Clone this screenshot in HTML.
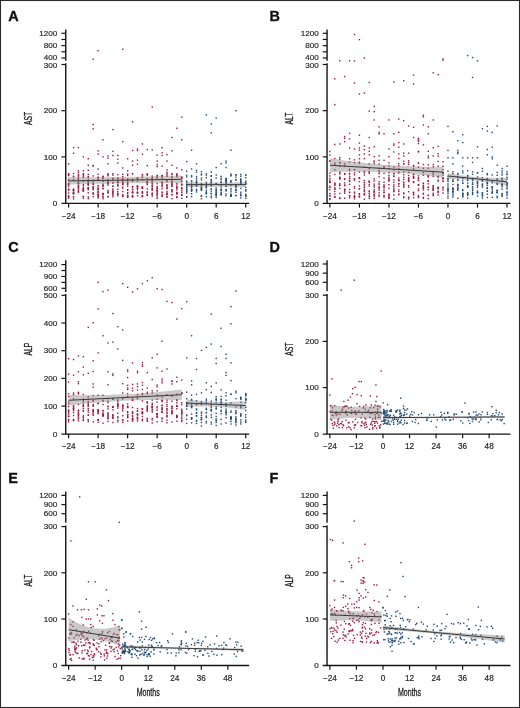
<!DOCTYPE html>
<html><head><meta charset="utf-8"><style>
html,body{margin:0;padding:0;background:#fff;}
svg{display:block;will-change:transform;}
.ax{stroke:#141414;stroke-width:1.4;fill:none}
.tk{stroke:#141414;stroke-width:1.2}
text{font-family:"Liberation Sans",sans-serif;}
.yl{font-size:8.1px;fill:#262626;text-anchor:end;stroke:#262626;stroke-width:0.18px}
.xl{font-size:8.2px;fill:#262626;text-anchor:middle;stroke:#262626;stroke-width:0.18px}
.let{font-size:14.4px;font-weight:bold;fill:#111;stroke:#111;stroke-width:0.35px}
.yt{font-size:10.3px;fill:#1a1a1a;text-anchor:middle;stroke:#1a1a1a;stroke-width:0.3px}
.mt{font-size:11px;fill:#1a1a1a;text-anchor:middle;stroke:#1a1a1a;stroke-width:0.3px}
.r{fill:#a3183f}
.b{fill:#214b78}
.band{fill:#858585;fill-opacity:0.44}
.rl{stroke:#3a3a3a;stroke-width:1.0;fill:none}
</style></head>
<body><svg width="520" height="708" viewBox="0 0 520 708">
<rect x="0" y="0" width="520" height="708" fill="#fff"/>
<rect x="67.9" y="182.69" width="1.4" height="1.4" class="r"/>
<rect x="67.9" y="184.04" width="1.4" height="1.4" class="r"/>
<rect x="67.9" y="192.27" width="1.4" height="1.4" class="r"/>
<rect x="67.9" y="188.38" width="1.4" height="1.4" class="r"/>
<rect x="67.9" y="189.13" width="1.4" height="1.4" class="r"/>
<rect x="67.9" y="185.86" width="1.4" height="1.4" class="r"/>
<rect x="67.9" y="183.64" width="1.4" height="1.4" class="r"/>
<rect x="67.9" y="194.88" width="1.4" height="1.4" class="r"/>
<rect x="67.9" y="195.94" width="1.4" height="1.4" class="r"/>
<rect x="67.9" y="182.88" width="1.4" height="1.4" class="r"/>
<rect x="67.9" y="189.4" width="1.4" height="1.4" class="r"/>
<rect x="67.9" y="184.07" width="1.4" height="1.4" class="r"/>
<rect x="67.9" y="196.36" width="1.4" height="1.4" class="r"/>
<rect x="67.9" y="174.89" width="1.4" height="1.4" class="r"/>
<rect x="67.9" y="178.53" width="1.4" height="1.4" class="r"/>
<rect x="67.9" y="173.24" width="1.4" height="1.4" class="r"/>
<rect x="67.9" y="173.56" width="1.4" height="1.4" class="r"/>
<rect x="67.9" y="180" width="1.4" height="1.4" class="r"/>
<rect x="67.9" y="197.45" width="1.4" height="1.4" class="r"/>
<rect x="72.82" y="190.23" width="1.4" height="1.4" class="r"/>
<rect x="72.82" y="192.89" width="1.4" height="1.4" class="r"/>
<rect x="72.82" y="189.57" width="1.4" height="1.4" class="r"/>
<rect x="72.82" y="195.92" width="1.4" height="1.4" class="r"/>
<rect x="72.82" y="192.81" width="1.4" height="1.4" class="r"/>
<rect x="72.82" y="189.31" width="1.4" height="1.4" class="r"/>
<rect x="72.82" y="188.38" width="1.4" height="1.4" class="r"/>
<rect x="72.82" y="192.63" width="1.4" height="1.4" class="r"/>
<rect x="72.82" y="192.66" width="1.4" height="1.4" class="r"/>
<rect x="72.82" y="192.86" width="1.4" height="1.4" class="r"/>
<rect x="72.82" y="188.96" width="1.4" height="1.4" class="r"/>
<rect x="72.82" y="191.71" width="1.4" height="1.4" class="r"/>
<rect x="72.82" y="196.05" width="1.4" height="1.4" class="r"/>
<rect x="72.82" y="176.11" width="1.4" height="1.4" class="r"/>
<rect x="72.82" y="175.48" width="1.4" height="1.4" class="r"/>
<rect x="72.82" y="178.85" width="1.4" height="1.4" class="r"/>
<rect x="72.82" y="172.89" width="1.4" height="1.4" class="r"/>
<rect x="77.74" y="191.01" width="1.4" height="1.4" class="r"/>
<rect x="77.74" y="184.73" width="1.4" height="1.4" class="r"/>
<rect x="77.74" y="184.89" width="1.4" height="1.4" class="r"/>
<rect x="77.74" y="181.25" width="1.4" height="1.4" class="r"/>
<rect x="77.74" y="189.57" width="1.4" height="1.4" class="r"/>
<rect x="77.74" y="182.97" width="1.4" height="1.4" class="r"/>
<rect x="77.74" y="185.56" width="1.4" height="1.4" class="r"/>
<rect x="77.74" y="191.49" width="1.4" height="1.4" class="r"/>
<rect x="77.74" y="186.89" width="1.4" height="1.4" class="r"/>
<rect x="77.74" y="182.12" width="1.4" height="1.4" class="r"/>
<rect x="77.74" y="182.71" width="1.4" height="1.4" class="r"/>
<rect x="77.74" y="188.22" width="1.4" height="1.4" class="r"/>
<rect x="77.74" y="186.87" width="1.4" height="1.4" class="r"/>
<rect x="77.74" y="178.43" width="1.4" height="1.4" class="r"/>
<rect x="77.74" y="174.33" width="1.4" height="1.4" class="r"/>
<rect x="77.74" y="177.16" width="1.4" height="1.4" class="r"/>
<rect x="77.74" y="178.95" width="1.4" height="1.4" class="r"/>
<rect x="77.74" y="176.17" width="1.4" height="1.4" class="r"/>
<rect x="82.66" y="190.34" width="1.4" height="1.4" class="r"/>
<rect x="82.66" y="189.3" width="1.4" height="1.4" class="r"/>
<rect x="82.66" y="188.17" width="1.4" height="1.4" class="r"/>
<rect x="82.66" y="183.81" width="1.4" height="1.4" class="r"/>
<rect x="82.66" y="187.97" width="1.4" height="1.4" class="r"/>
<rect x="82.66" y="190.04" width="1.4" height="1.4" class="r"/>
<rect x="82.66" y="188.48" width="1.4" height="1.4" class="r"/>
<rect x="82.66" y="195.92" width="1.4" height="1.4" class="r"/>
<rect x="82.66" y="195.69" width="1.4" height="1.4" class="r"/>
<rect x="82.66" y="185.02" width="1.4" height="1.4" class="r"/>
<rect x="82.66" y="180.5" width="1.4" height="1.4" class="r"/>
<rect x="82.66" y="186.8" width="1.4" height="1.4" class="r"/>
<rect x="82.66" y="190.03" width="1.4" height="1.4" class="r"/>
<rect x="82.66" y="176.51" width="1.4" height="1.4" class="r"/>
<rect x="82.66" y="172.96" width="1.4" height="1.4" class="r"/>
<rect x="82.66" y="174.53" width="1.4" height="1.4" class="r"/>
<rect x="82.66" y="176.24" width="1.4" height="1.4" class="r"/>
<rect x="82.66" y="173.86" width="1.4" height="1.4" class="r"/>
<rect x="82.66" y="197.52" width="1.4" height="1.4" class="r"/>
<rect x="87.58" y="187.05" width="1.4" height="1.4" class="r"/>
<rect x="87.58" y="188.97" width="1.4" height="1.4" class="r"/>
<rect x="87.58" y="192.04" width="1.4" height="1.4" class="r"/>
<rect x="87.58" y="187.53" width="1.4" height="1.4" class="r"/>
<rect x="87.58" y="180.92" width="1.4" height="1.4" class="r"/>
<rect x="87.58" y="196.3" width="1.4" height="1.4" class="r"/>
<rect x="87.58" y="183.72" width="1.4" height="1.4" class="r"/>
<rect x="87.58" y="183.13" width="1.4" height="1.4" class="r"/>
<rect x="87.58" y="182.06" width="1.4" height="1.4" class="r"/>
<rect x="87.58" y="184.42" width="1.4" height="1.4" class="r"/>
<rect x="87.58" y="183.31" width="1.4" height="1.4" class="r"/>
<rect x="87.58" y="188.01" width="1.4" height="1.4" class="r"/>
<rect x="87.58" y="187.32" width="1.4" height="1.4" class="r"/>
<rect x="87.58" y="179.81" width="1.4" height="1.4" class="r"/>
<rect x="87.58" y="173.79" width="1.4" height="1.4" class="r"/>
<rect x="87.58" y="176.01" width="1.4" height="1.4" class="r"/>
<rect x="87.58" y="178.75" width="1.4" height="1.4" class="r"/>
<rect x="87.58" y="176.49" width="1.4" height="1.4" class="r"/>
<rect x="87.58" y="197.88" width="1.4" height="1.4" class="r"/>
<rect x="92.5" y="187.69" width="1.4" height="1.4" class="r"/>
<rect x="92.5" y="186.31" width="1.4" height="1.4" class="r"/>
<rect x="92.5" y="186.49" width="1.4" height="1.4" class="r"/>
<rect x="92.5" y="188.99" width="1.4" height="1.4" class="r"/>
<rect x="92.5" y="195.94" width="1.4" height="1.4" class="r"/>
<rect x="92.5" y="192.68" width="1.4" height="1.4" class="r"/>
<rect x="92.5" y="193.53" width="1.4" height="1.4" class="r"/>
<rect x="92.5" y="186.94" width="1.4" height="1.4" class="r"/>
<rect x="92.5" y="182.47" width="1.4" height="1.4" class="r"/>
<rect x="92.5" y="183.48" width="1.4" height="1.4" class="r"/>
<rect x="92.5" y="183.5" width="1.4" height="1.4" class="r"/>
<rect x="92.5" y="183.19" width="1.4" height="1.4" class="r"/>
<rect x="92.5" y="192.27" width="1.4" height="1.4" class="r"/>
<rect x="92.5" y="175.25" width="1.4" height="1.4" class="r"/>
<rect x="92.5" y="179.61" width="1.4" height="1.4" class="r"/>
<rect x="92.5" y="180.1" width="1.4" height="1.4" class="r"/>
<rect x="92.5" y="180.12" width="1.4" height="1.4" class="r"/>
<rect x="97.42" y="194.62" width="1.4" height="1.4" class="r"/>
<rect x="97.42" y="186.29" width="1.4" height="1.4" class="r"/>
<rect x="97.42" y="190.82" width="1.4" height="1.4" class="r"/>
<rect x="97.42" y="195.27" width="1.4" height="1.4" class="r"/>
<rect x="97.42" y="193.81" width="1.4" height="1.4" class="r"/>
<rect x="97.42" y="187.87" width="1.4" height="1.4" class="r"/>
<rect x="97.42" y="193.68" width="1.4" height="1.4" class="r"/>
<rect x="97.42" y="191.98" width="1.4" height="1.4" class="r"/>
<rect x="97.42" y="184.89" width="1.4" height="1.4" class="r"/>
<rect x="97.42" y="189.04" width="1.4" height="1.4" class="r"/>
<rect x="97.42" y="191.19" width="1.4" height="1.4" class="r"/>
<rect x="97.42" y="188.73" width="1.4" height="1.4" class="r"/>
<rect x="97.42" y="196.01" width="1.4" height="1.4" class="r"/>
<rect x="97.42" y="177.11" width="1.4" height="1.4" class="r"/>
<rect x="97.42" y="178.83" width="1.4" height="1.4" class="r"/>
<rect x="97.42" y="179.42" width="1.4" height="1.4" class="r"/>
<rect x="97.42" y="173.57" width="1.4" height="1.4" class="r"/>
<rect x="97.42" y="176.45" width="1.4" height="1.4" class="r"/>
<rect x="97.42" y="197.3" width="1.4" height="1.4" class="r"/>
<rect x="102.34" y="196.06" width="1.4" height="1.4" class="r"/>
<rect x="102.34" y="196.11" width="1.4" height="1.4" class="r"/>
<rect x="102.34" y="194.03" width="1.4" height="1.4" class="r"/>
<rect x="102.34" y="184.77" width="1.4" height="1.4" class="r"/>
<rect x="102.34" y="193.8" width="1.4" height="1.4" class="r"/>
<rect x="102.34" y="185" width="1.4" height="1.4" class="r"/>
<rect x="102.34" y="185.43" width="1.4" height="1.4" class="r"/>
<rect x="102.34" y="187.59" width="1.4" height="1.4" class="r"/>
<rect x="102.34" y="192.83" width="1.4" height="1.4" class="r"/>
<rect x="102.34" y="180.62" width="1.4" height="1.4" class="r"/>
<rect x="102.34" y="183.49" width="1.4" height="1.4" class="r"/>
<rect x="102.34" y="188.04" width="1.4" height="1.4" class="r"/>
<rect x="102.34" y="192.78" width="1.4" height="1.4" class="r"/>
<rect x="102.34" y="177.3" width="1.4" height="1.4" class="r"/>
<rect x="102.34" y="175.97" width="1.4" height="1.4" class="r"/>
<rect x="102.34" y="177.85" width="1.4" height="1.4" class="r"/>
<rect x="102.34" y="175.56" width="1.4" height="1.4" class="r"/>
<rect x="102.34" y="198.01" width="1.4" height="1.4" class="r"/>
<rect x="107.26" y="182.24" width="1.4" height="1.4" class="r"/>
<rect x="107.26" y="191.44" width="1.4" height="1.4" class="r"/>
<rect x="107.26" y="182.51" width="1.4" height="1.4" class="r"/>
<rect x="107.26" y="191.38" width="1.4" height="1.4" class="r"/>
<rect x="107.26" y="181.21" width="1.4" height="1.4" class="r"/>
<rect x="107.26" y="184.37" width="1.4" height="1.4" class="r"/>
<rect x="107.26" y="189.66" width="1.4" height="1.4" class="r"/>
<rect x="107.26" y="192.31" width="1.4" height="1.4" class="r"/>
<rect x="107.26" y="196.26" width="1.4" height="1.4" class="r"/>
<rect x="107.26" y="182.19" width="1.4" height="1.4" class="r"/>
<rect x="107.26" y="195.78" width="1.4" height="1.4" class="r"/>
<rect x="107.26" y="183.14" width="1.4" height="1.4" class="r"/>
<rect x="107.26" y="180.84" width="1.4" height="1.4" class="r"/>
<rect x="107.26" y="178.96" width="1.4" height="1.4" class="r"/>
<rect x="107.26" y="173.81" width="1.4" height="1.4" class="r"/>
<rect x="107.26" y="173.03" width="1.4" height="1.4" class="r"/>
<rect x="107.26" y="175.02" width="1.4" height="1.4" class="r"/>
<rect x="112.18" y="190.78" width="1.4" height="1.4" class="r"/>
<rect x="112.18" y="193.07" width="1.4" height="1.4" class="r"/>
<rect x="112.18" y="185.49" width="1.4" height="1.4" class="r"/>
<rect x="112.18" y="189.39" width="1.4" height="1.4" class="r"/>
<rect x="112.18" y="193.26" width="1.4" height="1.4" class="r"/>
<rect x="112.18" y="194.71" width="1.4" height="1.4" class="r"/>
<rect x="112.18" y="185.63" width="1.4" height="1.4" class="r"/>
<rect x="112.18" y="191.61" width="1.4" height="1.4" class="r"/>
<rect x="112.18" y="188.31" width="1.4" height="1.4" class="r"/>
<rect x="112.18" y="191.13" width="1.4" height="1.4" class="r"/>
<rect x="112.18" y="182.3" width="1.4" height="1.4" class="r"/>
<rect x="112.18" y="181.85" width="1.4" height="1.4" class="r"/>
<rect x="112.18" y="196.1" width="1.4" height="1.4" class="r"/>
<rect x="112.18" y="177.8" width="1.4" height="1.4" class="r"/>
<rect x="112.18" y="172.93" width="1.4" height="1.4" class="r"/>
<rect x="112.18" y="174.44" width="1.4" height="1.4" class="r"/>
<rect x="112.18" y="177.72" width="1.4" height="1.4" class="r"/>
<rect x="112.18" y="178.65" width="1.4" height="1.4" class="r"/>
<rect x="117.1" y="181.32" width="1.4" height="1.4" class="r"/>
<rect x="117.1" y="190.83" width="1.4" height="1.4" class="r"/>
<rect x="117.1" y="182.13" width="1.4" height="1.4" class="r"/>
<rect x="117.1" y="185.28" width="1.4" height="1.4" class="r"/>
<rect x="117.1" y="188.56" width="1.4" height="1.4" class="r"/>
<rect x="117.1" y="180.46" width="1.4" height="1.4" class="r"/>
<rect x="117.1" y="192.6" width="1.4" height="1.4" class="r"/>
<rect x="117.1" y="184.66" width="1.4" height="1.4" class="r"/>
<rect x="117.1" y="195.02" width="1.4" height="1.4" class="r"/>
<rect x="117.1" y="193.65" width="1.4" height="1.4" class="r"/>
<rect x="117.1" y="181.66" width="1.4" height="1.4" class="r"/>
<rect x="117.1" y="192.95" width="1.4" height="1.4" class="r"/>
<rect x="117.1" y="184.12" width="1.4" height="1.4" class="r"/>
<rect x="117.1" y="174.01" width="1.4" height="1.4" class="r"/>
<rect x="117.1" y="177.5" width="1.4" height="1.4" class="r"/>
<rect x="117.1" y="177.71" width="1.4" height="1.4" class="r"/>
<rect x="117.1" y="178.07" width="1.4" height="1.4" class="r"/>
<rect x="122.02" y="180.96" width="1.4" height="1.4" class="r"/>
<rect x="122.02" y="182.05" width="1.4" height="1.4" class="r"/>
<rect x="122.02" y="194.21" width="1.4" height="1.4" class="r"/>
<rect x="122.02" y="187.48" width="1.4" height="1.4" class="r"/>
<rect x="122.02" y="194.71" width="1.4" height="1.4" class="r"/>
<rect x="122.02" y="195.76" width="1.4" height="1.4" class="r"/>
<rect x="122.02" y="195.21" width="1.4" height="1.4" class="r"/>
<rect x="122.02" y="182.39" width="1.4" height="1.4" class="r"/>
<rect x="122.02" y="183.65" width="1.4" height="1.4" class="r"/>
<rect x="122.02" y="183" width="1.4" height="1.4" class="r"/>
<rect x="122.02" y="190.88" width="1.4" height="1.4" class="r"/>
<rect x="122.02" y="186.45" width="1.4" height="1.4" class="r"/>
<rect x="122.02" y="183.75" width="1.4" height="1.4" class="r"/>
<rect x="122.02" y="176" width="1.4" height="1.4" class="r"/>
<rect x="122.02" y="178.57" width="1.4" height="1.4" class="r"/>
<rect x="122.02" y="179.62" width="1.4" height="1.4" class="r"/>
<rect x="122.02" y="178.25" width="1.4" height="1.4" class="r"/>
<rect x="122.02" y="173.64" width="1.4" height="1.4" class="r"/>
<rect x="126.94" y="188.99" width="1.4" height="1.4" class="r"/>
<rect x="126.94" y="191.91" width="1.4" height="1.4" class="r"/>
<rect x="126.94" y="183.67" width="1.4" height="1.4" class="r"/>
<rect x="126.94" y="183.01" width="1.4" height="1.4" class="r"/>
<rect x="126.94" y="196.19" width="1.4" height="1.4" class="r"/>
<rect x="126.94" y="185.55" width="1.4" height="1.4" class="r"/>
<rect x="126.94" y="194.91" width="1.4" height="1.4" class="r"/>
<rect x="126.94" y="194.53" width="1.4" height="1.4" class="r"/>
<rect x="126.94" y="182.08" width="1.4" height="1.4" class="r"/>
<rect x="126.94" y="195.75" width="1.4" height="1.4" class="r"/>
<rect x="126.94" y="192.52" width="1.4" height="1.4" class="r"/>
<rect x="126.94" y="180.42" width="1.4" height="1.4" class="r"/>
<rect x="126.94" y="189.59" width="1.4" height="1.4" class="r"/>
<rect x="126.94" y="178.99" width="1.4" height="1.4" class="r"/>
<rect x="126.94" y="178.44" width="1.4" height="1.4" class="r"/>
<rect x="126.94" y="174.72" width="1.4" height="1.4" class="r"/>
<rect x="126.94" y="179.46" width="1.4" height="1.4" class="r"/>
<rect x="126.94" y="173.49" width="1.4" height="1.4" class="r"/>
<rect x="126.94" y="196.46" width="1.4" height="1.4" class="r"/>
<rect x="131.86" y="191.64" width="1.4" height="1.4" class="r"/>
<rect x="131.86" y="192.3" width="1.4" height="1.4" class="r"/>
<rect x="131.86" y="188.68" width="1.4" height="1.4" class="r"/>
<rect x="131.86" y="194.77" width="1.4" height="1.4" class="r"/>
<rect x="131.86" y="185.85" width="1.4" height="1.4" class="r"/>
<rect x="131.86" y="195.75" width="1.4" height="1.4" class="r"/>
<rect x="131.86" y="196.22" width="1.4" height="1.4" class="r"/>
<rect x="131.86" y="180.51" width="1.4" height="1.4" class="r"/>
<rect x="131.86" y="191.61" width="1.4" height="1.4" class="r"/>
<rect x="131.86" y="186.75" width="1.4" height="1.4" class="r"/>
<rect x="131.86" y="189.12" width="1.4" height="1.4" class="r"/>
<rect x="131.86" y="191.33" width="1.4" height="1.4" class="r"/>
<rect x="131.86" y="195.38" width="1.4" height="1.4" class="r"/>
<rect x="131.86" y="173.06" width="1.4" height="1.4" class="r"/>
<rect x="131.86" y="173.06" width="1.4" height="1.4" class="r"/>
<rect x="131.86" y="179.4" width="1.4" height="1.4" class="r"/>
<rect x="131.86" y="178.63" width="1.4" height="1.4" class="r"/>
<rect x="136.78" y="187.62" width="1.4" height="1.4" class="r"/>
<rect x="136.78" y="185.27" width="1.4" height="1.4" class="r"/>
<rect x="136.78" y="185.69" width="1.4" height="1.4" class="r"/>
<rect x="136.78" y="192.2" width="1.4" height="1.4" class="r"/>
<rect x="136.78" y="187.64" width="1.4" height="1.4" class="r"/>
<rect x="136.78" y="191.42" width="1.4" height="1.4" class="r"/>
<rect x="136.78" y="192.41" width="1.4" height="1.4" class="r"/>
<rect x="136.78" y="195.08" width="1.4" height="1.4" class="r"/>
<rect x="136.78" y="191.85" width="1.4" height="1.4" class="r"/>
<rect x="136.78" y="180.49" width="1.4" height="1.4" class="r"/>
<rect x="136.78" y="189.15" width="1.4" height="1.4" class="r"/>
<rect x="136.78" y="185.85" width="1.4" height="1.4" class="r"/>
<rect x="136.78" y="185.99" width="1.4" height="1.4" class="r"/>
<rect x="136.78" y="177.34" width="1.4" height="1.4" class="r"/>
<rect x="136.78" y="177.96" width="1.4" height="1.4" class="r"/>
<rect x="136.78" y="177.81" width="1.4" height="1.4" class="r"/>
<rect x="136.78" y="177.88" width="1.4" height="1.4" class="r"/>
<rect x="141.7" y="191.5" width="1.4" height="1.4" class="r"/>
<rect x="141.7" y="190.99" width="1.4" height="1.4" class="r"/>
<rect x="141.7" y="187.59" width="1.4" height="1.4" class="r"/>
<rect x="141.7" y="187.03" width="1.4" height="1.4" class="r"/>
<rect x="141.7" y="186.76" width="1.4" height="1.4" class="r"/>
<rect x="141.7" y="192.43" width="1.4" height="1.4" class="r"/>
<rect x="141.7" y="196.06" width="1.4" height="1.4" class="r"/>
<rect x="141.7" y="192.45" width="1.4" height="1.4" class="r"/>
<rect x="141.7" y="195.22" width="1.4" height="1.4" class="r"/>
<rect x="141.7" y="187.48" width="1.4" height="1.4" class="r"/>
<rect x="141.7" y="195.25" width="1.4" height="1.4" class="r"/>
<rect x="141.7" y="195.18" width="1.4" height="1.4" class="r"/>
<rect x="141.7" y="186.12" width="1.4" height="1.4" class="r"/>
<rect x="141.7" y="174.37" width="1.4" height="1.4" class="r"/>
<rect x="141.7" y="176.58" width="1.4" height="1.4" class="r"/>
<rect x="141.7" y="173.85" width="1.4" height="1.4" class="r"/>
<rect x="141.7" y="179.08" width="1.4" height="1.4" class="r"/>
<rect x="141.7" y="176.52" width="1.4" height="1.4" class="r"/>
<rect x="146.62" y="181.04" width="1.4" height="1.4" class="r"/>
<rect x="146.62" y="193.59" width="1.4" height="1.4" class="r"/>
<rect x="146.62" y="183.84" width="1.4" height="1.4" class="r"/>
<rect x="146.62" y="180.47" width="1.4" height="1.4" class="r"/>
<rect x="146.62" y="183.11" width="1.4" height="1.4" class="r"/>
<rect x="146.62" y="191.22" width="1.4" height="1.4" class="r"/>
<rect x="146.62" y="194.67" width="1.4" height="1.4" class="r"/>
<rect x="146.62" y="188.08" width="1.4" height="1.4" class="r"/>
<rect x="146.62" y="181.53" width="1.4" height="1.4" class="r"/>
<rect x="146.62" y="191.65" width="1.4" height="1.4" class="r"/>
<rect x="146.62" y="181.94" width="1.4" height="1.4" class="r"/>
<rect x="146.62" y="194.1" width="1.4" height="1.4" class="r"/>
<rect x="146.62" y="181.67" width="1.4" height="1.4" class="r"/>
<rect x="146.62" y="177.89" width="1.4" height="1.4" class="r"/>
<rect x="146.62" y="173.55" width="1.4" height="1.4" class="r"/>
<rect x="146.62" y="174.28" width="1.4" height="1.4" class="r"/>
<rect x="146.62" y="173.52" width="1.4" height="1.4" class="r"/>
<rect x="146.62" y="174.01" width="1.4" height="1.4" class="r"/>
<rect x="151.54" y="193.51" width="1.4" height="1.4" class="r"/>
<rect x="151.54" y="189.4" width="1.4" height="1.4" class="r"/>
<rect x="151.54" y="193.84" width="1.4" height="1.4" class="r"/>
<rect x="151.54" y="184.84" width="1.4" height="1.4" class="r"/>
<rect x="151.54" y="185.6" width="1.4" height="1.4" class="r"/>
<rect x="151.54" y="192.31" width="1.4" height="1.4" class="r"/>
<rect x="151.54" y="195.35" width="1.4" height="1.4" class="r"/>
<rect x="151.54" y="180.82" width="1.4" height="1.4" class="r"/>
<rect x="151.54" y="183.32" width="1.4" height="1.4" class="r"/>
<rect x="151.54" y="187.51" width="1.4" height="1.4" class="r"/>
<rect x="151.54" y="187.64" width="1.4" height="1.4" class="r"/>
<rect x="151.54" y="182.63" width="1.4" height="1.4" class="r"/>
<rect x="151.54" y="189.06" width="1.4" height="1.4" class="r"/>
<rect x="151.54" y="177.72" width="1.4" height="1.4" class="r"/>
<rect x="151.54" y="178.32" width="1.4" height="1.4" class="r"/>
<rect x="151.54" y="180.04" width="1.4" height="1.4" class="r"/>
<rect x="151.54" y="175.45" width="1.4" height="1.4" class="r"/>
<rect x="151.54" y="177.14" width="1.4" height="1.4" class="r"/>
<rect x="156.46" y="190.65" width="1.4" height="1.4" class="r"/>
<rect x="156.46" y="194.16" width="1.4" height="1.4" class="r"/>
<rect x="156.46" y="194.37" width="1.4" height="1.4" class="r"/>
<rect x="156.46" y="192.2" width="1.4" height="1.4" class="r"/>
<rect x="156.46" y="182.99" width="1.4" height="1.4" class="r"/>
<rect x="156.46" y="189.96" width="1.4" height="1.4" class="r"/>
<rect x="156.46" y="189.91" width="1.4" height="1.4" class="r"/>
<rect x="156.46" y="186.49" width="1.4" height="1.4" class="r"/>
<rect x="156.46" y="192.62" width="1.4" height="1.4" class="r"/>
<rect x="156.46" y="196.27" width="1.4" height="1.4" class="r"/>
<rect x="156.46" y="187.84" width="1.4" height="1.4" class="r"/>
<rect x="156.46" y="188.29" width="1.4" height="1.4" class="r"/>
<rect x="156.46" y="185.9" width="1.4" height="1.4" class="r"/>
<rect x="156.46" y="175.15" width="1.4" height="1.4" class="r"/>
<rect x="156.46" y="174.82" width="1.4" height="1.4" class="r"/>
<rect x="156.46" y="178.46" width="1.4" height="1.4" class="r"/>
<rect x="156.46" y="176.56" width="1.4" height="1.4" class="r"/>
<rect x="156.46" y="176.68" width="1.4" height="1.4" class="r"/>
<rect x="156.46" y="197.75" width="1.4" height="1.4" class="r"/>
<rect x="161.38" y="181.73" width="1.4" height="1.4" class="r"/>
<rect x="161.38" y="181.55" width="1.4" height="1.4" class="r"/>
<rect x="161.38" y="191.94" width="1.4" height="1.4" class="r"/>
<rect x="161.38" y="185.94" width="1.4" height="1.4" class="r"/>
<rect x="161.38" y="195.61" width="1.4" height="1.4" class="r"/>
<rect x="161.38" y="195.24" width="1.4" height="1.4" class="r"/>
<rect x="161.38" y="188.12" width="1.4" height="1.4" class="r"/>
<rect x="161.38" y="182.21" width="1.4" height="1.4" class="r"/>
<rect x="161.38" y="193.82" width="1.4" height="1.4" class="r"/>
<rect x="161.38" y="184.01" width="1.4" height="1.4" class="r"/>
<rect x="161.38" y="182.12" width="1.4" height="1.4" class="r"/>
<rect x="161.38" y="191.35" width="1.4" height="1.4" class="r"/>
<rect x="161.38" y="185.2" width="1.4" height="1.4" class="r"/>
<rect x="161.38" y="177.48" width="1.4" height="1.4" class="r"/>
<rect x="161.38" y="175.04" width="1.4" height="1.4" class="r"/>
<rect x="161.38" y="174.78" width="1.4" height="1.4" class="r"/>
<rect x="161.38" y="175.83" width="1.4" height="1.4" class="r"/>
<rect x="166.3" y="180.87" width="1.4" height="1.4" class="r"/>
<rect x="166.3" y="187.16" width="1.4" height="1.4" class="r"/>
<rect x="166.3" y="193.54" width="1.4" height="1.4" class="r"/>
<rect x="166.3" y="192.34" width="1.4" height="1.4" class="r"/>
<rect x="166.3" y="192.88" width="1.4" height="1.4" class="r"/>
<rect x="166.3" y="187.18" width="1.4" height="1.4" class="r"/>
<rect x="166.3" y="184.14" width="1.4" height="1.4" class="r"/>
<rect x="166.3" y="195.55" width="1.4" height="1.4" class="r"/>
<rect x="166.3" y="185.37" width="1.4" height="1.4" class="r"/>
<rect x="166.3" y="184.8" width="1.4" height="1.4" class="r"/>
<rect x="166.3" y="190.77" width="1.4" height="1.4" class="r"/>
<rect x="166.3" y="188.07" width="1.4" height="1.4" class="r"/>
<rect x="166.3" y="193.73" width="1.4" height="1.4" class="r"/>
<rect x="166.3" y="179.92" width="1.4" height="1.4" class="r"/>
<rect x="166.3" y="172.97" width="1.4" height="1.4" class="r"/>
<rect x="166.3" y="174.25" width="1.4" height="1.4" class="r"/>
<rect x="166.3" y="175.58" width="1.4" height="1.4" class="r"/>
<rect x="166.3" y="196.6" width="1.4" height="1.4" class="r"/>
<rect x="171.22" y="194.14" width="1.4" height="1.4" class="r"/>
<rect x="171.22" y="183.85" width="1.4" height="1.4" class="r"/>
<rect x="171.22" y="182.78" width="1.4" height="1.4" class="r"/>
<rect x="171.22" y="185.73" width="1.4" height="1.4" class="r"/>
<rect x="171.22" y="185.07" width="1.4" height="1.4" class="r"/>
<rect x="171.22" y="189.2" width="1.4" height="1.4" class="r"/>
<rect x="171.22" y="181.45" width="1.4" height="1.4" class="r"/>
<rect x="171.22" y="180.69" width="1.4" height="1.4" class="r"/>
<rect x="171.22" y="190.21" width="1.4" height="1.4" class="r"/>
<rect x="171.22" y="183.41" width="1.4" height="1.4" class="r"/>
<rect x="171.22" y="189.39" width="1.4" height="1.4" class="r"/>
<rect x="171.22" y="193.73" width="1.4" height="1.4" class="r"/>
<rect x="171.22" y="191.13" width="1.4" height="1.4" class="r"/>
<rect x="171.22" y="173.51" width="1.4" height="1.4" class="r"/>
<rect x="171.22" y="173.13" width="1.4" height="1.4" class="r"/>
<rect x="171.22" y="179.34" width="1.4" height="1.4" class="r"/>
<rect x="171.22" y="175.78" width="1.4" height="1.4" class="r"/>
<rect x="171.22" y="177.21" width="1.4" height="1.4" class="r"/>
<rect x="171.22" y="198.02" width="1.4" height="1.4" class="r"/>
<rect x="176.14" y="184.27" width="1.4" height="1.4" class="r"/>
<rect x="176.14" y="196.33" width="1.4" height="1.4" class="r"/>
<rect x="176.14" y="193.32" width="1.4" height="1.4" class="r"/>
<rect x="176.14" y="189.3" width="1.4" height="1.4" class="r"/>
<rect x="176.14" y="196.05" width="1.4" height="1.4" class="r"/>
<rect x="176.14" y="186.25" width="1.4" height="1.4" class="r"/>
<rect x="176.14" y="186.6" width="1.4" height="1.4" class="r"/>
<rect x="176.14" y="182.89" width="1.4" height="1.4" class="r"/>
<rect x="176.14" y="193.05" width="1.4" height="1.4" class="r"/>
<rect x="176.14" y="191.79" width="1.4" height="1.4" class="r"/>
<rect x="176.14" y="187.62" width="1.4" height="1.4" class="r"/>
<rect x="176.14" y="191.98" width="1.4" height="1.4" class="r"/>
<rect x="176.14" y="186.92" width="1.4" height="1.4" class="r"/>
<rect x="176.14" y="175.17" width="1.4" height="1.4" class="r"/>
<rect x="176.14" y="174.38" width="1.4" height="1.4" class="r"/>
<rect x="176.14" y="174.25" width="1.4" height="1.4" class="r"/>
<rect x="176.14" y="173.03" width="1.4" height="1.4" class="r"/>
<rect x="176.14" y="176.19" width="1.4" height="1.4" class="r"/>
<rect x="176.14" y="196.73" width="1.4" height="1.4" class="r"/>
<rect x="181.06" y="187.17" width="1.4" height="1.4" class="r"/>
<rect x="181.06" y="190.2" width="1.4" height="1.4" class="r"/>
<rect x="181.06" y="191.8" width="1.4" height="1.4" class="r"/>
<rect x="181.06" y="194.65" width="1.4" height="1.4" class="r"/>
<rect x="181.06" y="183.34" width="1.4" height="1.4" class="r"/>
<rect x="181.06" y="194.48" width="1.4" height="1.4" class="r"/>
<rect x="181.06" y="184.31" width="1.4" height="1.4" class="r"/>
<rect x="181.06" y="187.58" width="1.4" height="1.4" class="r"/>
<rect x="181.06" y="180.79" width="1.4" height="1.4" class="r"/>
<rect x="181.06" y="184.09" width="1.4" height="1.4" class="r"/>
<rect x="181.06" y="180.65" width="1.4" height="1.4" class="r"/>
<rect x="181.06" y="194.19" width="1.4" height="1.4" class="r"/>
<rect x="181.06" y="188.3" width="1.4" height="1.4" class="r"/>
<rect x="181.06" y="177.92" width="1.4" height="1.4" class="r"/>
<rect x="181.06" y="176.51" width="1.4" height="1.4" class="r"/>
<rect x="181.06" y="177.59" width="1.4" height="1.4" class="r"/>
<rect x="181.06" y="176.32" width="1.4" height="1.4" class="r"/>
<rect x="181.06" y="197.68" width="1.4" height="1.4" class="r"/>
<rect x="92.5" y="58.51" width="1.4" height="1.4" class="r"/>
<rect x="97.42" y="50.04" width="1.4" height="1.4" class="r"/>
<rect x="122.02" y="48.52" width="1.4" height="1.4" class="r"/>
<rect x="151.54" y="106.3" width="1.4" height="1.4" class="r"/>
<rect x="131.86" y="121.09" width="1.4" height="1.4" class="r"/>
<rect x="92.5" y="123.86" width="1.4" height="1.4" class="r"/>
<rect x="92.5" y="128.02" width="1.4" height="1.4" class="r"/>
<rect x="112.18" y="128.94" width="1.4" height="1.4" class="r"/>
<rect x="102.34" y="139.11" width="1.4" height="1.4" class="r"/>
<rect x="122.02" y="140.95" width="1.4" height="1.4" class="r"/>
<rect x="141.7" y="143.26" width="1.4" height="1.4" class="r"/>
<rect x="72.82" y="146.96" width="1.4" height="1.4" class="r"/>
<rect x="77.74" y="146.96" width="1.4" height="1.4" class="r"/>
<rect x="72.82" y="152.5" width="1.4" height="1.4" class="r"/>
<rect x="97.42" y="150.19" width="1.4" height="1.4" class="r"/>
<rect x="97.42" y="153.43" width="1.4" height="1.4" class="r"/>
<rect x="112.18" y="150.66" width="1.4" height="1.4" class="r"/>
<rect x="112.18" y="154.81" width="1.4" height="1.4" class="r"/>
<rect x="131.86" y="149.73" width="1.4" height="1.4" class="r"/>
<rect x="136.78" y="148.35" width="1.4" height="1.4" class="r"/>
<rect x="136.78" y="149.73" width="1.4" height="1.4" class="r"/>
<rect x="146.62" y="148.81" width="1.4" height="1.4" class="r"/>
<rect x="151.54" y="149.27" width="1.4" height="1.4" class="r"/>
<rect x="156.46" y="154.35" width="1.4" height="1.4" class="r"/>
<rect x="82.66" y="156.2" width="1.4" height="1.4" class="r"/>
<rect x="87.58" y="158.05" width="1.4" height="1.4" class="r"/>
<rect x="102.34" y="156.2" width="1.4" height="1.4" class="r"/>
<rect x="107.26" y="155.28" width="1.4" height="1.4" class="r"/>
<rect x="107.26" y="157.59" width="1.4" height="1.4" class="r"/>
<rect x="117.1" y="154.81" width="1.4" height="1.4" class="r"/>
<rect x="117.1" y="158.51" width="1.4" height="1.4" class="r"/>
<rect x="117.1" y="162.21" width="1.4" height="1.4" class="r"/>
<rect x="126.94" y="158.05" width="1.4" height="1.4" class="r"/>
<rect x="131.86" y="160.36" width="1.4" height="1.4" class="r"/>
<rect x="131.86" y="164.52" width="1.4" height="1.4" class="r"/>
<rect x="136.78" y="159.43" width="1.4" height="1.4" class="r"/>
<rect x="136.78" y="163.59" width="1.4" height="1.4" class="r"/>
<rect x="141.7" y="153.43" width="1.4" height="1.4" class="r"/>
<rect x="146.62" y="164.98" width="1.4" height="1.4" class="r"/>
<rect x="156.46" y="160.36" width="1.4" height="1.4" class="r"/>
<rect x="156.46" y="164.05" width="1.4" height="1.4" class="r"/>
<rect x="156.46" y="165.9" width="1.4" height="1.4" class="r"/>
<rect x="67.9" y="163.13" width="1.4" height="1.4" class="r"/>
<rect x="92.5" y="164.98" width="1.4" height="1.4" class="r"/>
<rect x="87.58" y="164.52" width="1.4" height="1.4" class="r"/>
<rect x="87.58" y="169.6" width="1.4" height="1.4" class="r"/>
<rect x="82.66" y="170.06" width="1.4" height="1.4" class="r"/>
<rect x="77.74" y="170.06" width="1.4" height="1.4" class="r"/>
<rect x="77.74" y="171.91" width="1.4" height="1.4" class="r"/>
<rect x="77.74" y="174.22" width="1.4" height="1.4" class="r"/>
<rect x="97.42" y="168.21" width="1.4" height="1.4" class="r"/>
<rect x="107.26" y="163.13" width="1.4" height="1.4" class="r"/>
<rect x="122.02" y="167.29" width="1.4" height="1.4" class="r"/>
<rect x="126.94" y="170.06" width="1.4" height="1.4" class="r"/>
<rect x="181.06" y="116.47" width="1.4" height="1.4" class="r"/>
<rect x="176.14" y="127.56" width="1.4" height="1.4" class="r"/>
<rect x="171.22" y="136.8" width="1.4" height="1.4" class="r"/>
<rect x="181.06" y="139.11" width="1.4" height="1.4" class="r"/>
<rect x="161.38" y="146.96" width="1.4" height="1.4" class="r"/>
<rect x="161.38" y="152.04" width="1.4" height="1.4" class="r"/>
<rect x="161.38" y="154.81" width="1.4" height="1.4" class="r"/>
<rect x="166.3" y="153.89" width="1.4" height="1.4" class="r"/>
<rect x="171.22" y="150.19" width="1.4" height="1.4" class="r"/>
<rect x="161.38" y="165.44" width="1.4" height="1.4" class="r"/>
<rect x="166.3" y="160.36" width="1.4" height="1.4" class="r"/>
<rect x="166.3" y="169.14" width="1.4" height="1.4" class="r"/>
<rect x="166.3" y="171.45" width="1.4" height="1.4" class="r"/>
<rect x="171.22" y="164.52" width="1.4" height="1.4" class="r"/>
<rect x="176.14" y="167.29" width="1.4" height="1.4" class="r"/>
<rect x="181.06" y="169.14" width="1.4" height="1.4" class="r"/>
<rect x="67.9" y="173.76" width="1.4" height="1.4" class="r"/>
<rect x="72.82" y="198.24" width="1.4" height="1.4" class="r"/>
<rect x="92.5" y="165.44" width="1.4" height="1.4" class="r"/>
<rect x="97.42" y="176.99" width="1.4" height="1.4" class="r"/>
<rect x="185.98" y="190.58" width="1.4" height="1.4" class="b"/>
<rect x="185.98" y="188.92" width="1.4" height="1.4" class="b"/>
<rect x="185.98" y="182.18" width="1.4" height="1.4" class="b"/>
<rect x="185.98" y="183.93" width="1.4" height="1.4" class="b"/>
<rect x="185.98" y="187.29" width="1.4" height="1.4" class="b"/>
<rect x="185.98" y="184.56" width="1.4" height="1.4" class="b"/>
<rect x="185.98" y="189.3" width="1.4" height="1.4" class="b"/>
<rect x="185.98" y="192.35" width="1.4" height="1.4" class="b"/>
<rect x="185.98" y="195.86" width="1.4" height="1.4" class="b"/>
<rect x="185.98" y="191.06" width="1.4" height="1.4" class="b"/>
<rect x="185.98" y="185.43" width="1.4" height="1.4" class="b"/>
<rect x="185.98" y="180.45" width="1.4" height="1.4" class="b"/>
<rect x="185.98" y="181.37" width="1.4" height="1.4" class="b"/>
<rect x="185.98" y="186.96" width="1.4" height="1.4" class="b"/>
<rect x="185.98" y="176.24" width="1.4" height="1.4" class="b"/>
<rect x="185.98" y="174.52" width="1.4" height="1.4" class="b"/>
<rect x="185.98" y="196.52" width="1.4" height="1.4" class="b"/>
<rect x="190.9" y="190.57" width="1.4" height="1.4" class="b"/>
<rect x="190.9" y="192.94" width="1.4" height="1.4" class="b"/>
<rect x="190.9" y="185.05" width="1.4" height="1.4" class="b"/>
<rect x="190.9" y="186.61" width="1.4" height="1.4" class="b"/>
<rect x="190.9" y="189.62" width="1.4" height="1.4" class="b"/>
<rect x="190.9" y="195.87" width="1.4" height="1.4" class="b"/>
<rect x="190.9" y="189.1" width="1.4" height="1.4" class="b"/>
<rect x="190.9" y="188.46" width="1.4" height="1.4" class="b"/>
<rect x="190.9" y="188.82" width="1.4" height="1.4" class="b"/>
<rect x="190.9" y="180.81" width="1.4" height="1.4" class="b"/>
<rect x="190.9" y="185.67" width="1.4" height="1.4" class="b"/>
<rect x="190.9" y="183.05" width="1.4" height="1.4" class="b"/>
<rect x="190.9" y="180.17" width="1.4" height="1.4" class="b"/>
<rect x="190.9" y="176.1" width="1.4" height="1.4" class="b"/>
<rect x="190.9" y="174.93" width="1.4" height="1.4" class="b"/>
<rect x="195.82" y="184.88" width="1.4" height="1.4" class="b"/>
<rect x="195.82" y="188.79" width="1.4" height="1.4" class="b"/>
<rect x="195.82" y="184.88" width="1.4" height="1.4" class="b"/>
<rect x="195.82" y="184.81" width="1.4" height="1.4" class="b"/>
<rect x="195.82" y="179.48" width="1.4" height="1.4" class="b"/>
<rect x="195.82" y="182.19" width="1.4" height="1.4" class="b"/>
<rect x="195.82" y="181.07" width="1.4" height="1.4" class="b"/>
<rect x="195.82" y="182.46" width="1.4" height="1.4" class="b"/>
<rect x="195.82" y="181.62" width="1.4" height="1.4" class="b"/>
<rect x="195.82" y="185.3" width="1.4" height="1.4" class="b"/>
<rect x="195.82" y="189.8" width="1.4" height="1.4" class="b"/>
<rect x="195.82" y="191.29" width="1.4" height="1.4" class="b"/>
<rect x="195.82" y="183.5" width="1.4" height="1.4" class="b"/>
<rect x="195.82" y="175.86" width="1.4" height="1.4" class="b"/>
<rect x="195.82" y="177.67" width="1.4" height="1.4" class="b"/>
<rect x="200.74" y="187.73" width="1.4" height="1.4" class="b"/>
<rect x="200.74" y="195.14" width="1.4" height="1.4" class="b"/>
<rect x="200.74" y="186.97" width="1.4" height="1.4" class="b"/>
<rect x="200.74" y="182.86" width="1.4" height="1.4" class="b"/>
<rect x="200.74" y="188.51" width="1.4" height="1.4" class="b"/>
<rect x="200.74" y="189.7" width="1.4" height="1.4" class="b"/>
<rect x="200.74" y="184.4" width="1.4" height="1.4" class="b"/>
<rect x="200.74" y="195.59" width="1.4" height="1.4" class="b"/>
<rect x="200.74" y="187.03" width="1.4" height="1.4" class="b"/>
<rect x="200.74" y="179.32" width="1.4" height="1.4" class="b"/>
<rect x="200.74" y="183.81" width="1.4" height="1.4" class="b"/>
<rect x="200.74" y="188.88" width="1.4" height="1.4" class="b"/>
<rect x="200.74" y="183.84" width="1.4" height="1.4" class="b"/>
<rect x="200.74" y="185.31" width="1.4" height="1.4" class="b"/>
<rect x="200.74" y="177.42" width="1.4" height="1.4" class="b"/>
<rect x="200.74" y="174.28" width="1.4" height="1.4" class="b"/>
<rect x="200.74" y="198.07" width="1.4" height="1.4" class="b"/>
<rect x="205.66" y="186.75" width="1.4" height="1.4" class="b"/>
<rect x="205.66" y="189.47" width="1.4" height="1.4" class="b"/>
<rect x="205.66" y="186.95" width="1.4" height="1.4" class="b"/>
<rect x="205.66" y="183" width="1.4" height="1.4" class="b"/>
<rect x="205.66" y="192.97" width="1.4" height="1.4" class="b"/>
<rect x="205.66" y="184.47" width="1.4" height="1.4" class="b"/>
<rect x="205.66" y="183.41" width="1.4" height="1.4" class="b"/>
<rect x="205.66" y="181.62" width="1.4" height="1.4" class="b"/>
<rect x="205.66" y="191.2" width="1.4" height="1.4" class="b"/>
<rect x="205.66" y="185.23" width="1.4" height="1.4" class="b"/>
<rect x="205.66" y="191.86" width="1.4" height="1.4" class="b"/>
<rect x="205.66" y="186.08" width="1.4" height="1.4" class="b"/>
<rect x="205.66" y="192.91" width="1.4" height="1.4" class="b"/>
<rect x="205.66" y="174.37" width="1.4" height="1.4" class="b"/>
<rect x="205.66" y="176.85" width="1.4" height="1.4" class="b"/>
<rect x="205.66" y="196.02" width="1.4" height="1.4" class="b"/>
<rect x="210.58" y="181.12" width="1.4" height="1.4" class="b"/>
<rect x="210.58" y="195.4" width="1.4" height="1.4" class="b"/>
<rect x="210.58" y="180.14" width="1.4" height="1.4" class="b"/>
<rect x="210.58" y="185" width="1.4" height="1.4" class="b"/>
<rect x="210.58" y="190.38" width="1.4" height="1.4" class="b"/>
<rect x="210.58" y="188.35" width="1.4" height="1.4" class="b"/>
<rect x="210.58" y="182.56" width="1.4" height="1.4" class="b"/>
<rect x="210.58" y="182.14" width="1.4" height="1.4" class="b"/>
<rect x="210.58" y="192.6" width="1.4" height="1.4" class="b"/>
<rect x="210.58" y="184.94" width="1.4" height="1.4" class="b"/>
<rect x="210.58" y="193.02" width="1.4" height="1.4" class="b"/>
<rect x="210.58" y="178.85" width="1.4" height="1.4" class="b"/>
<rect x="210.58" y="188.14" width="1.4" height="1.4" class="b"/>
<rect x="210.58" y="175.01" width="1.4" height="1.4" class="b"/>
<rect x="210.58" y="175.58" width="1.4" height="1.4" class="b"/>
<rect x="210.58" y="197.03" width="1.4" height="1.4" class="b"/>
<rect x="215.5" y="193.51" width="1.4" height="1.4" class="b"/>
<rect x="215.5" y="183.37" width="1.4" height="1.4" class="b"/>
<rect x="215.5" y="189.59" width="1.4" height="1.4" class="b"/>
<rect x="215.5" y="182.74" width="1.4" height="1.4" class="b"/>
<rect x="215.5" y="191.71" width="1.4" height="1.4" class="b"/>
<rect x="215.5" y="183.32" width="1.4" height="1.4" class="b"/>
<rect x="215.5" y="183.32" width="1.4" height="1.4" class="b"/>
<rect x="215.5" y="190.57" width="1.4" height="1.4" class="b"/>
<rect x="215.5" y="194.06" width="1.4" height="1.4" class="b"/>
<rect x="215.5" y="188.96" width="1.4" height="1.4" class="b"/>
<rect x="215.5" y="187.29" width="1.4" height="1.4" class="b"/>
<rect x="215.5" y="194.18" width="1.4" height="1.4" class="b"/>
<rect x="215.5" y="192.65" width="1.4" height="1.4" class="b"/>
<rect x="215.5" y="194.96" width="1.4" height="1.4" class="b"/>
<rect x="215.5" y="174.27" width="1.4" height="1.4" class="b"/>
<rect x="215.5" y="177.38" width="1.4" height="1.4" class="b"/>
<rect x="215.5" y="196.62" width="1.4" height="1.4" class="b"/>
<rect x="220.42" y="179.01" width="1.4" height="1.4" class="b"/>
<rect x="220.42" y="185.17" width="1.4" height="1.4" class="b"/>
<rect x="220.42" y="189.92" width="1.4" height="1.4" class="b"/>
<rect x="220.42" y="181.22" width="1.4" height="1.4" class="b"/>
<rect x="220.42" y="193.86" width="1.4" height="1.4" class="b"/>
<rect x="220.42" y="183.77" width="1.4" height="1.4" class="b"/>
<rect x="220.42" y="194.26" width="1.4" height="1.4" class="b"/>
<rect x="220.42" y="188.91" width="1.4" height="1.4" class="b"/>
<rect x="220.42" y="187.24" width="1.4" height="1.4" class="b"/>
<rect x="220.42" y="189.3" width="1.4" height="1.4" class="b"/>
<rect x="220.42" y="192.97" width="1.4" height="1.4" class="b"/>
<rect x="220.42" y="191.86" width="1.4" height="1.4" class="b"/>
<rect x="220.42" y="181.53" width="1.4" height="1.4" class="b"/>
<rect x="220.42" y="175.7" width="1.4" height="1.4" class="b"/>
<rect x="220.42" y="177.4" width="1.4" height="1.4" class="b"/>
<rect x="225.34" y="185.51" width="1.4" height="1.4" class="b"/>
<rect x="225.34" y="179.97" width="1.4" height="1.4" class="b"/>
<rect x="225.34" y="178.47" width="1.4" height="1.4" class="b"/>
<rect x="225.34" y="195.12" width="1.4" height="1.4" class="b"/>
<rect x="225.34" y="181.93" width="1.4" height="1.4" class="b"/>
<rect x="225.34" y="180.88" width="1.4" height="1.4" class="b"/>
<rect x="225.34" y="190.32" width="1.4" height="1.4" class="b"/>
<rect x="225.34" y="189.21" width="1.4" height="1.4" class="b"/>
<rect x="225.34" y="185.75" width="1.4" height="1.4" class="b"/>
<rect x="225.34" y="179.8" width="1.4" height="1.4" class="b"/>
<rect x="225.34" y="188.91" width="1.4" height="1.4" class="b"/>
<rect x="225.34" y="180.48" width="1.4" height="1.4" class="b"/>
<rect x="225.34" y="182.61" width="1.4" height="1.4" class="b"/>
<rect x="225.34" y="193.26" width="1.4" height="1.4" class="b"/>
<rect x="225.34" y="178.31" width="1.4" height="1.4" class="b"/>
<rect x="225.34" y="177.71" width="1.4" height="1.4" class="b"/>
<rect x="230.26" y="189.27" width="1.4" height="1.4" class="b"/>
<rect x="230.26" y="193.65" width="1.4" height="1.4" class="b"/>
<rect x="230.26" y="187.81" width="1.4" height="1.4" class="b"/>
<rect x="230.26" y="181.19" width="1.4" height="1.4" class="b"/>
<rect x="230.26" y="180.02" width="1.4" height="1.4" class="b"/>
<rect x="230.26" y="195.31" width="1.4" height="1.4" class="b"/>
<rect x="230.26" y="194.86" width="1.4" height="1.4" class="b"/>
<rect x="230.26" y="181.17" width="1.4" height="1.4" class="b"/>
<rect x="230.26" y="195.18" width="1.4" height="1.4" class="b"/>
<rect x="230.26" y="191.13" width="1.4" height="1.4" class="b"/>
<rect x="230.26" y="193.87" width="1.4" height="1.4" class="b"/>
<rect x="230.26" y="194.33" width="1.4" height="1.4" class="b"/>
<rect x="230.26" y="195.45" width="1.4" height="1.4" class="b"/>
<rect x="230.26" y="184.74" width="1.4" height="1.4" class="b"/>
<rect x="230.26" y="175.2" width="1.4" height="1.4" class="b"/>
<rect x="230.26" y="174.47" width="1.4" height="1.4" class="b"/>
<rect x="235.18" y="184.85" width="1.4" height="1.4" class="b"/>
<rect x="235.18" y="178.91" width="1.4" height="1.4" class="b"/>
<rect x="235.18" y="184.67" width="1.4" height="1.4" class="b"/>
<rect x="235.18" y="191.66" width="1.4" height="1.4" class="b"/>
<rect x="235.18" y="194.88" width="1.4" height="1.4" class="b"/>
<rect x="235.18" y="179.51" width="1.4" height="1.4" class="b"/>
<rect x="235.18" y="185.57" width="1.4" height="1.4" class="b"/>
<rect x="235.18" y="189.79" width="1.4" height="1.4" class="b"/>
<rect x="235.18" y="185.3" width="1.4" height="1.4" class="b"/>
<rect x="235.18" y="186.1" width="1.4" height="1.4" class="b"/>
<rect x="235.18" y="186.76" width="1.4" height="1.4" class="b"/>
<rect x="235.18" y="194.86" width="1.4" height="1.4" class="b"/>
<rect x="235.18" y="189.73" width="1.4" height="1.4" class="b"/>
<rect x="235.18" y="188.69" width="1.4" height="1.4" class="b"/>
<rect x="235.18" y="174.31" width="1.4" height="1.4" class="b"/>
<rect x="235.18" y="176.42" width="1.4" height="1.4" class="b"/>
<rect x="240.1" y="182.88" width="1.4" height="1.4" class="b"/>
<rect x="240.1" y="183.27" width="1.4" height="1.4" class="b"/>
<rect x="240.1" y="182.73" width="1.4" height="1.4" class="b"/>
<rect x="240.1" y="191.52" width="1.4" height="1.4" class="b"/>
<rect x="240.1" y="178.79" width="1.4" height="1.4" class="b"/>
<rect x="240.1" y="193.28" width="1.4" height="1.4" class="b"/>
<rect x="240.1" y="179.8" width="1.4" height="1.4" class="b"/>
<rect x="240.1" y="180.93" width="1.4" height="1.4" class="b"/>
<rect x="240.1" y="180.97" width="1.4" height="1.4" class="b"/>
<rect x="240.1" y="195" width="1.4" height="1.4" class="b"/>
<rect x="240.1" y="194.33" width="1.4" height="1.4" class="b"/>
<rect x="240.1" y="181.66" width="1.4" height="1.4" class="b"/>
<rect x="240.1" y="187.7" width="1.4" height="1.4" class="b"/>
<rect x="240.1" y="173.83" width="1.4" height="1.4" class="b"/>
<rect x="240.1" y="178.19" width="1.4" height="1.4" class="b"/>
<rect x="240.1" y="197.22" width="1.4" height="1.4" class="b"/>
<rect x="245.02" y="188.99" width="1.4" height="1.4" class="b"/>
<rect x="245.02" y="183.51" width="1.4" height="1.4" class="b"/>
<rect x="245.02" y="180.44" width="1.4" height="1.4" class="b"/>
<rect x="245.02" y="195.5" width="1.4" height="1.4" class="b"/>
<rect x="245.02" y="186.72" width="1.4" height="1.4" class="b"/>
<rect x="245.02" y="194.35" width="1.4" height="1.4" class="b"/>
<rect x="245.02" y="181.88" width="1.4" height="1.4" class="b"/>
<rect x="245.02" y="194.43" width="1.4" height="1.4" class="b"/>
<rect x="245.02" y="195.33" width="1.4" height="1.4" class="b"/>
<rect x="245.02" y="189.19" width="1.4" height="1.4" class="b"/>
<rect x="245.02" y="183.07" width="1.4" height="1.4" class="b"/>
<rect x="245.02" y="190.43" width="1.4" height="1.4" class="b"/>
<rect x="245.02" y="193.65" width="1.4" height="1.4" class="b"/>
<rect x="245.02" y="181.98" width="1.4" height="1.4" class="b"/>
<rect x="245.02" y="174.42" width="1.4" height="1.4" class="b"/>
<rect x="245.02" y="176.97" width="1.4" height="1.4" class="b"/>
<rect x="245.02" y="197.68" width="1.4" height="1.4" class="b"/>
<rect x="235.18" y="110" width="1.4" height="1.4" class="b"/>
<rect x="205.66" y="114.16" width="1.4" height="1.4" class="b"/>
<rect x="215.5" y="117.39" width="1.4" height="1.4" class="b"/>
<rect x="210.58" y="123.4" width="1.4" height="1.4" class="b"/>
<rect x="210.58" y="132.18" width="1.4" height="1.4" class="b"/>
<rect x="190.9" y="149.5" width="1.4" height="1.4" class="b"/>
<rect x="230.26" y="149.5" width="1.4" height="1.4" class="b"/>
<rect x="185.98" y="160.82" width="1.4" height="1.4" class="b"/>
<rect x="195.82" y="163.13" width="1.4" height="1.4" class="b"/>
<rect x="220.42" y="163.13" width="1.4" height="1.4" class="b"/>
<rect x="225.34" y="160.36" width="1.4" height="1.4" class="b"/>
<rect x="225.34" y="162.21" width="1.4" height="1.4" class="b"/>
<rect x="225.34" y="166.83" width="1.4" height="1.4" class="b"/>
<rect x="190.9" y="168.21" width="1.4" height="1.4" class="b"/>
<rect x="185.98" y="170.52" width="1.4" height="1.4" class="b"/>
<rect x="215.5" y="166.83" width="1.4" height="1.4" class="b"/>
<rect x="195.82" y="169.6" width="1.4" height="1.4" class="b"/>
<rect x="195.82" y="171.45" width="1.4" height="1.4" class="b"/>
<rect x="200.74" y="170.98" width="1.4" height="1.4" class="b"/>
<rect x="200.74" y="173.29" width="1.4" height="1.4" class="b"/>
<rect x="205.66" y="173.29" width="1.4" height="1.4" class="b"/>
<rect x="210.58" y="171.45" width="1.4" height="1.4" class="b"/>
<rect x="230.26" y="173.29" width="1.4" height="1.4" class="b"/>
<rect x="235.18" y="174.22" width="1.4" height="1.4" class="b"/>
<rect x="240.1" y="175.6" width="1.4" height="1.4" class="b"/>
<rect x="245.02" y="174.22" width="1.4" height="1.4" class="b"/>
<path d="M68.6,177.23 L73.31,177.24 L78.03,177.25 L82.74,177.25 L87.46,177.24 L92.17,177.22 L96.89,177.2 L101.61,177.17 L106.32,177.13 L111.03,177.08 L115.75,177.02 L120.46,176.95 L125.18,176.88 L129.89,176.8 L134.61,176.71 L139.32,176.61 L144.04,176.51 L148.75,176.4 L153.47,176.28 L158.19,176.15 L162.9,176.01 L167.62,175.86 L172.33,175.71 L177.05,175.55 L181.76,175.38 L181.76,183.23 L177.05,183.2 L172.33,183.17 L167.62,183.15 L162.9,183.14 L158.19,183.14 L153.47,183.15 L148.75,183.16 L144.04,183.18 L139.32,183.21 L134.61,183.25 L129.89,183.3 L125.18,183.35 L120.46,183.41 L115.75,183.48 L111.03,183.56 L106.32,183.64 L101.61,183.74 L96.89,183.84 L92.17,183.95 L87.46,184.07 L82.74,184.19 L78.03,184.33 L73.31,184.47 L68.6,184.62 Z" class="band"/>
<path d="M186.68,182.08 L189.14,182.15 L191.6,182.22 L194.06,182.28 L196.52,182.34 L198.98,182.38 L201.44,182.43 L203.9,182.46 L206.36,182.49 L208.82,182.51 L211.28,182.53 L213.74,182.54 L216.2,182.54 L218.66,182.54 L221.12,182.53 L223.58,182.51 L226.04,182.49 L228.5,182.46 L230.96,182.43 L233.42,182.38 L235.88,182.34 L238.34,182.28 L240.8,182.22 L243.26,182.15 L245.72,182.08 L245.72,187.16 L243.26,187.09 L240.8,187.02 L238.34,186.96 L235.88,186.9 L233.42,186.86 L230.96,186.81 L228.5,186.78 L226.04,186.75 L223.58,186.73 L221.12,186.71 L218.66,186.7 L216.2,186.7 L213.74,186.7 L211.28,186.71 L208.82,186.73 L206.36,186.75 L203.9,186.78 L201.44,186.81 L198.98,186.86 L196.52,186.9 L194.06,186.96 L191.6,187.02 L189.14,187.09 L186.68,187.16 Z" class="band"/>
<line x1="68.6" y1="180.92" x2="181.76" y2="179.31" class="rl"/>
<line x1="186.68" y1="184.62" x2="245.72" y2="184.62" class="rl"/>
<line x1="65.75" y1="29.5" x2="65.75" y2="60.8" class="ax"/>
<line x1="65.75" y1="63.3" x2="65.75" y2="203.65" class="ax"/>
<line x1="61.45" y1="203.4" x2="249.2" y2="203.4" class="ax"/>
<text x="57.35" y="205.8" class="yl">0</text>
<line x1="61.45" y1="156.9" x2="65.75" y2="156.9" class="tk"/>
<text x="57.35" y="159.6" class="yl">100</text>
<line x1="61.45" y1="110.7" x2="65.75" y2="110.7" class="tk"/>
<text x="57.35" y="113.4" class="yl">200</text>
<line x1="61.45" y1="64.5" x2="65.75" y2="64.5" class="tk"/>
<text x="57.35" y="67.8" class="yl">300</text>
<line x1="61.45" y1="58" x2="65.75" y2="58" class="tk"/>
<text x="57.35" y="60.3" class="yl">400</text>
<line x1="61.45" y1="45.64" x2="65.75" y2="45.64" class="tk"/>
<text x="57.35" y="48.34" class="yl">800</text>
<line x1="61.45" y1="33.28" x2="65.75" y2="33.28" class="tk"/>
<text x="57.35" y="35.98" class="yl">1200</text>
<line x1="61.45" y1="51.82" x2="65.75" y2="51.82" class="tk"/>
<line x1="61.45" y1="39.46" x2="65.75" y2="39.46" class="tk"/>
<line x1="68.6" y1="203.1" x2="68.6" y2="207.6" class="tk"/>
<text x="68.6" y="218.5" class="xl">−24</text>
<line x1="98.12" y1="203.1" x2="98.12" y2="207.6" class="tk"/>
<text x="98.12" y="218.5" class="xl">−18</text>
<line x1="127.64" y1="203.1" x2="127.64" y2="207.6" class="tk"/>
<text x="127.64" y="218.5" class="xl">−12</text>
<line x1="157.16" y1="203.1" x2="157.16" y2="207.6" class="tk"/>
<text x="157.16" y="218.5" class="xl">−6</text>
<line x1="186.68" y1="203.1" x2="186.68" y2="207.6" class="tk"/>
<text x="186.68" y="218.5" class="xl">0</text>
<line x1="216.2" y1="203.1" x2="216.2" y2="207.6" class="tk"/>
<text x="216.2" y="218.5" class="xl">6</text>
<line x1="245.72" y1="203.1" x2="245.72" y2="207.6" class="tk"/>
<text x="245.72" y="218.5" class="xl">12</text>
<text x="8.3" y="20.6" class="let">A</text>
<text transform="translate(32,118.5) rotate(-90) scale(0.65,1)" class="yt">AST</text>
<rect x="329.2" y="172.33" width="1.4" height="1.4" class="r"/>
<rect x="329.2" y="195.39" width="1.4" height="1.4" class="r"/>
<rect x="329.2" y="194.66" width="1.4" height="1.4" class="r"/>
<rect x="329.2" y="175.24" width="1.4" height="1.4" class="r"/>
<rect x="329.2" y="177.81" width="1.4" height="1.4" class="r"/>
<rect x="329.2" y="179.53" width="1.4" height="1.4" class="r"/>
<rect x="329.2" y="188.88" width="1.4" height="1.4" class="r"/>
<rect x="329.2" y="181.18" width="1.4" height="1.4" class="r"/>
<rect x="329.2" y="181.16" width="1.4" height="1.4" class="r"/>
<rect x="329.2" y="181.82" width="1.4" height="1.4" class="r"/>
<rect x="329.2" y="192.76" width="1.4" height="1.4" class="r"/>
<rect x="329.2" y="185.71" width="1.4" height="1.4" class="r"/>
<rect x="329.2" y="186.67" width="1.4" height="1.4" class="r"/>
<rect x="329.2" y="159.95" width="1.4" height="1.4" class="r"/>
<rect x="329.2" y="160.46" width="1.4" height="1.4" class="r"/>
<rect x="329.2" y="197.88" width="1.4" height="1.4" class="r"/>
<rect x="334.12" y="195.93" width="1.4" height="1.4" class="r"/>
<rect x="334.12" y="196.15" width="1.4" height="1.4" class="r"/>
<rect x="334.12" y="184.83" width="1.4" height="1.4" class="r"/>
<rect x="334.12" y="188.62" width="1.4" height="1.4" class="r"/>
<rect x="334.12" y="187.02" width="1.4" height="1.4" class="r"/>
<rect x="334.12" y="173.78" width="1.4" height="1.4" class="r"/>
<rect x="334.12" y="183.25" width="1.4" height="1.4" class="r"/>
<rect x="334.12" y="182.35" width="1.4" height="1.4" class="r"/>
<rect x="334.12" y="190.75" width="1.4" height="1.4" class="r"/>
<rect x="334.12" y="196.24" width="1.4" height="1.4" class="r"/>
<rect x="334.12" y="188.44" width="1.4" height="1.4" class="r"/>
<rect x="334.12" y="193.32" width="1.4" height="1.4" class="r"/>
<rect x="334.12" y="183.66" width="1.4" height="1.4" class="r"/>
<rect x="334.12" y="163.51" width="1.4" height="1.4" class="r"/>
<rect x="334.12" y="168.97" width="1.4" height="1.4" class="r"/>
<rect x="339.04" y="177.86" width="1.4" height="1.4" class="r"/>
<rect x="339.04" y="173.4" width="1.4" height="1.4" class="r"/>
<rect x="339.04" y="177.12" width="1.4" height="1.4" class="r"/>
<rect x="339.04" y="176.42" width="1.4" height="1.4" class="r"/>
<rect x="339.04" y="187.7" width="1.4" height="1.4" class="r"/>
<rect x="339.04" y="171.48" width="1.4" height="1.4" class="r"/>
<rect x="339.04" y="171.97" width="1.4" height="1.4" class="r"/>
<rect x="339.04" y="192.69" width="1.4" height="1.4" class="r"/>
<rect x="339.04" y="177.35" width="1.4" height="1.4" class="r"/>
<rect x="339.04" y="178.35" width="1.4" height="1.4" class="r"/>
<rect x="339.04" y="184.92" width="1.4" height="1.4" class="r"/>
<rect x="339.04" y="183.13" width="1.4" height="1.4" class="r"/>
<rect x="339.04" y="184.18" width="1.4" height="1.4" class="r"/>
<rect x="339.04" y="165.43" width="1.4" height="1.4" class="r"/>
<rect x="339.04" y="161.76" width="1.4" height="1.4" class="r"/>
<rect x="339.04" y="197.07" width="1.4" height="1.4" class="r"/>
<rect x="343.96" y="184.93" width="1.4" height="1.4" class="r"/>
<rect x="343.96" y="182.17" width="1.4" height="1.4" class="r"/>
<rect x="343.96" y="173.05" width="1.4" height="1.4" class="r"/>
<rect x="343.96" y="178.13" width="1.4" height="1.4" class="r"/>
<rect x="343.96" y="184.27" width="1.4" height="1.4" class="r"/>
<rect x="343.96" y="191.12" width="1.4" height="1.4" class="r"/>
<rect x="343.96" y="188.46" width="1.4" height="1.4" class="r"/>
<rect x="343.96" y="178.76" width="1.4" height="1.4" class="r"/>
<rect x="343.96" y="192.56" width="1.4" height="1.4" class="r"/>
<rect x="343.96" y="173.37" width="1.4" height="1.4" class="r"/>
<rect x="343.96" y="189.92" width="1.4" height="1.4" class="r"/>
<rect x="343.96" y="173.28" width="1.4" height="1.4" class="r"/>
<rect x="343.96" y="188.85" width="1.4" height="1.4" class="r"/>
<rect x="343.96" y="163.15" width="1.4" height="1.4" class="r"/>
<rect x="343.96" y="165.39" width="1.4" height="1.4" class="r"/>
<rect x="343.96" y="197.5" width="1.4" height="1.4" class="r"/>
<rect x="348.88" y="188.79" width="1.4" height="1.4" class="r"/>
<rect x="348.88" y="191.48" width="1.4" height="1.4" class="r"/>
<rect x="348.88" y="183.61" width="1.4" height="1.4" class="r"/>
<rect x="348.88" y="172.69" width="1.4" height="1.4" class="r"/>
<rect x="348.88" y="180.73" width="1.4" height="1.4" class="r"/>
<rect x="348.88" y="194.91" width="1.4" height="1.4" class="r"/>
<rect x="348.88" y="175.63" width="1.4" height="1.4" class="r"/>
<rect x="348.88" y="178.07" width="1.4" height="1.4" class="r"/>
<rect x="348.88" y="173.37" width="1.4" height="1.4" class="r"/>
<rect x="348.88" y="191.9" width="1.4" height="1.4" class="r"/>
<rect x="348.88" y="177.59" width="1.4" height="1.4" class="r"/>
<rect x="348.88" y="195.34" width="1.4" height="1.4" class="r"/>
<rect x="348.88" y="179.96" width="1.4" height="1.4" class="r"/>
<rect x="348.88" y="168.47" width="1.4" height="1.4" class="r"/>
<rect x="348.88" y="161.28" width="1.4" height="1.4" class="r"/>
<rect x="348.88" y="169.81" width="1.4" height="1.4" class="r"/>
<rect x="348.88" y="197.13" width="1.4" height="1.4" class="r"/>
<rect x="353.8" y="191.41" width="1.4" height="1.4" class="r"/>
<rect x="353.8" y="174.07" width="1.4" height="1.4" class="r"/>
<rect x="353.8" y="185.91" width="1.4" height="1.4" class="r"/>
<rect x="353.8" y="178.31" width="1.4" height="1.4" class="r"/>
<rect x="353.8" y="196.03" width="1.4" height="1.4" class="r"/>
<rect x="353.8" y="187.48" width="1.4" height="1.4" class="r"/>
<rect x="353.8" y="192.41" width="1.4" height="1.4" class="r"/>
<rect x="353.8" y="179.45" width="1.4" height="1.4" class="r"/>
<rect x="353.8" y="194.71" width="1.4" height="1.4" class="r"/>
<rect x="353.8" y="172.16" width="1.4" height="1.4" class="r"/>
<rect x="353.8" y="196.2" width="1.4" height="1.4" class="r"/>
<rect x="353.8" y="177.98" width="1.4" height="1.4" class="r"/>
<rect x="353.8" y="196.31" width="1.4" height="1.4" class="r"/>
<rect x="353.8" y="161.97" width="1.4" height="1.4" class="r"/>
<rect x="353.8" y="169.24" width="1.4" height="1.4" class="r"/>
<rect x="353.8" y="168.95" width="1.4" height="1.4" class="r"/>
<rect x="358.72" y="195.74" width="1.4" height="1.4" class="r"/>
<rect x="358.72" y="171.24" width="1.4" height="1.4" class="r"/>
<rect x="358.72" y="192.94" width="1.4" height="1.4" class="r"/>
<rect x="358.72" y="195.92" width="1.4" height="1.4" class="r"/>
<rect x="358.72" y="187.95" width="1.4" height="1.4" class="r"/>
<rect x="358.72" y="180.94" width="1.4" height="1.4" class="r"/>
<rect x="358.72" y="177.65" width="1.4" height="1.4" class="r"/>
<rect x="358.72" y="193.93" width="1.4" height="1.4" class="r"/>
<rect x="358.72" y="188.13" width="1.4" height="1.4" class="r"/>
<rect x="358.72" y="196.06" width="1.4" height="1.4" class="r"/>
<rect x="358.72" y="185.25" width="1.4" height="1.4" class="r"/>
<rect x="358.72" y="177.04" width="1.4" height="1.4" class="r"/>
<rect x="358.72" y="177.71" width="1.4" height="1.4" class="r"/>
<rect x="358.72" y="162.61" width="1.4" height="1.4" class="r"/>
<rect x="358.72" y="161.42" width="1.4" height="1.4" class="r"/>
<rect x="363.64" y="191.02" width="1.4" height="1.4" class="r"/>
<rect x="363.64" y="179.76" width="1.4" height="1.4" class="r"/>
<rect x="363.64" y="188.67" width="1.4" height="1.4" class="r"/>
<rect x="363.64" y="194.22" width="1.4" height="1.4" class="r"/>
<rect x="363.64" y="185.27" width="1.4" height="1.4" class="r"/>
<rect x="363.64" y="174.22" width="1.4" height="1.4" class="r"/>
<rect x="363.64" y="193.56" width="1.4" height="1.4" class="r"/>
<rect x="363.64" y="181.72" width="1.4" height="1.4" class="r"/>
<rect x="363.64" y="186.69" width="1.4" height="1.4" class="r"/>
<rect x="363.64" y="183.54" width="1.4" height="1.4" class="r"/>
<rect x="363.64" y="193.13" width="1.4" height="1.4" class="r"/>
<rect x="363.64" y="172.03" width="1.4" height="1.4" class="r"/>
<rect x="363.64" y="190.15" width="1.4" height="1.4" class="r"/>
<rect x="363.64" y="166.33" width="1.4" height="1.4" class="r"/>
<rect x="363.64" y="170.78" width="1.4" height="1.4" class="r"/>
<rect x="363.64" y="198.44" width="1.4" height="1.4" class="r"/>
<rect x="368.56" y="195.99" width="1.4" height="1.4" class="r"/>
<rect x="368.56" y="192.69" width="1.4" height="1.4" class="r"/>
<rect x="368.56" y="194.38" width="1.4" height="1.4" class="r"/>
<rect x="368.56" y="180.43" width="1.4" height="1.4" class="r"/>
<rect x="368.56" y="183.71" width="1.4" height="1.4" class="r"/>
<rect x="368.56" y="171.41" width="1.4" height="1.4" class="r"/>
<rect x="368.56" y="172.69" width="1.4" height="1.4" class="r"/>
<rect x="368.56" y="171.13" width="1.4" height="1.4" class="r"/>
<rect x="368.56" y="190.84" width="1.4" height="1.4" class="r"/>
<rect x="368.56" y="185.35" width="1.4" height="1.4" class="r"/>
<rect x="368.56" y="190.37" width="1.4" height="1.4" class="r"/>
<rect x="368.56" y="181.56" width="1.4" height="1.4" class="r"/>
<rect x="368.56" y="180.71" width="1.4" height="1.4" class="r"/>
<rect x="368.56" y="163.12" width="1.4" height="1.4" class="r"/>
<rect x="368.56" y="168.14" width="1.4" height="1.4" class="r"/>
<rect x="368.56" y="197.73" width="1.4" height="1.4" class="r"/>
<rect x="373.48" y="195.94" width="1.4" height="1.4" class="r"/>
<rect x="373.48" y="186.28" width="1.4" height="1.4" class="r"/>
<rect x="373.48" y="193.98" width="1.4" height="1.4" class="r"/>
<rect x="373.48" y="178.13" width="1.4" height="1.4" class="r"/>
<rect x="373.48" y="190.62" width="1.4" height="1.4" class="r"/>
<rect x="373.48" y="194.27" width="1.4" height="1.4" class="r"/>
<rect x="373.48" y="192.15" width="1.4" height="1.4" class="r"/>
<rect x="373.48" y="190.87" width="1.4" height="1.4" class="r"/>
<rect x="373.48" y="191.23" width="1.4" height="1.4" class="r"/>
<rect x="373.48" y="183.38" width="1.4" height="1.4" class="r"/>
<rect x="373.48" y="184.84" width="1.4" height="1.4" class="r"/>
<rect x="373.48" y="188.84" width="1.4" height="1.4" class="r"/>
<rect x="373.48" y="180.25" width="1.4" height="1.4" class="r"/>
<rect x="373.48" y="160.93" width="1.4" height="1.4" class="r"/>
<rect x="373.48" y="160.3" width="1.4" height="1.4" class="r"/>
<rect x="373.48" y="162.9" width="1.4" height="1.4" class="r"/>
<rect x="373.48" y="197.76" width="1.4" height="1.4" class="r"/>
<rect x="378.4" y="195.53" width="1.4" height="1.4" class="r"/>
<rect x="378.4" y="186.04" width="1.4" height="1.4" class="r"/>
<rect x="378.4" y="183.27" width="1.4" height="1.4" class="r"/>
<rect x="378.4" y="192.17" width="1.4" height="1.4" class="r"/>
<rect x="378.4" y="194.43" width="1.4" height="1.4" class="r"/>
<rect x="378.4" y="176.09" width="1.4" height="1.4" class="r"/>
<rect x="378.4" y="187.38" width="1.4" height="1.4" class="r"/>
<rect x="378.4" y="183.42" width="1.4" height="1.4" class="r"/>
<rect x="378.4" y="173.02" width="1.4" height="1.4" class="r"/>
<rect x="378.4" y="181.06" width="1.4" height="1.4" class="r"/>
<rect x="378.4" y="189.36" width="1.4" height="1.4" class="r"/>
<rect x="378.4" y="171.41" width="1.4" height="1.4" class="r"/>
<rect x="378.4" y="187.23" width="1.4" height="1.4" class="r"/>
<rect x="378.4" y="163.39" width="1.4" height="1.4" class="r"/>
<rect x="378.4" y="169.86" width="1.4" height="1.4" class="r"/>
<rect x="378.4" y="167.59" width="1.4" height="1.4" class="r"/>
<rect x="383.32" y="196.45" width="1.4" height="1.4" class="r"/>
<rect x="383.32" y="185.18" width="1.4" height="1.4" class="r"/>
<rect x="383.32" y="186.23" width="1.4" height="1.4" class="r"/>
<rect x="383.32" y="184.29" width="1.4" height="1.4" class="r"/>
<rect x="383.32" y="191.47" width="1.4" height="1.4" class="r"/>
<rect x="383.32" y="181.62" width="1.4" height="1.4" class="r"/>
<rect x="383.32" y="194.95" width="1.4" height="1.4" class="r"/>
<rect x="383.32" y="189.5" width="1.4" height="1.4" class="r"/>
<rect x="383.32" y="187.21" width="1.4" height="1.4" class="r"/>
<rect x="383.32" y="172.66" width="1.4" height="1.4" class="r"/>
<rect x="383.32" y="194.88" width="1.4" height="1.4" class="r"/>
<rect x="383.32" y="177.32" width="1.4" height="1.4" class="r"/>
<rect x="383.32" y="191.88" width="1.4" height="1.4" class="r"/>
<rect x="383.32" y="166.64" width="1.4" height="1.4" class="r"/>
<rect x="383.32" y="165.85" width="1.4" height="1.4" class="r"/>
<rect x="388.24" y="193.71" width="1.4" height="1.4" class="r"/>
<rect x="388.24" y="193.71" width="1.4" height="1.4" class="r"/>
<rect x="388.24" y="194.77" width="1.4" height="1.4" class="r"/>
<rect x="388.24" y="174.86" width="1.4" height="1.4" class="r"/>
<rect x="388.24" y="180.27" width="1.4" height="1.4" class="r"/>
<rect x="388.24" y="172.03" width="1.4" height="1.4" class="r"/>
<rect x="388.24" y="178.94" width="1.4" height="1.4" class="r"/>
<rect x="388.24" y="196.22" width="1.4" height="1.4" class="r"/>
<rect x="388.24" y="179.8" width="1.4" height="1.4" class="r"/>
<rect x="388.24" y="176.75" width="1.4" height="1.4" class="r"/>
<rect x="388.24" y="178.14" width="1.4" height="1.4" class="r"/>
<rect x="388.24" y="183.97" width="1.4" height="1.4" class="r"/>
<rect x="388.24" y="187.6" width="1.4" height="1.4" class="r"/>
<rect x="388.24" y="162.13" width="1.4" height="1.4" class="r"/>
<rect x="388.24" y="168" width="1.4" height="1.4" class="r"/>
<rect x="388.24" y="165.15" width="1.4" height="1.4" class="r"/>
<rect x="388.24" y="196.94" width="1.4" height="1.4" class="r"/>
<rect x="393.16" y="172.74" width="1.4" height="1.4" class="r"/>
<rect x="393.16" y="175.23" width="1.4" height="1.4" class="r"/>
<rect x="393.16" y="189.18" width="1.4" height="1.4" class="r"/>
<rect x="393.16" y="190.86" width="1.4" height="1.4" class="r"/>
<rect x="393.16" y="184.21" width="1.4" height="1.4" class="r"/>
<rect x="393.16" y="190.14" width="1.4" height="1.4" class="r"/>
<rect x="393.16" y="185.79" width="1.4" height="1.4" class="r"/>
<rect x="393.16" y="179.29" width="1.4" height="1.4" class="r"/>
<rect x="393.16" y="173.09" width="1.4" height="1.4" class="r"/>
<rect x="393.16" y="181.7" width="1.4" height="1.4" class="r"/>
<rect x="393.16" y="175.7" width="1.4" height="1.4" class="r"/>
<rect x="393.16" y="194.37" width="1.4" height="1.4" class="r"/>
<rect x="393.16" y="187.64" width="1.4" height="1.4" class="r"/>
<rect x="393.16" y="169.36" width="1.4" height="1.4" class="r"/>
<rect x="393.16" y="166.36" width="1.4" height="1.4" class="r"/>
<rect x="393.16" y="198.54" width="1.4" height="1.4" class="r"/>
<rect x="398.08" y="171.28" width="1.4" height="1.4" class="r"/>
<rect x="398.08" y="180.09" width="1.4" height="1.4" class="r"/>
<rect x="398.08" y="193.53" width="1.4" height="1.4" class="r"/>
<rect x="398.08" y="189.19" width="1.4" height="1.4" class="r"/>
<rect x="398.08" y="190.86" width="1.4" height="1.4" class="r"/>
<rect x="398.08" y="179.5" width="1.4" height="1.4" class="r"/>
<rect x="398.08" y="179.23" width="1.4" height="1.4" class="r"/>
<rect x="398.08" y="185.5" width="1.4" height="1.4" class="r"/>
<rect x="398.08" y="183.3" width="1.4" height="1.4" class="r"/>
<rect x="398.08" y="193.96" width="1.4" height="1.4" class="r"/>
<rect x="398.08" y="182.86" width="1.4" height="1.4" class="r"/>
<rect x="398.08" y="172.28" width="1.4" height="1.4" class="r"/>
<rect x="398.08" y="177.3" width="1.4" height="1.4" class="r"/>
<rect x="398.08" y="165.26" width="1.4" height="1.4" class="r"/>
<rect x="398.08" y="163.05" width="1.4" height="1.4" class="r"/>
<rect x="398.08" y="168.13" width="1.4" height="1.4" class="r"/>
<rect x="403" y="178.66" width="1.4" height="1.4" class="r"/>
<rect x="403" y="186.4" width="1.4" height="1.4" class="r"/>
<rect x="403" y="171.11" width="1.4" height="1.4" class="r"/>
<rect x="403" y="176.6" width="1.4" height="1.4" class="r"/>
<rect x="403" y="182.02" width="1.4" height="1.4" class="r"/>
<rect x="403" y="193.11" width="1.4" height="1.4" class="r"/>
<rect x="403" y="185.44" width="1.4" height="1.4" class="r"/>
<rect x="403" y="196.1" width="1.4" height="1.4" class="r"/>
<rect x="403" y="181.46" width="1.4" height="1.4" class="r"/>
<rect x="403" y="174.04" width="1.4" height="1.4" class="r"/>
<rect x="403" y="192.19" width="1.4" height="1.4" class="r"/>
<rect x="403" y="183.66" width="1.4" height="1.4" class="r"/>
<rect x="403" y="184.37" width="1.4" height="1.4" class="r"/>
<rect x="403" y="163.11" width="1.4" height="1.4" class="r"/>
<rect x="403" y="160.6" width="1.4" height="1.4" class="r"/>
<rect x="403" y="163.16" width="1.4" height="1.4" class="r"/>
<rect x="403" y="196.93" width="1.4" height="1.4" class="r"/>
<rect x="407.92" y="177.57" width="1.4" height="1.4" class="r"/>
<rect x="407.92" y="179.82" width="1.4" height="1.4" class="r"/>
<rect x="407.92" y="177.15" width="1.4" height="1.4" class="r"/>
<rect x="407.92" y="174.81" width="1.4" height="1.4" class="r"/>
<rect x="407.92" y="191.03" width="1.4" height="1.4" class="r"/>
<rect x="407.92" y="180.78" width="1.4" height="1.4" class="r"/>
<rect x="407.92" y="186.44" width="1.4" height="1.4" class="r"/>
<rect x="407.92" y="179.6" width="1.4" height="1.4" class="r"/>
<rect x="407.92" y="171.57" width="1.4" height="1.4" class="r"/>
<rect x="407.92" y="180.43" width="1.4" height="1.4" class="r"/>
<rect x="407.92" y="196.56" width="1.4" height="1.4" class="r"/>
<rect x="407.92" y="184.84" width="1.4" height="1.4" class="r"/>
<rect x="407.92" y="178.45" width="1.4" height="1.4" class="r"/>
<rect x="407.92" y="163.78" width="1.4" height="1.4" class="r"/>
<rect x="407.92" y="161.94" width="1.4" height="1.4" class="r"/>
<rect x="407.92" y="196.96" width="1.4" height="1.4" class="r"/>
<rect x="412.84" y="181.17" width="1.4" height="1.4" class="r"/>
<rect x="412.84" y="173.43" width="1.4" height="1.4" class="r"/>
<rect x="412.84" y="173.97" width="1.4" height="1.4" class="r"/>
<rect x="412.84" y="194.26" width="1.4" height="1.4" class="r"/>
<rect x="412.84" y="175.75" width="1.4" height="1.4" class="r"/>
<rect x="412.84" y="177.01" width="1.4" height="1.4" class="r"/>
<rect x="412.84" y="191.69" width="1.4" height="1.4" class="r"/>
<rect x="412.84" y="177.6" width="1.4" height="1.4" class="r"/>
<rect x="412.84" y="181.69" width="1.4" height="1.4" class="r"/>
<rect x="412.84" y="191.9" width="1.4" height="1.4" class="r"/>
<rect x="412.84" y="176.05" width="1.4" height="1.4" class="r"/>
<rect x="412.84" y="193.29" width="1.4" height="1.4" class="r"/>
<rect x="412.84" y="181.01" width="1.4" height="1.4" class="r"/>
<rect x="412.84" y="168.17" width="1.4" height="1.4" class="r"/>
<rect x="412.84" y="164.71" width="1.4" height="1.4" class="r"/>
<rect x="412.84" y="165.8" width="1.4" height="1.4" class="r"/>
<rect x="412.84" y="196.92" width="1.4" height="1.4" class="r"/>
<rect x="417.76" y="196.78" width="1.4" height="1.4" class="r"/>
<rect x="417.76" y="184.3" width="1.4" height="1.4" class="r"/>
<rect x="417.76" y="175.2" width="1.4" height="1.4" class="r"/>
<rect x="417.76" y="179.82" width="1.4" height="1.4" class="r"/>
<rect x="417.76" y="177.33" width="1.4" height="1.4" class="r"/>
<rect x="417.76" y="184.31" width="1.4" height="1.4" class="r"/>
<rect x="417.76" y="179.4" width="1.4" height="1.4" class="r"/>
<rect x="417.76" y="188.19" width="1.4" height="1.4" class="r"/>
<rect x="417.76" y="189.95" width="1.4" height="1.4" class="r"/>
<rect x="417.76" y="183.84" width="1.4" height="1.4" class="r"/>
<rect x="417.76" y="196.14" width="1.4" height="1.4" class="r"/>
<rect x="417.76" y="194.79" width="1.4" height="1.4" class="r"/>
<rect x="417.76" y="177.35" width="1.4" height="1.4" class="r"/>
<rect x="417.76" y="162.67" width="1.4" height="1.4" class="r"/>
<rect x="417.76" y="162.29" width="1.4" height="1.4" class="r"/>
<rect x="417.76" y="166.5" width="1.4" height="1.4" class="r"/>
<rect x="422.68" y="174.5" width="1.4" height="1.4" class="r"/>
<rect x="422.68" y="193.37" width="1.4" height="1.4" class="r"/>
<rect x="422.68" y="192.65" width="1.4" height="1.4" class="r"/>
<rect x="422.68" y="186.98" width="1.4" height="1.4" class="r"/>
<rect x="422.68" y="184.83" width="1.4" height="1.4" class="r"/>
<rect x="422.68" y="189.23" width="1.4" height="1.4" class="r"/>
<rect x="422.68" y="196.59" width="1.4" height="1.4" class="r"/>
<rect x="422.68" y="182.43" width="1.4" height="1.4" class="r"/>
<rect x="422.68" y="171.84" width="1.4" height="1.4" class="r"/>
<rect x="422.68" y="187.37" width="1.4" height="1.4" class="r"/>
<rect x="422.68" y="182.94" width="1.4" height="1.4" class="r"/>
<rect x="422.68" y="186.96" width="1.4" height="1.4" class="r"/>
<rect x="422.68" y="185.4" width="1.4" height="1.4" class="r"/>
<rect x="422.68" y="167.56" width="1.4" height="1.4" class="r"/>
<rect x="422.68" y="163.79" width="1.4" height="1.4" class="r"/>
<rect x="422.68" y="197.71" width="1.4" height="1.4" class="r"/>
<rect x="427.6" y="194.87" width="1.4" height="1.4" class="r"/>
<rect x="427.6" y="175.53" width="1.4" height="1.4" class="r"/>
<rect x="427.6" y="188.99" width="1.4" height="1.4" class="r"/>
<rect x="427.6" y="180.13" width="1.4" height="1.4" class="r"/>
<rect x="427.6" y="176.27" width="1.4" height="1.4" class="r"/>
<rect x="427.6" y="179.95" width="1.4" height="1.4" class="r"/>
<rect x="427.6" y="186.69" width="1.4" height="1.4" class="r"/>
<rect x="427.6" y="175.11" width="1.4" height="1.4" class="r"/>
<rect x="427.6" y="194.45" width="1.4" height="1.4" class="r"/>
<rect x="427.6" y="180.47" width="1.4" height="1.4" class="r"/>
<rect x="427.6" y="186.74" width="1.4" height="1.4" class="r"/>
<rect x="427.6" y="183.13" width="1.4" height="1.4" class="r"/>
<rect x="427.6" y="174.84" width="1.4" height="1.4" class="r"/>
<rect x="427.6" y="164.01" width="1.4" height="1.4" class="r"/>
<rect x="427.6" y="167.57" width="1.4" height="1.4" class="r"/>
<rect x="427.6" y="197.86" width="1.4" height="1.4" class="r"/>
<rect x="432.52" y="189.68" width="1.4" height="1.4" class="r"/>
<rect x="432.52" y="172.08" width="1.4" height="1.4" class="r"/>
<rect x="432.52" y="193.96" width="1.4" height="1.4" class="r"/>
<rect x="432.52" y="175.68" width="1.4" height="1.4" class="r"/>
<rect x="432.52" y="187.04" width="1.4" height="1.4" class="r"/>
<rect x="432.52" y="187.42" width="1.4" height="1.4" class="r"/>
<rect x="432.52" y="188.62" width="1.4" height="1.4" class="r"/>
<rect x="432.52" y="194.85" width="1.4" height="1.4" class="r"/>
<rect x="432.52" y="185.02" width="1.4" height="1.4" class="r"/>
<rect x="432.52" y="192.55" width="1.4" height="1.4" class="r"/>
<rect x="432.52" y="185.42" width="1.4" height="1.4" class="r"/>
<rect x="432.52" y="189.3" width="1.4" height="1.4" class="r"/>
<rect x="432.52" y="173.71" width="1.4" height="1.4" class="r"/>
<rect x="432.52" y="166.08" width="1.4" height="1.4" class="r"/>
<rect x="432.52" y="163.89" width="1.4" height="1.4" class="r"/>
<rect x="437.44" y="194.28" width="1.4" height="1.4" class="r"/>
<rect x="437.44" y="190.7" width="1.4" height="1.4" class="r"/>
<rect x="437.44" y="191.95" width="1.4" height="1.4" class="r"/>
<rect x="437.44" y="179.3" width="1.4" height="1.4" class="r"/>
<rect x="437.44" y="187.19" width="1.4" height="1.4" class="r"/>
<rect x="437.44" y="187.64" width="1.4" height="1.4" class="r"/>
<rect x="437.44" y="176.29" width="1.4" height="1.4" class="r"/>
<rect x="437.44" y="190.82" width="1.4" height="1.4" class="r"/>
<rect x="437.44" y="175.94" width="1.4" height="1.4" class="r"/>
<rect x="437.44" y="180.48" width="1.4" height="1.4" class="r"/>
<rect x="437.44" y="186.5" width="1.4" height="1.4" class="r"/>
<rect x="437.44" y="175.55" width="1.4" height="1.4" class="r"/>
<rect x="437.44" y="188" width="1.4" height="1.4" class="r"/>
<rect x="437.44" y="160.72" width="1.4" height="1.4" class="r"/>
<rect x="437.44" y="165.41" width="1.4" height="1.4" class="r"/>
<rect x="442.36" y="177.64" width="1.4" height="1.4" class="r"/>
<rect x="442.36" y="177.43" width="1.4" height="1.4" class="r"/>
<rect x="442.36" y="174.37" width="1.4" height="1.4" class="r"/>
<rect x="442.36" y="172.65" width="1.4" height="1.4" class="r"/>
<rect x="442.36" y="177.36" width="1.4" height="1.4" class="r"/>
<rect x="442.36" y="171.53" width="1.4" height="1.4" class="r"/>
<rect x="442.36" y="189.31" width="1.4" height="1.4" class="r"/>
<rect x="442.36" y="180.75" width="1.4" height="1.4" class="r"/>
<rect x="442.36" y="179.5" width="1.4" height="1.4" class="r"/>
<rect x="442.36" y="187.35" width="1.4" height="1.4" class="r"/>
<rect x="442.36" y="186.63" width="1.4" height="1.4" class="r"/>
<rect x="442.36" y="192.33" width="1.4" height="1.4" class="r"/>
<rect x="442.36" y="172.08" width="1.4" height="1.4" class="r"/>
<rect x="442.36" y="165.7" width="1.4" height="1.4" class="r"/>
<rect x="442.36" y="161.08" width="1.4" height="1.4" class="r"/>
<rect x="442.36" y="168.92" width="1.4" height="1.4" class="r"/>
<rect x="353.8" y="33.79" width="1.4" height="1.4" class="r"/>
<rect x="358.72" y="38.91" width="1.4" height="1.4" class="r"/>
<rect x="339.04" y="60.08" width="1.4" height="1.4" class="r"/>
<rect x="348.88" y="60.08" width="1.4" height="1.4" class="r"/>
<rect x="353.8" y="60.24" width="1.4" height="1.4" class="r"/>
<rect x="363.64" y="57.3" width="1.4" height="1.4" class="r"/>
<rect x="334.12" y="78.12" width="1.4" height="1.4" class="r"/>
<rect x="343.96" y="75.81" width="1.4" height="1.4" class="r"/>
<rect x="353.8" y="82.28" width="1.4" height="1.4" class="r"/>
<rect x="368.56" y="81.82" width="1.4" height="1.4" class="r"/>
<rect x="358.72" y="93.37" width="1.4" height="1.4" class="r"/>
<rect x="363.64" y="92.44" width="1.4" height="1.4" class="r"/>
<rect x="334.12" y="103.99" width="1.4" height="1.4" class="r"/>
<rect x="373.48" y="105.61" width="1.4" height="1.4" class="r"/>
<rect x="393.16" y="81.36" width="1.4" height="1.4" class="r"/>
<rect x="403" y="79.97" width="1.4" height="1.4" class="r"/>
<rect x="412.84" y="74.43" width="1.4" height="1.4" class="r"/>
<rect x="412.84" y="83.2" width="1.4" height="1.4" class="r"/>
<rect x="442.36" y="58.23" width="1.4" height="1.4" class="r"/>
<rect x="442.36" y="59.46" width="1.4" height="1.4" class="r"/>
<rect x="432.52" y="72.12" width="1.4" height="1.4" class="r"/>
<rect x="437.44" y="73.96" width="1.4" height="1.4" class="r"/>
<rect x="368.56" y="110.46" width="1.4" height="1.4" class="r"/>
<rect x="373.48" y="110.92" width="1.4" height="1.4" class="r"/>
<rect x="373.48" y="119.24" width="1.4" height="1.4" class="r"/>
<rect x="388.24" y="119.24" width="1.4" height="1.4" class="r"/>
<rect x="398.08" y="118.32" width="1.4" height="1.4" class="r"/>
<rect x="403" y="119.93" width="1.4" height="1.4" class="r"/>
<rect x="407.92" y="125.25" width="1.4" height="1.4" class="r"/>
<rect x="412.84" y="126.63" width="1.4" height="1.4" class="r"/>
<rect x="378.4" y="126.17" width="1.4" height="1.4" class="r"/>
<rect x="378.4" y="131.71" width="1.4" height="1.4" class="r"/>
<rect x="378.4" y="133.1" width="1.4" height="1.4" class="r"/>
<rect x="383.32" y="133.1" width="1.4" height="1.4" class="r"/>
<rect x="393.16" y="133.1" width="1.4" height="1.4" class="r"/>
<rect x="398.08" y="131.71" width="1.4" height="1.4" class="r"/>
<rect x="348.88" y="132.64" width="1.4" height="1.4" class="r"/>
<rect x="343.96" y="135.87" width="1.4" height="1.4" class="r"/>
<rect x="343.96" y="137.72" width="1.4" height="1.4" class="r"/>
<rect x="343.96" y="140.95" width="1.4" height="1.4" class="r"/>
<rect x="348.88" y="138.18" width="1.4" height="1.4" class="r"/>
<rect x="358.72" y="134.49" width="1.4" height="1.4" class="r"/>
<rect x="368.56" y="136.8" width="1.4" height="1.4" class="r"/>
<rect x="412.84" y="136.8" width="1.4" height="1.4" class="r"/>
<rect x="417.76" y="138.18" width="1.4" height="1.4" class="r"/>
<rect x="417.76" y="140.49" width="1.4" height="1.4" class="r"/>
<rect x="417.76" y="142.8" width="1.4" height="1.4" class="r"/>
<rect x="334.12" y="143.73" width="1.4" height="1.4" class="r"/>
<rect x="339.04" y="143.26" width="1.4" height="1.4" class="r"/>
<rect x="348.88" y="147.19" width="1.4" height="1.4" class="r"/>
<rect x="353.8" y="148.35" width="1.4" height="1.4" class="r"/>
<rect x="358.72" y="142.34" width="1.4" height="1.4" class="r"/>
<rect x="358.72" y="147.19" width="1.4" height="1.4" class="r"/>
<rect x="358.72" y="149.5" width="1.4" height="1.4" class="r"/>
<rect x="358.72" y="154.12" width="1.4" height="1.4" class="r"/>
<rect x="363.64" y="145.3" width="1.4" height="1.4" class="r"/>
<rect x="363.64" y="148.99" width="1.4" height="1.4" class="r"/>
<rect x="363.64" y="153.2" width="1.4" height="1.4" class="r"/>
<rect x="363.64" y="157.82" width="1.4" height="1.4" class="r"/>
<rect x="368.56" y="147.19" width="1.4" height="1.4" class="r"/>
<rect x="368.56" y="150.52" width="1.4" height="1.4" class="r"/>
<rect x="368.56" y="154.12" width="1.4" height="1.4" class="r"/>
<rect x="373.48" y="146.04" width="1.4" height="1.4" class="r"/>
<rect x="373.48" y="155.92" width="1.4" height="1.4" class="r"/>
<rect x="378.4" y="155" width="1.4" height="1.4" class="r"/>
<rect x="378.4" y="159.62" width="1.4" height="1.4" class="r"/>
<rect x="383.32" y="159.62" width="1.4" height="1.4" class="r"/>
<rect x="388.24" y="148.35" width="1.4" height="1.4" class="r"/>
<rect x="388.24" y="155.92" width="1.4" height="1.4" class="r"/>
<rect x="393.16" y="143.26" width="1.4" height="1.4" class="r"/>
<rect x="393.16" y="144.65" width="1.4" height="1.4" class="r"/>
<rect x="393.16" y="151.3" width="1.4" height="1.4" class="r"/>
<rect x="398.08" y="141.88" width="1.4" height="1.4" class="r"/>
<rect x="398.08" y="146.5" width="1.4" height="1.4" class="r"/>
<rect x="398.08" y="153.2" width="1.4" height="1.4" class="r"/>
<rect x="398.08" y="157.82" width="1.4" height="1.4" class="r"/>
<rect x="403" y="143.26" width="1.4" height="1.4" class="r"/>
<rect x="403" y="152.5" width="1.4" height="1.4" class="r"/>
<rect x="403" y="155.28" width="1.4" height="1.4" class="r"/>
<rect x="407.92" y="152.5" width="1.4" height="1.4" class="r"/>
<rect x="407.92" y="160.08" width="1.4" height="1.4" class="r"/>
<rect x="417.76" y="151.3" width="1.4" height="1.4" class="r"/>
<rect x="329.2" y="150.79" width="1.4" height="1.4" class="r"/>
<rect x="329.2" y="154.49" width="1.4" height="1.4" class="r"/>
<rect x="334.12" y="157.82" width="1.4" height="1.4" class="r"/>
<rect x="334.12" y="162.3" width="1.4" height="1.4" class="r"/>
<rect x="339.04" y="156.8" width="1.4" height="1.4" class="r"/>
<rect x="339.04" y="158.69" width="1.4" height="1.4" class="r"/>
<rect x="339.04" y="162.3" width="1.4" height="1.4" class="r"/>
<rect x="348.88" y="158.09" width="1.4" height="1.4" class="r"/>
<rect x="353.8" y="159.2" width="1.4" height="1.4" class="r"/>
<rect x="358.72" y="158.05" width="1.4" height="1.4" class="r"/>
<rect x="422.68" y="114.62" width="1.4" height="1.4" class="r"/>
<rect x="422.68" y="116.19" width="1.4" height="1.4" class="r"/>
<rect x="432.52" y="119.24" width="1.4" height="1.4" class="r"/>
<rect x="422.68" y="124.32" width="1.4" height="1.4" class="r"/>
<rect x="427.6" y="126.17" width="1.4" height="1.4" class="r"/>
<rect x="427.6" y="133.1" width="1.4" height="1.4" class="r"/>
<rect x="417.76" y="137.72" width="1.4" height="1.4" class="r"/>
<rect x="417.76" y="139.57" width="1.4" height="1.4" class="r"/>
<rect x="422.68" y="144.19" width="1.4" height="1.4" class="r"/>
<rect x="432.52" y="146.96" width="1.4" height="1.4" class="r"/>
<rect x="437.44" y="145.57" width="1.4" height="1.4" class="r"/>
<rect x="417.76" y="150.66" width="1.4" height="1.4" class="r"/>
<rect x="427.6" y="150.66" width="1.4" height="1.4" class="r"/>
<rect x="427.6" y="155.28" width="1.4" height="1.4" class="r"/>
<rect x="427.6" y="157.12" width="1.4" height="1.4" class="r"/>
<rect x="432.52" y="155.28" width="1.4" height="1.4" class="r"/>
<rect x="437.44" y="152.97" width="1.4" height="1.4" class="r"/>
<rect x="437.44" y="155.28" width="1.4" height="1.4" class="r"/>
<rect x="329.2" y="198.7" width="1.4" height="1.4" class="r"/>
<rect x="339.04" y="197.78" width="1.4" height="1.4" class="r"/>
<rect x="353.8" y="198.24" width="1.4" height="1.4" class="r"/>
<rect x="388.24" y="197.78" width="1.4" height="1.4" class="r"/>
<rect x="407.92" y="198.24" width="1.4" height="1.4" class="r"/>
<rect x="447.28" y="195.38" width="1.4" height="1.4" class="b"/>
<rect x="447.28" y="188.96" width="1.4" height="1.4" class="b"/>
<rect x="447.28" y="188.8" width="1.4" height="1.4" class="b"/>
<rect x="447.28" y="177.7" width="1.4" height="1.4" class="b"/>
<rect x="447.28" y="178.39" width="1.4" height="1.4" class="b"/>
<rect x="447.28" y="180.8" width="1.4" height="1.4" class="b"/>
<rect x="447.28" y="187.26" width="1.4" height="1.4" class="b"/>
<rect x="447.28" y="185.15" width="1.4" height="1.4" class="b"/>
<rect x="447.28" y="191.23" width="1.4" height="1.4" class="b"/>
<rect x="447.28" y="179.37" width="1.4" height="1.4" class="b"/>
<rect x="447.28" y="188.19" width="1.4" height="1.4" class="b"/>
<rect x="447.28" y="190.28" width="1.4" height="1.4" class="b"/>
<rect x="447.28" y="183.26" width="1.4" height="1.4" class="b"/>
<rect x="447.28" y="192.94" width="1.4" height="1.4" class="b"/>
<rect x="447.28" y="170.5" width="1.4" height="1.4" class="b"/>
<rect x="447.28" y="175.5" width="1.4" height="1.4" class="b"/>
<rect x="447.28" y="197.4" width="1.4" height="1.4" class="b"/>
<rect x="452.2" y="187.58" width="1.4" height="1.4" class="b"/>
<rect x="452.2" y="190.96" width="1.4" height="1.4" class="b"/>
<rect x="452.2" y="189.12" width="1.4" height="1.4" class="b"/>
<rect x="452.2" y="191.04" width="1.4" height="1.4" class="b"/>
<rect x="452.2" y="191.16" width="1.4" height="1.4" class="b"/>
<rect x="452.2" y="183.8" width="1.4" height="1.4" class="b"/>
<rect x="452.2" y="189.25" width="1.4" height="1.4" class="b"/>
<rect x="452.2" y="188.53" width="1.4" height="1.4" class="b"/>
<rect x="452.2" y="180.68" width="1.4" height="1.4" class="b"/>
<rect x="452.2" y="194.71" width="1.4" height="1.4" class="b"/>
<rect x="452.2" y="193.07" width="1.4" height="1.4" class="b"/>
<rect x="452.2" y="179.03" width="1.4" height="1.4" class="b"/>
<rect x="452.2" y="187.39" width="1.4" height="1.4" class="b"/>
<rect x="452.2" y="180.46" width="1.4" height="1.4" class="b"/>
<rect x="452.2" y="172.92" width="1.4" height="1.4" class="b"/>
<rect x="452.2" y="170.99" width="1.4" height="1.4" class="b"/>
<rect x="452.2" y="196.36" width="1.4" height="1.4" class="b"/>
<rect x="457.12" y="188.09" width="1.4" height="1.4" class="b"/>
<rect x="457.12" y="176.12" width="1.4" height="1.4" class="b"/>
<rect x="457.12" y="188.14" width="1.4" height="1.4" class="b"/>
<rect x="457.12" y="186.52" width="1.4" height="1.4" class="b"/>
<rect x="457.12" y="183.63" width="1.4" height="1.4" class="b"/>
<rect x="457.12" y="189.64" width="1.4" height="1.4" class="b"/>
<rect x="457.12" y="179.29" width="1.4" height="1.4" class="b"/>
<rect x="457.12" y="184.06" width="1.4" height="1.4" class="b"/>
<rect x="457.12" y="184.25" width="1.4" height="1.4" class="b"/>
<rect x="457.12" y="185.23" width="1.4" height="1.4" class="b"/>
<rect x="457.12" y="176.37" width="1.4" height="1.4" class="b"/>
<rect x="457.12" y="176.29" width="1.4" height="1.4" class="b"/>
<rect x="457.12" y="179.23" width="1.4" height="1.4" class="b"/>
<rect x="457.12" y="173.59" width="1.4" height="1.4" class="b"/>
<rect x="457.12" y="172.91" width="1.4" height="1.4" class="b"/>
<rect x="457.12" y="197.58" width="1.4" height="1.4" class="b"/>
<rect x="462.04" y="193.38" width="1.4" height="1.4" class="b"/>
<rect x="462.04" y="177.31" width="1.4" height="1.4" class="b"/>
<rect x="462.04" y="182.43" width="1.4" height="1.4" class="b"/>
<rect x="462.04" y="177.75" width="1.4" height="1.4" class="b"/>
<rect x="462.04" y="194.4" width="1.4" height="1.4" class="b"/>
<rect x="462.04" y="189.86" width="1.4" height="1.4" class="b"/>
<rect x="462.04" y="180.08" width="1.4" height="1.4" class="b"/>
<rect x="462.04" y="195.76" width="1.4" height="1.4" class="b"/>
<rect x="462.04" y="193.83" width="1.4" height="1.4" class="b"/>
<rect x="462.04" y="188.97" width="1.4" height="1.4" class="b"/>
<rect x="462.04" y="192.49" width="1.4" height="1.4" class="b"/>
<rect x="462.04" y="193.01" width="1.4" height="1.4" class="b"/>
<rect x="462.04" y="182.63" width="1.4" height="1.4" class="b"/>
<rect x="462.04" y="170.23" width="1.4" height="1.4" class="b"/>
<rect x="462.04" y="172.17" width="1.4" height="1.4" class="b"/>
<rect x="462.04" y="196.12" width="1.4" height="1.4" class="b"/>
<rect x="466.96" y="186.37" width="1.4" height="1.4" class="b"/>
<rect x="466.96" y="184.83" width="1.4" height="1.4" class="b"/>
<rect x="466.96" y="193.18" width="1.4" height="1.4" class="b"/>
<rect x="466.96" y="185.96" width="1.4" height="1.4" class="b"/>
<rect x="466.96" y="194.73" width="1.4" height="1.4" class="b"/>
<rect x="466.96" y="191.97" width="1.4" height="1.4" class="b"/>
<rect x="466.96" y="177.68" width="1.4" height="1.4" class="b"/>
<rect x="466.96" y="179.6" width="1.4" height="1.4" class="b"/>
<rect x="466.96" y="185.54" width="1.4" height="1.4" class="b"/>
<rect x="466.96" y="182.39" width="1.4" height="1.4" class="b"/>
<rect x="466.96" y="178.54" width="1.4" height="1.4" class="b"/>
<rect x="466.96" y="193.15" width="1.4" height="1.4" class="b"/>
<rect x="466.96" y="186.16" width="1.4" height="1.4" class="b"/>
<rect x="466.96" y="193.31" width="1.4" height="1.4" class="b"/>
<rect x="466.96" y="175.42" width="1.4" height="1.4" class="b"/>
<rect x="466.96" y="174.79" width="1.4" height="1.4" class="b"/>
<rect x="466.96" y="197.38" width="1.4" height="1.4" class="b"/>
<rect x="471.88" y="183.56" width="1.4" height="1.4" class="b"/>
<rect x="471.88" y="178.87" width="1.4" height="1.4" class="b"/>
<rect x="471.88" y="177.97" width="1.4" height="1.4" class="b"/>
<rect x="471.88" y="181.68" width="1.4" height="1.4" class="b"/>
<rect x="471.88" y="185.86" width="1.4" height="1.4" class="b"/>
<rect x="471.88" y="177.72" width="1.4" height="1.4" class="b"/>
<rect x="471.88" y="192.69" width="1.4" height="1.4" class="b"/>
<rect x="471.88" y="193.84" width="1.4" height="1.4" class="b"/>
<rect x="471.88" y="179.69" width="1.4" height="1.4" class="b"/>
<rect x="471.88" y="183.47" width="1.4" height="1.4" class="b"/>
<rect x="471.88" y="191.75" width="1.4" height="1.4" class="b"/>
<rect x="471.88" y="188.44" width="1.4" height="1.4" class="b"/>
<rect x="471.88" y="190.02" width="1.4" height="1.4" class="b"/>
<rect x="471.88" y="187.37" width="1.4" height="1.4" class="b"/>
<rect x="471.88" y="173.67" width="1.4" height="1.4" class="b"/>
<rect x="471.88" y="171.27" width="1.4" height="1.4" class="b"/>
<rect x="476.8" y="186.54" width="1.4" height="1.4" class="b"/>
<rect x="476.8" y="190.28" width="1.4" height="1.4" class="b"/>
<rect x="476.8" y="180.73" width="1.4" height="1.4" class="b"/>
<rect x="476.8" y="176.33" width="1.4" height="1.4" class="b"/>
<rect x="476.8" y="191.38" width="1.4" height="1.4" class="b"/>
<rect x="476.8" y="181.96" width="1.4" height="1.4" class="b"/>
<rect x="476.8" y="182.04" width="1.4" height="1.4" class="b"/>
<rect x="476.8" y="182.86" width="1.4" height="1.4" class="b"/>
<rect x="476.8" y="195.32" width="1.4" height="1.4" class="b"/>
<rect x="476.8" y="184.97" width="1.4" height="1.4" class="b"/>
<rect x="476.8" y="191.92" width="1.4" height="1.4" class="b"/>
<rect x="476.8" y="192.07" width="1.4" height="1.4" class="b"/>
<rect x="476.8" y="184.41" width="1.4" height="1.4" class="b"/>
<rect x="476.8" y="172.31" width="1.4" height="1.4" class="b"/>
<rect x="481.72" y="186.49" width="1.4" height="1.4" class="b"/>
<rect x="481.72" y="194.98" width="1.4" height="1.4" class="b"/>
<rect x="481.72" y="180.59" width="1.4" height="1.4" class="b"/>
<rect x="481.72" y="179.58" width="1.4" height="1.4" class="b"/>
<rect x="481.72" y="179.33" width="1.4" height="1.4" class="b"/>
<rect x="481.72" y="184.05" width="1.4" height="1.4" class="b"/>
<rect x="481.72" y="195.17" width="1.4" height="1.4" class="b"/>
<rect x="481.72" y="192.04" width="1.4" height="1.4" class="b"/>
<rect x="481.72" y="193.78" width="1.4" height="1.4" class="b"/>
<rect x="481.72" y="183.3" width="1.4" height="1.4" class="b"/>
<rect x="481.72" y="185.12" width="1.4" height="1.4" class="b"/>
<rect x="481.72" y="192.23" width="1.4" height="1.4" class="b"/>
<rect x="481.72" y="176.94" width="1.4" height="1.4" class="b"/>
<rect x="481.72" y="170.66" width="1.4" height="1.4" class="b"/>
<rect x="481.72" y="197.24" width="1.4" height="1.4" class="b"/>
<rect x="486.64" y="179.56" width="1.4" height="1.4" class="b"/>
<rect x="486.64" y="182.01" width="1.4" height="1.4" class="b"/>
<rect x="486.64" y="190.42" width="1.4" height="1.4" class="b"/>
<rect x="486.64" y="178" width="1.4" height="1.4" class="b"/>
<rect x="486.64" y="184.63" width="1.4" height="1.4" class="b"/>
<rect x="486.64" y="187.73" width="1.4" height="1.4" class="b"/>
<rect x="486.64" y="187.68" width="1.4" height="1.4" class="b"/>
<rect x="486.64" y="181.62" width="1.4" height="1.4" class="b"/>
<rect x="486.64" y="186.89" width="1.4" height="1.4" class="b"/>
<rect x="486.64" y="182.84" width="1.4" height="1.4" class="b"/>
<rect x="486.64" y="193.51" width="1.4" height="1.4" class="b"/>
<rect x="486.64" y="181.98" width="1.4" height="1.4" class="b"/>
<rect x="486.64" y="190.52" width="1.4" height="1.4" class="b"/>
<rect x="486.64" y="177.84" width="1.4" height="1.4" class="b"/>
<rect x="486.64" y="174.06" width="1.4" height="1.4" class="b"/>
<rect x="486.64" y="172.83" width="1.4" height="1.4" class="b"/>
<rect x="486.64" y="196.81" width="1.4" height="1.4" class="b"/>
<rect x="491.56" y="191.94" width="1.4" height="1.4" class="b"/>
<rect x="491.56" y="180.59" width="1.4" height="1.4" class="b"/>
<rect x="491.56" y="182.16" width="1.4" height="1.4" class="b"/>
<rect x="491.56" y="180.31" width="1.4" height="1.4" class="b"/>
<rect x="491.56" y="187.04" width="1.4" height="1.4" class="b"/>
<rect x="491.56" y="186.9" width="1.4" height="1.4" class="b"/>
<rect x="491.56" y="189.06" width="1.4" height="1.4" class="b"/>
<rect x="491.56" y="186.53" width="1.4" height="1.4" class="b"/>
<rect x="491.56" y="190.87" width="1.4" height="1.4" class="b"/>
<rect x="491.56" y="192.14" width="1.4" height="1.4" class="b"/>
<rect x="491.56" y="186.47" width="1.4" height="1.4" class="b"/>
<rect x="491.56" y="192.12" width="1.4" height="1.4" class="b"/>
<rect x="491.56" y="186.61" width="1.4" height="1.4" class="b"/>
<rect x="491.56" y="174.21" width="1.4" height="1.4" class="b"/>
<rect x="491.56" y="196.66" width="1.4" height="1.4" class="b"/>
<rect x="496.48" y="191.52" width="1.4" height="1.4" class="b"/>
<rect x="496.48" y="183.7" width="1.4" height="1.4" class="b"/>
<rect x="496.48" y="182.85" width="1.4" height="1.4" class="b"/>
<rect x="496.48" y="178.35" width="1.4" height="1.4" class="b"/>
<rect x="496.48" y="182.38" width="1.4" height="1.4" class="b"/>
<rect x="496.48" y="189.82" width="1.4" height="1.4" class="b"/>
<rect x="496.48" y="191.81" width="1.4" height="1.4" class="b"/>
<rect x="496.48" y="179.31" width="1.4" height="1.4" class="b"/>
<rect x="496.48" y="189.99" width="1.4" height="1.4" class="b"/>
<rect x="496.48" y="195.68" width="1.4" height="1.4" class="b"/>
<rect x="496.48" y="178.64" width="1.4" height="1.4" class="b"/>
<rect x="496.48" y="192" width="1.4" height="1.4" class="b"/>
<rect x="496.48" y="189.71" width="1.4" height="1.4" class="b"/>
<rect x="496.48" y="174.53" width="1.4" height="1.4" class="b"/>
<rect x="496.48" y="171.72" width="1.4" height="1.4" class="b"/>
<rect x="496.48" y="196.97" width="1.4" height="1.4" class="b"/>
<rect x="501.4" y="179.37" width="1.4" height="1.4" class="b"/>
<rect x="501.4" y="195.57" width="1.4" height="1.4" class="b"/>
<rect x="501.4" y="184.41" width="1.4" height="1.4" class="b"/>
<rect x="501.4" y="193.31" width="1.4" height="1.4" class="b"/>
<rect x="501.4" y="192.94" width="1.4" height="1.4" class="b"/>
<rect x="501.4" y="183.88" width="1.4" height="1.4" class="b"/>
<rect x="501.4" y="188.47" width="1.4" height="1.4" class="b"/>
<rect x="501.4" y="194.64" width="1.4" height="1.4" class="b"/>
<rect x="501.4" y="184.25" width="1.4" height="1.4" class="b"/>
<rect x="501.4" y="177.77" width="1.4" height="1.4" class="b"/>
<rect x="501.4" y="183.12" width="1.4" height="1.4" class="b"/>
<rect x="501.4" y="186.09" width="1.4" height="1.4" class="b"/>
<rect x="501.4" y="180.02" width="1.4" height="1.4" class="b"/>
<rect x="501.4" y="177.74" width="1.4" height="1.4" class="b"/>
<rect x="501.4" y="174.27" width="1.4" height="1.4" class="b"/>
<rect x="501.4" y="170.27" width="1.4" height="1.4" class="b"/>
<rect x="506.32" y="181.95" width="1.4" height="1.4" class="b"/>
<rect x="506.32" y="178.56" width="1.4" height="1.4" class="b"/>
<rect x="506.32" y="184.18" width="1.4" height="1.4" class="b"/>
<rect x="506.32" y="181.98" width="1.4" height="1.4" class="b"/>
<rect x="506.32" y="185.52" width="1.4" height="1.4" class="b"/>
<rect x="506.32" y="191.27" width="1.4" height="1.4" class="b"/>
<rect x="506.32" y="191.7" width="1.4" height="1.4" class="b"/>
<rect x="506.32" y="194.7" width="1.4" height="1.4" class="b"/>
<rect x="506.32" y="182.71" width="1.4" height="1.4" class="b"/>
<rect x="506.32" y="193.18" width="1.4" height="1.4" class="b"/>
<rect x="506.32" y="183.59" width="1.4" height="1.4" class="b"/>
<rect x="506.32" y="188.16" width="1.4" height="1.4" class="b"/>
<rect x="506.32" y="187.27" width="1.4" height="1.4" class="b"/>
<rect x="506.32" y="176.65" width="1.4" height="1.4" class="b"/>
<rect x="506.32" y="173.21" width="1.4" height="1.4" class="b"/>
<rect x="506.32" y="173.78" width="1.4" height="1.4" class="b"/>
<rect x="506.32" y="197.37" width="1.4" height="1.4" class="b"/>
<rect x="466.96" y="54.89" width="1.4" height="1.4" class="b"/>
<rect x="471.88" y="56.81" width="1.4" height="1.4" class="b"/>
<rect x="476.8" y="60.08" width="1.4" height="1.4" class="b"/>
<rect x="471.88" y="76.74" width="1.4" height="1.4" class="b"/>
<rect x="447.28" y="125.71" width="1.4" height="1.4" class="b"/>
<rect x="452.2" y="131.02" width="1.4" height="1.4" class="b"/>
<rect x="462.04" y="134.02" width="1.4" height="1.4" class="b"/>
<rect x="457.12" y="140.03" width="1.4" height="1.4" class="b"/>
<rect x="462.04" y="141.88" width="1.4" height="1.4" class="b"/>
<rect x="481.72" y="128.02" width="1.4" height="1.4" class="b"/>
<rect x="486.64" y="125.71" width="1.4" height="1.4" class="b"/>
<rect x="486.64" y="130.33" width="1.4" height="1.4" class="b"/>
<rect x="491.56" y="131.71" width="1.4" height="1.4" class="b"/>
<rect x="496.48" y="125.25" width="1.4" height="1.4" class="b"/>
<rect x="447.28" y="149.73" width="1.4" height="1.4" class="b"/>
<rect x="457.12" y="149.73" width="1.4" height="1.4" class="b"/>
<rect x="457.12" y="151.58" width="1.4" height="1.4" class="b"/>
<rect x="457.12" y="152.97" width="1.4" height="1.4" class="b"/>
<rect x="476.8" y="146.04" width="1.4" height="1.4" class="b"/>
<rect x="486.64" y="148.81" width="1.4" height="1.4" class="b"/>
<rect x="486.64" y="154.12" width="1.4" height="1.4" class="b"/>
<rect x="491.56" y="146.5" width="1.4" height="1.4" class="b"/>
<rect x="491.56" y="156.2" width="1.4" height="1.4" class="b"/>
<rect x="491.56" y="158.05" width="1.4" height="1.4" class="b"/>
<rect x="447.28" y="157.12" width="1.4" height="1.4" class="b"/>
<rect x="452.2" y="157.12" width="1.4" height="1.4" class="b"/>
<rect x="462.04" y="157.12" width="1.4" height="1.4" class="b"/>
<rect x="466.96" y="157.12" width="1.4" height="1.4" class="b"/>
<rect x="471.88" y="157.12" width="1.4" height="1.4" class="b"/>
<rect x="476.8" y="157.12" width="1.4" height="1.4" class="b"/>
<rect x="452.2" y="163.13" width="1.4" height="1.4" class="b"/>
<rect x="462.04" y="165.44" width="1.4" height="1.4" class="b"/>
<rect x="471.88" y="161.74" width="1.4" height="1.4" class="b"/>
<rect x="481.72" y="167.75" width="1.4" height="1.4" class="b"/>
<rect x="496.48" y="164.52" width="1.4" height="1.4" class="b"/>
<rect x="501.4" y="167.75" width="1.4" height="1.4" class="b"/>
<rect x="506.32" y="165.44" width="1.4" height="1.4" class="b"/>
<rect x="466.96" y="170.06" width="1.4" height="1.4" class="b"/>
<rect x="476.8" y="171.91" width="1.4" height="1.4" class="b"/>
<rect x="501.4" y="172.37" width="1.4" height="1.4" class="b"/>
<rect x="506.32" y="170.98" width="1.4" height="1.4" class="b"/>
<path d="M329.9,158.29 L334.61,159.04 L339.33,159.76 L344.04,160.44 L348.76,161.08 L353.47,161.69 L358.19,162.27 L362.9,162.81 L367.62,163.32 L372.33,163.79 L377.05,164.22 L381.76,164.62 L386.48,164.99 L391.19,165.31 L395.91,165.61 L400.62,165.87 L405.34,166.09 L410.05,166.28 L414.77,166.43 L419.48,166.55 L424.2,166.63 L428.91,166.67 L433.63,166.69 L438.34,166.66 L443.06,166.6 L443.06,177.69 L438.34,177.05 L433.63,176.45 L428.91,175.89 L424.2,175.35 L419.48,174.86 L414.77,174.4 L410.05,173.97 L405.34,173.58 L400.62,173.23 L395.91,172.91 L391.19,172.63 L386.48,172.38 L381.76,172.16 L377.05,171.99 L372.33,171.84 L367.62,171.74 L362.9,171.66 L358.19,171.63 L353.47,171.62 L348.76,171.66 L344.04,171.73 L339.33,171.83 L334.61,171.97 L329.9,172.15 Z" class="band"/>
<path d="M447.98,173.02 L450.44,173.49 L452.9,173.94 L455.36,174.37 L457.82,174.76 L460.28,175.14 L462.74,175.49 L465.2,175.82 L467.66,176.12 L470.12,176.4 L472.58,176.65 L475.04,176.88 L477.5,177.09 L479.96,177.27 L482.42,177.43 L484.88,177.56 L487.34,177.67 L489.8,177.76 L492.26,177.82 L494.72,177.86 L497.18,177.87 L499.64,177.86 L502.1,177.83 L504.56,177.77 L507.02,177.69 L507.02,186.01 L504.56,185.44 L502.1,184.9 L499.64,184.38 L497.18,183.88 L494.72,183.41 L492.26,182.96 L489.8,182.54 L487.34,182.14 L484.88,181.77 L482.42,181.41 L479.96,181.09 L477.5,180.79 L475.04,180.51 L472.58,180.25 L470.12,180.02 L467.66,179.82 L465.2,179.63 L462.74,179.47 L460.28,179.34 L457.82,179.23 L455.36,179.14 L452.9,179.08 L450.44,179.04 L447.98,179.03 Z" class="band"/>
<line x1="329.9" y1="165.22" x2="443.06" y2="172.15" class="rl"/>
<line x1="447.98" y1="176.03" x2="507.02" y2="181.85" class="rl"/>
<line x1="327.05" y1="29.5" x2="327.05" y2="60.8" class="ax"/>
<line x1="327.05" y1="63.3" x2="327.05" y2="203.65" class="ax"/>
<line x1="322.75" y1="203.4" x2="510.5" y2="203.4" class="ax"/>
<text x="318.65" y="205.8" class="yl">0</text>
<line x1="322.75" y1="156.9" x2="327.05" y2="156.9" class="tk"/>
<text x="318.65" y="159.6" class="yl">100</text>
<line x1="322.75" y1="110.7" x2="327.05" y2="110.7" class="tk"/>
<text x="318.65" y="113.4" class="yl">200</text>
<line x1="322.75" y1="64.5" x2="327.05" y2="64.5" class="tk"/>
<text x="318.65" y="67.8" class="yl">300</text>
<line x1="322.75" y1="58" x2="327.05" y2="58" class="tk"/>
<text x="318.65" y="60.3" class="yl">400</text>
<line x1="322.75" y1="45.64" x2="327.05" y2="45.64" class="tk"/>
<text x="318.65" y="48.34" class="yl">800</text>
<line x1="322.75" y1="33.28" x2="327.05" y2="33.28" class="tk"/>
<text x="318.65" y="35.98" class="yl">1200</text>
<line x1="322.75" y1="51.82" x2="327.05" y2="51.82" class="tk"/>
<line x1="322.75" y1="39.46" x2="327.05" y2="39.46" class="tk"/>
<line x1="329.9" y1="203.1" x2="329.9" y2="207.6" class="tk"/>
<text x="329.9" y="218.5" class="xl">−24</text>
<line x1="359.42" y1="203.1" x2="359.42" y2="207.6" class="tk"/>
<text x="359.42" y="218.5" class="xl">−18</text>
<line x1="388.94" y1="203.1" x2="388.94" y2="207.6" class="tk"/>
<text x="388.94" y="218.5" class="xl">−12</text>
<line x1="418.46" y1="203.1" x2="418.46" y2="207.6" class="tk"/>
<text x="418.46" y="218.5" class="xl">−6</text>
<line x1="447.98" y1="203.1" x2="447.98" y2="207.6" class="tk"/>
<text x="447.98" y="218.5" class="xl">0</text>
<line x1="477.5" y1="203.1" x2="477.5" y2="207.6" class="tk"/>
<text x="477.5" y="218.5" class="xl">6</text>
<line x1="507.02" y1="203.1" x2="507.02" y2="207.6" class="tk"/>
<text x="507.02" y="218.5" class="xl">12</text>
<text x="269.6" y="20.6" class="let">B</text>
<text transform="translate(293.3,118.5) rotate(-90) scale(0.65,1)" class="yt">ALT</text>
<rect x="67.9" y="410.76" width="1.4" height="1.4" class="r"/>
<rect x="67.9" y="413.66" width="1.4" height="1.4" class="r"/>
<rect x="67.9" y="409.77" width="1.4" height="1.4" class="r"/>
<rect x="67.9" y="409.4" width="1.4" height="1.4" class="r"/>
<rect x="67.9" y="418.71" width="1.4" height="1.4" class="r"/>
<rect x="67.9" y="419.59" width="1.4" height="1.4" class="r"/>
<rect x="67.9" y="405.89" width="1.4" height="1.4" class="r"/>
<rect x="67.9" y="415.49" width="1.4" height="1.4" class="r"/>
<rect x="67.9" y="415.91" width="1.4" height="1.4" class="r"/>
<rect x="67.9" y="403.26" width="1.4" height="1.4" class="r"/>
<rect x="67.9" y="411.99" width="1.4" height="1.4" class="r"/>
<rect x="67.9" y="421.25" width="1.4" height="1.4" class="r"/>
<rect x="67.9" y="401.43" width="1.4" height="1.4" class="r"/>
<rect x="67.9" y="395.8" width="1.4" height="1.4" class="r"/>
<rect x="67.9" y="393.09" width="1.4" height="1.4" class="r"/>
<rect x="72.82" y="407.48" width="1.4" height="1.4" class="r"/>
<rect x="72.82" y="408.65" width="1.4" height="1.4" class="r"/>
<rect x="72.82" y="418.74" width="1.4" height="1.4" class="r"/>
<rect x="72.82" y="407.2" width="1.4" height="1.4" class="r"/>
<rect x="72.82" y="409.98" width="1.4" height="1.4" class="r"/>
<rect x="72.82" y="414.8" width="1.4" height="1.4" class="r"/>
<rect x="72.82" y="419.29" width="1.4" height="1.4" class="r"/>
<rect x="72.82" y="405.42" width="1.4" height="1.4" class="r"/>
<rect x="72.82" y="411.95" width="1.4" height="1.4" class="r"/>
<rect x="72.82" y="407.86" width="1.4" height="1.4" class="r"/>
<rect x="72.82" y="405.2" width="1.4" height="1.4" class="r"/>
<rect x="72.82" y="420.02" width="1.4" height="1.4" class="r"/>
<rect x="72.82" y="393.87" width="1.4" height="1.4" class="r"/>
<rect x="72.82" y="398.01" width="1.4" height="1.4" class="r"/>
<rect x="72.82" y="392.3" width="1.4" height="1.4" class="r"/>
<rect x="77.74" y="418.18" width="1.4" height="1.4" class="r"/>
<rect x="77.74" y="417.54" width="1.4" height="1.4" class="r"/>
<rect x="77.74" y="416.2" width="1.4" height="1.4" class="r"/>
<rect x="77.74" y="403.76" width="1.4" height="1.4" class="r"/>
<rect x="77.74" y="412.55" width="1.4" height="1.4" class="r"/>
<rect x="77.74" y="409.39" width="1.4" height="1.4" class="r"/>
<rect x="77.74" y="414.8" width="1.4" height="1.4" class="r"/>
<rect x="77.74" y="411.37" width="1.4" height="1.4" class="r"/>
<rect x="77.74" y="413.39" width="1.4" height="1.4" class="r"/>
<rect x="77.74" y="413.97" width="1.4" height="1.4" class="r"/>
<rect x="77.74" y="410.08" width="1.4" height="1.4" class="r"/>
<rect x="77.74" y="420.07" width="1.4" height="1.4" class="r"/>
<rect x="77.74" y="392.38" width="1.4" height="1.4" class="r"/>
<rect x="77.74" y="393.22" width="1.4" height="1.4" class="r"/>
<rect x="77.74" y="391.65" width="1.4" height="1.4" class="r"/>
<rect x="82.66" y="417.09" width="1.4" height="1.4" class="r"/>
<rect x="82.66" y="405.5" width="1.4" height="1.4" class="r"/>
<rect x="82.66" y="403.77" width="1.4" height="1.4" class="r"/>
<rect x="82.66" y="404.77" width="1.4" height="1.4" class="r"/>
<rect x="82.66" y="410.35" width="1.4" height="1.4" class="r"/>
<rect x="82.66" y="407.94" width="1.4" height="1.4" class="r"/>
<rect x="82.66" y="416.3" width="1.4" height="1.4" class="r"/>
<rect x="82.66" y="405.98" width="1.4" height="1.4" class="r"/>
<rect x="82.66" y="410.27" width="1.4" height="1.4" class="r"/>
<rect x="82.66" y="415.07" width="1.4" height="1.4" class="r"/>
<rect x="82.66" y="418.75" width="1.4" height="1.4" class="r"/>
<rect x="82.66" y="419.83" width="1.4" height="1.4" class="r"/>
<rect x="82.66" y="393.87" width="1.4" height="1.4" class="r"/>
<rect x="82.66" y="398.41" width="1.4" height="1.4" class="r"/>
<rect x="82.66" y="401.43" width="1.4" height="1.4" class="r"/>
<rect x="82.66" y="399.76" width="1.4" height="1.4" class="r"/>
<rect x="87.58" y="405.3" width="1.4" height="1.4" class="r"/>
<rect x="87.58" y="419.07" width="1.4" height="1.4" class="r"/>
<rect x="87.58" y="409.59" width="1.4" height="1.4" class="r"/>
<rect x="87.58" y="419.06" width="1.4" height="1.4" class="r"/>
<rect x="87.58" y="407.86" width="1.4" height="1.4" class="r"/>
<rect x="87.58" y="414.3" width="1.4" height="1.4" class="r"/>
<rect x="87.58" y="405.16" width="1.4" height="1.4" class="r"/>
<rect x="87.58" y="403.51" width="1.4" height="1.4" class="r"/>
<rect x="87.58" y="411.4" width="1.4" height="1.4" class="r"/>
<rect x="87.58" y="403.21" width="1.4" height="1.4" class="r"/>
<rect x="87.58" y="414.66" width="1.4" height="1.4" class="r"/>
<rect x="87.58" y="420.91" width="1.4" height="1.4" class="r"/>
<rect x="87.58" y="400.89" width="1.4" height="1.4" class="r"/>
<rect x="87.58" y="398.44" width="1.4" height="1.4" class="r"/>
<rect x="87.58" y="396.08" width="1.4" height="1.4" class="r"/>
<rect x="87.58" y="401.37" width="1.4" height="1.4" class="r"/>
<rect x="92.5" y="405.38" width="1.4" height="1.4" class="r"/>
<rect x="92.5" y="414.59" width="1.4" height="1.4" class="r"/>
<rect x="92.5" y="403.87" width="1.4" height="1.4" class="r"/>
<rect x="92.5" y="404.9" width="1.4" height="1.4" class="r"/>
<rect x="92.5" y="413.53" width="1.4" height="1.4" class="r"/>
<rect x="92.5" y="412.15" width="1.4" height="1.4" class="r"/>
<rect x="92.5" y="411.16" width="1.4" height="1.4" class="r"/>
<rect x="92.5" y="409.1" width="1.4" height="1.4" class="r"/>
<rect x="92.5" y="409.9" width="1.4" height="1.4" class="r"/>
<rect x="92.5" y="410.51" width="1.4" height="1.4" class="r"/>
<rect x="92.5" y="409.5" width="1.4" height="1.4" class="r"/>
<rect x="92.5" y="421.17" width="1.4" height="1.4" class="r"/>
<rect x="92.5" y="394.8" width="1.4" height="1.4" class="r"/>
<rect x="92.5" y="400.42" width="1.4" height="1.4" class="r"/>
<rect x="92.5" y="399.68" width="1.4" height="1.4" class="r"/>
<rect x="97.42" y="411.14" width="1.4" height="1.4" class="r"/>
<rect x="97.42" y="410.69" width="1.4" height="1.4" class="r"/>
<rect x="97.42" y="419.61" width="1.4" height="1.4" class="r"/>
<rect x="97.42" y="412.9" width="1.4" height="1.4" class="r"/>
<rect x="97.42" y="410.16" width="1.4" height="1.4" class="r"/>
<rect x="97.42" y="419.47" width="1.4" height="1.4" class="r"/>
<rect x="97.42" y="409.57" width="1.4" height="1.4" class="r"/>
<rect x="97.42" y="409.3" width="1.4" height="1.4" class="r"/>
<rect x="97.42" y="418.81" width="1.4" height="1.4" class="r"/>
<rect x="97.42" y="409.38" width="1.4" height="1.4" class="r"/>
<rect x="97.42" y="412.05" width="1.4" height="1.4" class="r"/>
<rect x="97.42" y="421.6" width="1.4" height="1.4" class="r"/>
<rect x="97.42" y="394.6" width="1.4" height="1.4" class="r"/>
<rect x="97.42" y="402.93" width="1.4" height="1.4" class="r"/>
<rect x="97.42" y="402.48" width="1.4" height="1.4" class="r"/>
<rect x="102.34" y="403.79" width="1.4" height="1.4" class="r"/>
<rect x="102.34" y="415.63" width="1.4" height="1.4" class="r"/>
<rect x="102.34" y="412.22" width="1.4" height="1.4" class="r"/>
<rect x="102.34" y="409.95" width="1.4" height="1.4" class="r"/>
<rect x="102.34" y="414.49" width="1.4" height="1.4" class="r"/>
<rect x="102.34" y="413.76" width="1.4" height="1.4" class="r"/>
<rect x="102.34" y="414.61" width="1.4" height="1.4" class="r"/>
<rect x="102.34" y="413.67" width="1.4" height="1.4" class="r"/>
<rect x="102.34" y="409.9" width="1.4" height="1.4" class="r"/>
<rect x="102.34" y="414.81" width="1.4" height="1.4" class="r"/>
<rect x="102.34" y="413.54" width="1.4" height="1.4" class="r"/>
<rect x="102.34" y="422.5" width="1.4" height="1.4" class="r"/>
<rect x="102.34" y="394.63" width="1.4" height="1.4" class="r"/>
<rect x="102.34" y="399.58" width="1.4" height="1.4" class="r"/>
<rect x="102.34" y="400.59" width="1.4" height="1.4" class="r"/>
<rect x="107.26" y="415.84" width="1.4" height="1.4" class="r"/>
<rect x="107.26" y="416.69" width="1.4" height="1.4" class="r"/>
<rect x="107.26" y="412.57" width="1.4" height="1.4" class="r"/>
<rect x="107.26" y="408.2" width="1.4" height="1.4" class="r"/>
<rect x="107.26" y="418.11" width="1.4" height="1.4" class="r"/>
<rect x="107.26" y="414.45" width="1.4" height="1.4" class="r"/>
<rect x="107.26" y="414.26" width="1.4" height="1.4" class="r"/>
<rect x="107.26" y="405.95" width="1.4" height="1.4" class="r"/>
<rect x="107.26" y="412.52" width="1.4" height="1.4" class="r"/>
<rect x="107.26" y="405.59" width="1.4" height="1.4" class="r"/>
<rect x="107.26" y="416.99" width="1.4" height="1.4" class="r"/>
<rect x="107.26" y="420.77" width="1.4" height="1.4" class="r"/>
<rect x="107.26" y="397.94" width="1.4" height="1.4" class="r"/>
<rect x="107.26" y="400.57" width="1.4" height="1.4" class="r"/>
<rect x="107.26" y="401.78" width="1.4" height="1.4" class="r"/>
<rect x="112.18" y="416.63" width="1.4" height="1.4" class="r"/>
<rect x="112.18" y="406.4" width="1.4" height="1.4" class="r"/>
<rect x="112.18" y="405.87" width="1.4" height="1.4" class="r"/>
<rect x="112.18" y="416.75" width="1.4" height="1.4" class="r"/>
<rect x="112.18" y="415.17" width="1.4" height="1.4" class="r"/>
<rect x="112.18" y="406.39" width="1.4" height="1.4" class="r"/>
<rect x="112.18" y="409.14" width="1.4" height="1.4" class="r"/>
<rect x="112.18" y="406.4" width="1.4" height="1.4" class="r"/>
<rect x="112.18" y="414.07" width="1.4" height="1.4" class="r"/>
<rect x="112.18" y="417.65" width="1.4" height="1.4" class="r"/>
<rect x="112.18" y="414.95" width="1.4" height="1.4" class="r"/>
<rect x="112.18" y="421.82" width="1.4" height="1.4" class="r"/>
<rect x="112.18" y="398.33" width="1.4" height="1.4" class="r"/>
<rect x="112.18" y="398.3" width="1.4" height="1.4" class="r"/>
<rect x="112.18" y="398.42" width="1.4" height="1.4" class="r"/>
<rect x="117.1" y="417.21" width="1.4" height="1.4" class="r"/>
<rect x="117.1" y="419.73" width="1.4" height="1.4" class="r"/>
<rect x="117.1" y="404.13" width="1.4" height="1.4" class="r"/>
<rect x="117.1" y="405.18" width="1.4" height="1.4" class="r"/>
<rect x="117.1" y="403.4" width="1.4" height="1.4" class="r"/>
<rect x="117.1" y="412.59" width="1.4" height="1.4" class="r"/>
<rect x="117.1" y="404.01" width="1.4" height="1.4" class="r"/>
<rect x="117.1" y="404.39" width="1.4" height="1.4" class="r"/>
<rect x="117.1" y="416.11" width="1.4" height="1.4" class="r"/>
<rect x="117.1" y="407.41" width="1.4" height="1.4" class="r"/>
<rect x="117.1" y="405.9" width="1.4" height="1.4" class="r"/>
<rect x="117.1" y="421.14" width="1.4" height="1.4" class="r"/>
<rect x="117.1" y="399.22" width="1.4" height="1.4" class="r"/>
<rect x="117.1" y="400.54" width="1.4" height="1.4" class="r"/>
<rect x="117.1" y="402.39" width="1.4" height="1.4" class="r"/>
<rect x="122.02" y="415.03" width="1.4" height="1.4" class="r"/>
<rect x="122.02" y="406.34" width="1.4" height="1.4" class="r"/>
<rect x="122.02" y="419.05" width="1.4" height="1.4" class="r"/>
<rect x="122.02" y="404.79" width="1.4" height="1.4" class="r"/>
<rect x="122.02" y="408.27" width="1.4" height="1.4" class="r"/>
<rect x="122.02" y="404.45" width="1.4" height="1.4" class="r"/>
<rect x="122.02" y="404.9" width="1.4" height="1.4" class="r"/>
<rect x="122.02" y="404.85" width="1.4" height="1.4" class="r"/>
<rect x="122.02" y="410.22" width="1.4" height="1.4" class="r"/>
<rect x="122.02" y="419.59" width="1.4" height="1.4" class="r"/>
<rect x="122.02" y="407.42" width="1.4" height="1.4" class="r"/>
<rect x="122.02" y="421.74" width="1.4" height="1.4" class="r"/>
<rect x="122.02" y="397.08" width="1.4" height="1.4" class="r"/>
<rect x="122.02" y="398.37" width="1.4" height="1.4" class="r"/>
<rect x="122.02" y="392.26" width="1.4" height="1.4" class="r"/>
<rect x="126.94" y="414.13" width="1.4" height="1.4" class="r"/>
<rect x="126.94" y="415.61" width="1.4" height="1.4" class="r"/>
<rect x="126.94" y="405.48" width="1.4" height="1.4" class="r"/>
<rect x="126.94" y="411.87" width="1.4" height="1.4" class="r"/>
<rect x="126.94" y="406.8" width="1.4" height="1.4" class="r"/>
<rect x="126.94" y="413.96" width="1.4" height="1.4" class="r"/>
<rect x="126.94" y="416.52" width="1.4" height="1.4" class="r"/>
<rect x="126.94" y="410.92" width="1.4" height="1.4" class="r"/>
<rect x="126.94" y="406.23" width="1.4" height="1.4" class="r"/>
<rect x="126.94" y="416.96" width="1.4" height="1.4" class="r"/>
<rect x="126.94" y="406.65" width="1.4" height="1.4" class="r"/>
<rect x="126.94" y="420.34" width="1.4" height="1.4" class="r"/>
<rect x="126.94" y="403.1" width="1.4" height="1.4" class="r"/>
<rect x="126.94" y="395.87" width="1.4" height="1.4" class="r"/>
<rect x="126.94" y="393.15" width="1.4" height="1.4" class="r"/>
<rect x="131.86" y="415.29" width="1.4" height="1.4" class="r"/>
<rect x="131.86" y="415.34" width="1.4" height="1.4" class="r"/>
<rect x="131.86" y="411.04" width="1.4" height="1.4" class="r"/>
<rect x="131.86" y="412.77" width="1.4" height="1.4" class="r"/>
<rect x="131.86" y="411.94" width="1.4" height="1.4" class="r"/>
<rect x="131.86" y="406.9" width="1.4" height="1.4" class="r"/>
<rect x="131.86" y="419.77" width="1.4" height="1.4" class="r"/>
<rect x="131.86" y="418.89" width="1.4" height="1.4" class="r"/>
<rect x="131.86" y="417.7" width="1.4" height="1.4" class="r"/>
<rect x="131.86" y="417.73" width="1.4" height="1.4" class="r"/>
<rect x="131.86" y="418.67" width="1.4" height="1.4" class="r"/>
<rect x="131.86" y="420.21" width="1.4" height="1.4" class="r"/>
<rect x="131.86" y="397.34" width="1.4" height="1.4" class="r"/>
<rect x="131.86" y="399.51" width="1.4" height="1.4" class="r"/>
<rect x="131.86" y="399.52" width="1.4" height="1.4" class="r"/>
<rect x="131.86" y="399.1" width="1.4" height="1.4" class="r"/>
<rect x="136.78" y="410.05" width="1.4" height="1.4" class="r"/>
<rect x="136.78" y="413.81" width="1.4" height="1.4" class="r"/>
<rect x="136.78" y="416.63" width="1.4" height="1.4" class="r"/>
<rect x="136.78" y="414.34" width="1.4" height="1.4" class="r"/>
<rect x="136.78" y="417.75" width="1.4" height="1.4" class="r"/>
<rect x="136.78" y="410.57" width="1.4" height="1.4" class="r"/>
<rect x="136.78" y="407.9" width="1.4" height="1.4" class="r"/>
<rect x="136.78" y="413.48" width="1.4" height="1.4" class="r"/>
<rect x="136.78" y="418.48" width="1.4" height="1.4" class="r"/>
<rect x="136.78" y="416.84" width="1.4" height="1.4" class="r"/>
<rect x="136.78" y="413.6" width="1.4" height="1.4" class="r"/>
<rect x="136.78" y="420.41" width="1.4" height="1.4" class="r"/>
<rect x="136.78" y="393.86" width="1.4" height="1.4" class="r"/>
<rect x="136.78" y="395.94" width="1.4" height="1.4" class="r"/>
<rect x="136.78" y="398.16" width="1.4" height="1.4" class="r"/>
<rect x="141.7" y="411.56" width="1.4" height="1.4" class="r"/>
<rect x="141.7" y="408.12" width="1.4" height="1.4" class="r"/>
<rect x="141.7" y="412.82" width="1.4" height="1.4" class="r"/>
<rect x="141.7" y="408.27" width="1.4" height="1.4" class="r"/>
<rect x="141.7" y="412.14" width="1.4" height="1.4" class="r"/>
<rect x="141.7" y="415.73" width="1.4" height="1.4" class="r"/>
<rect x="141.7" y="410.9" width="1.4" height="1.4" class="r"/>
<rect x="141.7" y="408.25" width="1.4" height="1.4" class="r"/>
<rect x="141.7" y="418.61" width="1.4" height="1.4" class="r"/>
<rect x="141.7" y="412.74" width="1.4" height="1.4" class="r"/>
<rect x="141.7" y="412.73" width="1.4" height="1.4" class="r"/>
<rect x="141.7" y="419.98" width="1.4" height="1.4" class="r"/>
<rect x="141.7" y="392.74" width="1.4" height="1.4" class="r"/>
<rect x="141.7" y="393.98" width="1.4" height="1.4" class="r"/>
<rect x="141.7" y="400.13" width="1.4" height="1.4" class="r"/>
<rect x="146.62" y="417.76" width="1.4" height="1.4" class="r"/>
<rect x="146.62" y="406.29" width="1.4" height="1.4" class="r"/>
<rect x="146.62" y="408.8" width="1.4" height="1.4" class="r"/>
<rect x="146.62" y="405.06" width="1.4" height="1.4" class="r"/>
<rect x="146.62" y="406.63" width="1.4" height="1.4" class="r"/>
<rect x="146.62" y="408.71" width="1.4" height="1.4" class="r"/>
<rect x="146.62" y="407.61" width="1.4" height="1.4" class="r"/>
<rect x="146.62" y="410.43" width="1.4" height="1.4" class="r"/>
<rect x="146.62" y="418.09" width="1.4" height="1.4" class="r"/>
<rect x="146.62" y="410.04" width="1.4" height="1.4" class="r"/>
<rect x="146.62" y="419.72" width="1.4" height="1.4" class="r"/>
<rect x="146.62" y="420.43" width="1.4" height="1.4" class="r"/>
<rect x="146.62" y="402.12" width="1.4" height="1.4" class="r"/>
<rect x="146.62" y="402.03" width="1.4" height="1.4" class="r"/>
<rect x="146.62" y="392.94" width="1.4" height="1.4" class="r"/>
<rect x="146.62" y="401.1" width="1.4" height="1.4" class="r"/>
<rect x="151.54" y="405.82" width="1.4" height="1.4" class="r"/>
<rect x="151.54" y="417.79" width="1.4" height="1.4" class="r"/>
<rect x="151.54" y="405.78" width="1.4" height="1.4" class="r"/>
<rect x="151.54" y="408.61" width="1.4" height="1.4" class="r"/>
<rect x="151.54" y="405.91" width="1.4" height="1.4" class="r"/>
<rect x="151.54" y="403.97" width="1.4" height="1.4" class="r"/>
<rect x="151.54" y="410.18" width="1.4" height="1.4" class="r"/>
<rect x="151.54" y="406.53" width="1.4" height="1.4" class="r"/>
<rect x="151.54" y="419.2" width="1.4" height="1.4" class="r"/>
<rect x="151.54" y="407.05" width="1.4" height="1.4" class="r"/>
<rect x="151.54" y="411.31" width="1.4" height="1.4" class="r"/>
<rect x="151.54" y="422.28" width="1.4" height="1.4" class="r"/>
<rect x="151.54" y="392.31" width="1.4" height="1.4" class="r"/>
<rect x="151.54" y="402.47" width="1.4" height="1.4" class="r"/>
<rect x="151.54" y="399.41" width="1.4" height="1.4" class="r"/>
<rect x="156.46" y="406.04" width="1.4" height="1.4" class="r"/>
<rect x="156.46" y="415.78" width="1.4" height="1.4" class="r"/>
<rect x="156.46" y="416.82" width="1.4" height="1.4" class="r"/>
<rect x="156.46" y="415.65" width="1.4" height="1.4" class="r"/>
<rect x="156.46" y="409.57" width="1.4" height="1.4" class="r"/>
<rect x="156.46" y="407.28" width="1.4" height="1.4" class="r"/>
<rect x="156.46" y="413.26" width="1.4" height="1.4" class="r"/>
<rect x="156.46" y="413.7" width="1.4" height="1.4" class="r"/>
<rect x="156.46" y="413.21" width="1.4" height="1.4" class="r"/>
<rect x="156.46" y="413.98" width="1.4" height="1.4" class="r"/>
<rect x="156.46" y="412.85" width="1.4" height="1.4" class="r"/>
<rect x="156.46" y="421.19" width="1.4" height="1.4" class="r"/>
<rect x="156.46" y="398.38" width="1.4" height="1.4" class="r"/>
<rect x="156.46" y="394.49" width="1.4" height="1.4" class="r"/>
<rect x="156.46" y="401.32" width="1.4" height="1.4" class="r"/>
<rect x="161.38" y="407.24" width="1.4" height="1.4" class="r"/>
<rect x="161.38" y="408.6" width="1.4" height="1.4" class="r"/>
<rect x="161.38" y="411.21" width="1.4" height="1.4" class="r"/>
<rect x="161.38" y="411.76" width="1.4" height="1.4" class="r"/>
<rect x="161.38" y="409.12" width="1.4" height="1.4" class="r"/>
<rect x="161.38" y="404.89" width="1.4" height="1.4" class="r"/>
<rect x="161.38" y="417.32" width="1.4" height="1.4" class="r"/>
<rect x="161.38" y="418.21" width="1.4" height="1.4" class="r"/>
<rect x="161.38" y="407.37" width="1.4" height="1.4" class="r"/>
<rect x="161.38" y="404.57" width="1.4" height="1.4" class="r"/>
<rect x="161.38" y="411.21" width="1.4" height="1.4" class="r"/>
<rect x="161.38" y="420.58" width="1.4" height="1.4" class="r"/>
<rect x="161.38" y="400.07" width="1.4" height="1.4" class="r"/>
<rect x="161.38" y="400.87" width="1.4" height="1.4" class="r"/>
<rect x="161.38" y="396.37" width="1.4" height="1.4" class="r"/>
<rect x="161.38" y="399.52" width="1.4" height="1.4" class="r"/>
<rect x="166.3" y="408.32" width="1.4" height="1.4" class="r"/>
<rect x="166.3" y="403.96" width="1.4" height="1.4" class="r"/>
<rect x="166.3" y="414.89" width="1.4" height="1.4" class="r"/>
<rect x="166.3" y="408.08" width="1.4" height="1.4" class="r"/>
<rect x="166.3" y="412.94" width="1.4" height="1.4" class="r"/>
<rect x="166.3" y="405.62" width="1.4" height="1.4" class="r"/>
<rect x="166.3" y="410.09" width="1.4" height="1.4" class="r"/>
<rect x="166.3" y="415.36" width="1.4" height="1.4" class="r"/>
<rect x="166.3" y="416.19" width="1.4" height="1.4" class="r"/>
<rect x="166.3" y="419.42" width="1.4" height="1.4" class="r"/>
<rect x="166.3" y="411.83" width="1.4" height="1.4" class="r"/>
<rect x="166.3" y="422.1" width="1.4" height="1.4" class="r"/>
<rect x="166.3" y="399.44" width="1.4" height="1.4" class="r"/>
<rect x="166.3" y="394.18" width="1.4" height="1.4" class="r"/>
<rect x="166.3" y="401.51" width="1.4" height="1.4" class="r"/>
<rect x="171.22" y="411.83" width="1.4" height="1.4" class="r"/>
<rect x="171.22" y="409.85" width="1.4" height="1.4" class="r"/>
<rect x="171.22" y="412.02" width="1.4" height="1.4" class="r"/>
<rect x="171.22" y="405.93" width="1.4" height="1.4" class="r"/>
<rect x="171.22" y="406.15" width="1.4" height="1.4" class="r"/>
<rect x="171.22" y="410.54" width="1.4" height="1.4" class="r"/>
<rect x="171.22" y="411.8" width="1.4" height="1.4" class="r"/>
<rect x="171.22" y="407.83" width="1.4" height="1.4" class="r"/>
<rect x="171.22" y="405.57" width="1.4" height="1.4" class="r"/>
<rect x="171.22" y="413.15" width="1.4" height="1.4" class="r"/>
<rect x="171.22" y="407.61" width="1.4" height="1.4" class="r"/>
<rect x="171.22" y="421.28" width="1.4" height="1.4" class="r"/>
<rect x="171.22" y="400.45" width="1.4" height="1.4" class="r"/>
<rect x="171.22" y="394.83" width="1.4" height="1.4" class="r"/>
<rect x="171.22" y="395.33" width="1.4" height="1.4" class="r"/>
<rect x="176.14" y="405.61" width="1.4" height="1.4" class="r"/>
<rect x="176.14" y="415.78" width="1.4" height="1.4" class="r"/>
<rect x="176.14" y="416.65" width="1.4" height="1.4" class="r"/>
<rect x="176.14" y="415.51" width="1.4" height="1.4" class="r"/>
<rect x="176.14" y="416.69" width="1.4" height="1.4" class="r"/>
<rect x="176.14" y="408.09" width="1.4" height="1.4" class="r"/>
<rect x="176.14" y="405.53" width="1.4" height="1.4" class="r"/>
<rect x="176.14" y="404.85" width="1.4" height="1.4" class="r"/>
<rect x="176.14" y="415.57" width="1.4" height="1.4" class="r"/>
<rect x="176.14" y="405.43" width="1.4" height="1.4" class="r"/>
<rect x="176.14" y="414.6" width="1.4" height="1.4" class="r"/>
<rect x="176.14" y="420.55" width="1.4" height="1.4" class="r"/>
<rect x="176.14" y="402.11" width="1.4" height="1.4" class="r"/>
<rect x="176.14" y="393.48" width="1.4" height="1.4" class="r"/>
<rect x="176.14" y="399.79" width="1.4" height="1.4" class="r"/>
<rect x="176.14" y="399.03" width="1.4" height="1.4" class="r"/>
<rect x="181.06" y="408.58" width="1.4" height="1.4" class="r"/>
<rect x="181.06" y="419.69" width="1.4" height="1.4" class="r"/>
<rect x="181.06" y="414.24" width="1.4" height="1.4" class="r"/>
<rect x="181.06" y="412.55" width="1.4" height="1.4" class="r"/>
<rect x="181.06" y="411.73" width="1.4" height="1.4" class="r"/>
<rect x="181.06" y="416.31" width="1.4" height="1.4" class="r"/>
<rect x="181.06" y="410.08" width="1.4" height="1.4" class="r"/>
<rect x="181.06" y="403.93" width="1.4" height="1.4" class="r"/>
<rect x="181.06" y="413.31" width="1.4" height="1.4" class="r"/>
<rect x="181.06" y="410.76" width="1.4" height="1.4" class="r"/>
<rect x="181.06" y="417.82" width="1.4" height="1.4" class="r"/>
<rect x="181.06" y="420.73" width="1.4" height="1.4" class="r"/>
<rect x="181.06" y="392.86" width="1.4" height="1.4" class="r"/>
<rect x="181.06" y="392.61" width="1.4" height="1.4" class="r"/>
<rect x="181.06" y="402.06" width="1.4" height="1.4" class="r"/>
<rect x="181.06" y="392.23" width="1.4" height="1.4" class="r"/>
<rect x="97.42" y="281.6" width="1.4" height="1.4" class="r"/>
<rect x="102.34" y="290.92" width="1.4" height="1.4" class="r"/>
<rect x="107.26" y="289.42" width="1.4" height="1.4" class="r"/>
<rect x="122.02" y="282.9" width="1.4" height="1.4" class="r"/>
<rect x="126.94" y="286.61" width="1.4" height="1.4" class="r"/>
<rect x="131.86" y="291.19" width="1.4" height="1.4" class="r"/>
<rect x="136.78" y="288.11" width="1.4" height="1.4" class="r"/>
<rect x="141.7" y="282.9" width="1.4" height="1.4" class="r"/>
<rect x="146.62" y="280.1" width="1.4" height="1.4" class="r"/>
<rect x="151.54" y="277.01" width="1.4" height="1.4" class="r"/>
<rect x="156.46" y="287.92" width="1.4" height="1.4" class="r"/>
<rect x="161.38" y="288.79" width="1.4" height="1.4" class="r"/>
<rect x="97.42" y="308.17" width="1.4" height="1.4" class="r"/>
<rect x="112.18" y="312.88" width="1.4" height="1.4" class="r"/>
<rect x="92.5" y="322.02" width="1.4" height="1.4" class="r"/>
<rect x="87.58" y="326.73" width="1.4" height="1.4" class="r"/>
<rect x="117.1" y="325.9" width="1.4" height="1.4" class="r"/>
<rect x="122.02" y="329.22" width="1.4" height="1.4" class="r"/>
<rect x="166.3" y="300.69" width="1.4" height="1.4" class="r"/>
<rect x="171.22" y="301.8" width="1.4" height="1.4" class="r"/>
<rect x="181.06" y="307.9" width="1.4" height="1.4" class="r"/>
<rect x="176.14" y="318.42" width="1.4" height="1.4" class="r"/>
<rect x="102.34" y="335.04" width="1.4" height="1.4" class="r"/>
<rect x="107.26" y="342.24" width="1.4" height="1.4" class="r"/>
<rect x="112.18" y="341.41" width="1.4" height="1.4" class="r"/>
<rect x="117.1" y="348.34" width="1.4" height="1.4" class="r"/>
<rect x="97.42" y="352.22" width="1.4" height="1.4" class="r"/>
<rect x="67.9" y="358.03" width="1.4" height="1.4" class="r"/>
<rect x="72.82" y="358.86" width="1.4" height="1.4" class="r"/>
<rect x="77.74" y="355.26" width="1.4" height="1.4" class="r"/>
<rect x="82.66" y="356.09" width="1.4" height="1.4" class="r"/>
<rect x="82.66" y="366.34" width="1.4" height="1.4" class="r"/>
<rect x="92.5" y="359.97" width="1.4" height="1.4" class="r"/>
<rect x="122.02" y="359.69" width="1.4" height="1.4" class="r"/>
<rect x="131.86" y="362.19" width="1.4" height="1.4" class="r"/>
<rect x="141.7" y="361.91" width="1.4" height="1.4" class="r"/>
<rect x="141.7" y="364.13" width="1.4" height="1.4" class="r"/>
<rect x="141.7" y="365.51" width="1.4" height="1.4" class="r"/>
<rect x="151.54" y="357.2" width="1.4" height="1.4" class="r"/>
<rect x="156.46" y="353.6" width="1.4" height="1.4" class="r"/>
<rect x="156.46" y="367.17" width="1.4" height="1.4" class="r"/>
<rect x="67.9" y="373.27" width="1.4" height="1.4" class="r"/>
<rect x="72.82" y="374.51" width="1.4" height="1.4" class="r"/>
<rect x="77.74" y="371.05" width="1.4" height="1.4" class="r"/>
<rect x="82.66" y="374.1" width="1.4" height="1.4" class="r"/>
<rect x="87.58" y="372.71" width="1.4" height="1.4" class="r"/>
<rect x="92.5" y="370.77" width="1.4" height="1.4" class="r"/>
<rect x="107.26" y="371.05" width="1.4" height="1.4" class="r"/>
<rect x="112.18" y="373.27" width="1.4" height="1.4" class="r"/>
<rect x="112.18" y="374.65" width="1.4" height="1.4" class="r"/>
<rect x="126.94" y="369.11" width="1.4" height="1.4" class="r"/>
<rect x="126.94" y="370.77" width="1.4" height="1.4" class="r"/>
<rect x="126.94" y="376.87" width="1.4" height="1.4" class="r"/>
<rect x="136.78" y="370.5" width="1.4" height="1.4" class="r"/>
<rect x="136.78" y="372.16" width="1.4" height="1.4" class="r"/>
<rect x="146.62" y="371.88" width="1.4" height="1.4" class="r"/>
<rect x="151.54" y="378.81" width="1.4" height="1.4" class="r"/>
<rect x="67.9" y="381.3" width="1.4" height="1.4" class="r"/>
<rect x="77.74" y="381.02" width="1.4" height="1.4" class="r"/>
<rect x="77.74" y="382.96" width="1.4" height="1.4" class="r"/>
<rect x="92.5" y="383.24" width="1.4" height="1.4" class="r"/>
<rect x="92.5" y="386.56" width="1.4" height="1.4" class="r"/>
<rect x="107.26" y="384.07" width="1.4" height="1.4" class="r"/>
<rect x="122.02" y="382.96" width="1.4" height="1.4" class="r"/>
<rect x="126.94" y="384.62" width="1.4" height="1.4" class="r"/>
<rect x="126.94" y="387.39" width="1.4" height="1.4" class="r"/>
<rect x="126.94" y="388.78" width="1.4" height="1.4" class="r"/>
<rect x="131.86" y="383.79" width="1.4" height="1.4" class="r"/>
<rect x="131.86" y="387.39" width="1.4" height="1.4" class="r"/>
<rect x="131.86" y="390.16" width="1.4" height="1.4" class="r"/>
<rect x="136.78" y="383.24" width="1.4" height="1.4" class="r"/>
<rect x="136.78" y="386.01" width="1.4" height="1.4" class="r"/>
<rect x="136.78" y="389.33" width="1.4" height="1.4" class="r"/>
<rect x="141.7" y="381.85" width="1.4" height="1.4" class="r"/>
<rect x="141.7" y="384.62" width="1.4" height="1.4" class="r"/>
<rect x="141.7" y="388.78" width="1.4" height="1.4" class="r"/>
<rect x="146.62" y="387.39" width="1.4" height="1.4" class="r"/>
<rect x="146.62" y="391.55" width="1.4" height="1.4" class="r"/>
<rect x="151.54" y="390.16" width="1.4" height="1.4" class="r"/>
<rect x="156.46" y="386.01" width="1.4" height="1.4" class="r"/>
<rect x="156.46" y="390.16" width="1.4" height="1.4" class="r"/>
<rect x="161.38" y="340.58" width="1.4" height="1.4" class="r"/>
<rect x="161.38" y="370.5" width="1.4" height="1.4" class="r"/>
<rect x="166.3" y="368.28" width="1.4" height="1.4" class="r"/>
<rect x="161.38" y="378.25" width="1.4" height="1.4" class="r"/>
<rect x="161.38" y="380.19" width="1.4" height="1.4" class="r"/>
<rect x="161.38" y="382.13" width="1.4" height="1.4" class="r"/>
<rect x="171.22" y="380.19" width="1.4" height="1.4" class="r"/>
<rect x="171.22" y="380.75" width="1.4" height="1.4" class="r"/>
<rect x="171.22" y="383.24" width="1.4" height="1.4" class="r"/>
<rect x="176.14" y="376.59" width="1.4" height="1.4" class="r"/>
<rect x="176.14" y="381.02" width="1.4" height="1.4" class="r"/>
<rect x="181.06" y="379.36" width="1.4" height="1.4" class="r"/>
<rect x="156.46" y="384.35" width="1.4" height="1.4" class="r"/>
<rect x="185.98" y="402.64" width="1.4" height="1.4" class="b"/>
<rect x="185.98" y="403.01" width="1.4" height="1.4" class="b"/>
<rect x="185.98" y="414.26" width="1.4" height="1.4" class="b"/>
<rect x="185.98" y="404.99" width="1.4" height="1.4" class="b"/>
<rect x="185.98" y="405.52" width="1.4" height="1.4" class="b"/>
<rect x="185.98" y="401.82" width="1.4" height="1.4" class="b"/>
<rect x="185.98" y="414.99" width="1.4" height="1.4" class="b"/>
<rect x="185.98" y="403.08" width="1.4" height="1.4" class="b"/>
<rect x="185.98" y="398.03" width="1.4" height="1.4" class="b"/>
<rect x="185.98" y="405.07" width="1.4" height="1.4" class="b"/>
<rect x="185.98" y="408.4" width="1.4" height="1.4" class="b"/>
<rect x="185.98" y="418.7" width="1.4" height="1.4" class="b"/>
<rect x="185.98" y="422.72" width="1.4" height="1.4" class="b"/>
<rect x="185.98" y="391.45" width="1.4" height="1.4" class="b"/>
<rect x="190.9" y="417.03" width="1.4" height="1.4" class="b"/>
<rect x="190.9" y="405.73" width="1.4" height="1.4" class="b"/>
<rect x="190.9" y="406.09" width="1.4" height="1.4" class="b"/>
<rect x="190.9" y="417.1" width="1.4" height="1.4" class="b"/>
<rect x="190.9" y="399.77" width="1.4" height="1.4" class="b"/>
<rect x="190.9" y="405.49" width="1.4" height="1.4" class="b"/>
<rect x="190.9" y="418.46" width="1.4" height="1.4" class="b"/>
<rect x="190.9" y="398.75" width="1.4" height="1.4" class="b"/>
<rect x="190.9" y="418.02" width="1.4" height="1.4" class="b"/>
<rect x="190.9" y="413.38" width="1.4" height="1.4" class="b"/>
<rect x="190.9" y="403.9" width="1.4" height="1.4" class="b"/>
<rect x="190.9" y="406.9" width="1.4" height="1.4" class="b"/>
<rect x="190.9" y="422.15" width="1.4" height="1.4" class="b"/>
<rect x="190.9" y="394.49" width="1.4" height="1.4" class="b"/>
<rect x="195.82" y="419.79" width="1.4" height="1.4" class="b"/>
<rect x="195.82" y="404.02" width="1.4" height="1.4" class="b"/>
<rect x="195.82" y="403.07" width="1.4" height="1.4" class="b"/>
<rect x="195.82" y="408.23" width="1.4" height="1.4" class="b"/>
<rect x="195.82" y="403.44" width="1.4" height="1.4" class="b"/>
<rect x="195.82" y="412.71" width="1.4" height="1.4" class="b"/>
<rect x="195.82" y="414.99" width="1.4" height="1.4" class="b"/>
<rect x="195.82" y="412.12" width="1.4" height="1.4" class="b"/>
<rect x="195.82" y="400.2" width="1.4" height="1.4" class="b"/>
<rect x="195.82" y="420.44" width="1.4" height="1.4" class="b"/>
<rect x="195.82" y="409.16" width="1.4" height="1.4" class="b"/>
<rect x="195.82" y="415.44" width="1.4" height="1.4" class="b"/>
<rect x="195.82" y="422.72" width="1.4" height="1.4" class="b"/>
<rect x="195.82" y="393.74" width="1.4" height="1.4" class="b"/>
<rect x="200.74" y="402.65" width="1.4" height="1.4" class="b"/>
<rect x="200.74" y="412.86" width="1.4" height="1.4" class="b"/>
<rect x="200.74" y="400.82" width="1.4" height="1.4" class="b"/>
<rect x="200.74" y="418.73" width="1.4" height="1.4" class="b"/>
<rect x="200.74" y="414.87" width="1.4" height="1.4" class="b"/>
<rect x="200.74" y="419.04" width="1.4" height="1.4" class="b"/>
<rect x="200.74" y="418.72" width="1.4" height="1.4" class="b"/>
<rect x="200.74" y="402.48" width="1.4" height="1.4" class="b"/>
<rect x="200.74" y="403.74" width="1.4" height="1.4" class="b"/>
<rect x="200.74" y="416.96" width="1.4" height="1.4" class="b"/>
<rect x="200.74" y="416.85" width="1.4" height="1.4" class="b"/>
<rect x="200.74" y="411.31" width="1.4" height="1.4" class="b"/>
<rect x="200.74" y="421.82" width="1.4" height="1.4" class="b"/>
<rect x="200.74" y="392.17" width="1.4" height="1.4" class="b"/>
<rect x="205.66" y="411.75" width="1.4" height="1.4" class="b"/>
<rect x="205.66" y="416.75" width="1.4" height="1.4" class="b"/>
<rect x="205.66" y="408.61" width="1.4" height="1.4" class="b"/>
<rect x="205.66" y="407.61" width="1.4" height="1.4" class="b"/>
<rect x="205.66" y="416.54" width="1.4" height="1.4" class="b"/>
<rect x="205.66" y="415.37" width="1.4" height="1.4" class="b"/>
<rect x="205.66" y="402.41" width="1.4" height="1.4" class="b"/>
<rect x="205.66" y="420.73" width="1.4" height="1.4" class="b"/>
<rect x="205.66" y="401.89" width="1.4" height="1.4" class="b"/>
<rect x="205.66" y="399.74" width="1.4" height="1.4" class="b"/>
<rect x="205.66" y="398.33" width="1.4" height="1.4" class="b"/>
<rect x="205.66" y="412.13" width="1.4" height="1.4" class="b"/>
<rect x="205.66" y="422.27" width="1.4" height="1.4" class="b"/>
<rect x="205.66" y="388.97" width="1.4" height="1.4" class="b"/>
<rect x="210.58" y="414.17" width="1.4" height="1.4" class="b"/>
<rect x="210.58" y="400.5" width="1.4" height="1.4" class="b"/>
<rect x="210.58" y="409.67" width="1.4" height="1.4" class="b"/>
<rect x="210.58" y="406.81" width="1.4" height="1.4" class="b"/>
<rect x="210.58" y="403.75" width="1.4" height="1.4" class="b"/>
<rect x="210.58" y="421.41" width="1.4" height="1.4" class="b"/>
<rect x="210.58" y="402.69" width="1.4" height="1.4" class="b"/>
<rect x="210.58" y="405.33" width="1.4" height="1.4" class="b"/>
<rect x="210.58" y="409.48" width="1.4" height="1.4" class="b"/>
<rect x="210.58" y="408.7" width="1.4" height="1.4" class="b"/>
<rect x="210.58" y="410.24" width="1.4" height="1.4" class="b"/>
<rect x="210.58" y="416.75" width="1.4" height="1.4" class="b"/>
<rect x="210.58" y="423.33" width="1.4" height="1.4" class="b"/>
<rect x="210.58" y="391.72" width="1.4" height="1.4" class="b"/>
<rect x="215.5" y="407.67" width="1.4" height="1.4" class="b"/>
<rect x="215.5" y="398.09" width="1.4" height="1.4" class="b"/>
<rect x="215.5" y="399.72" width="1.4" height="1.4" class="b"/>
<rect x="215.5" y="418.16" width="1.4" height="1.4" class="b"/>
<rect x="215.5" y="402.15" width="1.4" height="1.4" class="b"/>
<rect x="215.5" y="406.27" width="1.4" height="1.4" class="b"/>
<rect x="215.5" y="420.23" width="1.4" height="1.4" class="b"/>
<rect x="215.5" y="412.69" width="1.4" height="1.4" class="b"/>
<rect x="215.5" y="415.78" width="1.4" height="1.4" class="b"/>
<rect x="215.5" y="419.57" width="1.4" height="1.4" class="b"/>
<rect x="215.5" y="408.33" width="1.4" height="1.4" class="b"/>
<rect x="215.5" y="398.8" width="1.4" height="1.4" class="b"/>
<rect x="215.5" y="421.72" width="1.4" height="1.4" class="b"/>
<rect x="215.5" y="395.97" width="1.4" height="1.4" class="b"/>
<rect x="220.42" y="406.81" width="1.4" height="1.4" class="b"/>
<rect x="220.42" y="398.87" width="1.4" height="1.4" class="b"/>
<rect x="220.42" y="404.01" width="1.4" height="1.4" class="b"/>
<rect x="220.42" y="403.43" width="1.4" height="1.4" class="b"/>
<rect x="220.42" y="413.09" width="1.4" height="1.4" class="b"/>
<rect x="220.42" y="401.8" width="1.4" height="1.4" class="b"/>
<rect x="220.42" y="398.75" width="1.4" height="1.4" class="b"/>
<rect x="220.42" y="400.47" width="1.4" height="1.4" class="b"/>
<rect x="220.42" y="410.81" width="1.4" height="1.4" class="b"/>
<rect x="220.42" y="403.02" width="1.4" height="1.4" class="b"/>
<rect x="220.42" y="409.64" width="1.4" height="1.4" class="b"/>
<rect x="220.42" y="418.81" width="1.4" height="1.4" class="b"/>
<rect x="220.42" y="423.25" width="1.4" height="1.4" class="b"/>
<rect x="220.42" y="395.75" width="1.4" height="1.4" class="b"/>
<rect x="225.34" y="404.42" width="1.4" height="1.4" class="b"/>
<rect x="225.34" y="408.37" width="1.4" height="1.4" class="b"/>
<rect x="225.34" y="411.18" width="1.4" height="1.4" class="b"/>
<rect x="225.34" y="405.64" width="1.4" height="1.4" class="b"/>
<rect x="225.34" y="414.04" width="1.4" height="1.4" class="b"/>
<rect x="225.34" y="410.15" width="1.4" height="1.4" class="b"/>
<rect x="225.34" y="403.01" width="1.4" height="1.4" class="b"/>
<rect x="225.34" y="411.68" width="1.4" height="1.4" class="b"/>
<rect x="225.34" y="417.06" width="1.4" height="1.4" class="b"/>
<rect x="225.34" y="399.54" width="1.4" height="1.4" class="b"/>
<rect x="225.34" y="403.92" width="1.4" height="1.4" class="b"/>
<rect x="225.34" y="412.52" width="1.4" height="1.4" class="b"/>
<rect x="225.34" y="422.38" width="1.4" height="1.4" class="b"/>
<rect x="225.34" y="395.23" width="1.4" height="1.4" class="b"/>
<rect x="230.26" y="416.37" width="1.4" height="1.4" class="b"/>
<rect x="230.26" y="402.38" width="1.4" height="1.4" class="b"/>
<rect x="230.26" y="417.97" width="1.4" height="1.4" class="b"/>
<rect x="230.26" y="410.25" width="1.4" height="1.4" class="b"/>
<rect x="230.26" y="416.71" width="1.4" height="1.4" class="b"/>
<rect x="230.26" y="416.36" width="1.4" height="1.4" class="b"/>
<rect x="230.26" y="417.3" width="1.4" height="1.4" class="b"/>
<rect x="230.26" y="411.62" width="1.4" height="1.4" class="b"/>
<rect x="230.26" y="417.36" width="1.4" height="1.4" class="b"/>
<rect x="230.26" y="420.8" width="1.4" height="1.4" class="b"/>
<rect x="230.26" y="418.78" width="1.4" height="1.4" class="b"/>
<rect x="230.26" y="417.37" width="1.4" height="1.4" class="b"/>
<rect x="230.26" y="423.29" width="1.4" height="1.4" class="b"/>
<rect x="230.26" y="393.37" width="1.4" height="1.4" class="b"/>
<rect x="230.26" y="393.7" width="1.4" height="1.4" class="b"/>
<rect x="235.18" y="420.22" width="1.4" height="1.4" class="b"/>
<rect x="235.18" y="411.64" width="1.4" height="1.4" class="b"/>
<rect x="235.18" y="411.8" width="1.4" height="1.4" class="b"/>
<rect x="235.18" y="420.82" width="1.4" height="1.4" class="b"/>
<rect x="235.18" y="397.93" width="1.4" height="1.4" class="b"/>
<rect x="235.18" y="416.13" width="1.4" height="1.4" class="b"/>
<rect x="235.18" y="419.17" width="1.4" height="1.4" class="b"/>
<rect x="235.18" y="409.9" width="1.4" height="1.4" class="b"/>
<rect x="235.18" y="417.45" width="1.4" height="1.4" class="b"/>
<rect x="235.18" y="406.29" width="1.4" height="1.4" class="b"/>
<rect x="235.18" y="413.02" width="1.4" height="1.4" class="b"/>
<rect x="235.18" y="418.44" width="1.4" height="1.4" class="b"/>
<rect x="235.18" y="421.99" width="1.4" height="1.4" class="b"/>
<rect x="235.18" y="390.54" width="1.4" height="1.4" class="b"/>
<rect x="240.1" y="398.73" width="1.4" height="1.4" class="b"/>
<rect x="240.1" y="414.14" width="1.4" height="1.4" class="b"/>
<rect x="240.1" y="415.37" width="1.4" height="1.4" class="b"/>
<rect x="240.1" y="414.99" width="1.4" height="1.4" class="b"/>
<rect x="240.1" y="401.61" width="1.4" height="1.4" class="b"/>
<rect x="240.1" y="406.13" width="1.4" height="1.4" class="b"/>
<rect x="240.1" y="413.06" width="1.4" height="1.4" class="b"/>
<rect x="240.1" y="419.18" width="1.4" height="1.4" class="b"/>
<rect x="240.1" y="404.83" width="1.4" height="1.4" class="b"/>
<rect x="240.1" y="397.84" width="1.4" height="1.4" class="b"/>
<rect x="240.1" y="407.03" width="1.4" height="1.4" class="b"/>
<rect x="240.1" y="421.38" width="1.4" height="1.4" class="b"/>
<rect x="240.1" y="423.23" width="1.4" height="1.4" class="b"/>
<rect x="240.1" y="396.79" width="1.4" height="1.4" class="b"/>
<rect x="240.1" y="396.64" width="1.4" height="1.4" class="b"/>
<rect x="245.02" y="399.52" width="1.4" height="1.4" class="b"/>
<rect x="245.02" y="416.57" width="1.4" height="1.4" class="b"/>
<rect x="245.02" y="397.73" width="1.4" height="1.4" class="b"/>
<rect x="245.02" y="409.84" width="1.4" height="1.4" class="b"/>
<rect x="245.02" y="401.88" width="1.4" height="1.4" class="b"/>
<rect x="245.02" y="399.1" width="1.4" height="1.4" class="b"/>
<rect x="245.02" y="398.55" width="1.4" height="1.4" class="b"/>
<rect x="245.02" y="420.63" width="1.4" height="1.4" class="b"/>
<rect x="245.02" y="414.04" width="1.4" height="1.4" class="b"/>
<rect x="245.02" y="406.67" width="1.4" height="1.4" class="b"/>
<rect x="245.02" y="398.39" width="1.4" height="1.4" class="b"/>
<rect x="245.02" y="419.33" width="1.4" height="1.4" class="b"/>
<rect x="245.02" y="421.76" width="1.4" height="1.4" class="b"/>
<rect x="245.02" y="393.85" width="1.4" height="1.4" class="b"/>
<rect x="245.02" y="394.31" width="1.4" height="1.4" class="b"/>
<rect x="185.98" y="300.97" width="1.4" height="1.4" class="b"/>
<rect x="235.18" y="290.29" width="1.4" height="1.4" class="b"/>
<rect x="230.26" y="305.96" width="1.4" height="1.4" class="b"/>
<rect x="210.58" y="313.44" width="1.4" height="1.4" class="b"/>
<rect x="230.26" y="323.13" width="1.4" height="1.4" class="b"/>
<rect x="220.42" y="327.56" width="1.4" height="1.4" class="b"/>
<rect x="190.9" y="335.04" width="1.4" height="1.4" class="b"/>
<rect x="210.58" y="343.35" width="1.4" height="1.4" class="b"/>
<rect x="205.66" y="346.68" width="1.4" height="1.4" class="b"/>
<rect x="200.74" y="349.72" width="1.4" height="1.4" class="b"/>
<rect x="220.42" y="345.84" width="1.4" height="1.4" class="b"/>
<rect x="225.34" y="353.6" width="1.4" height="1.4" class="b"/>
<rect x="185.98" y="357.2" width="1.4" height="1.4" class="b"/>
<rect x="195.82" y="357.76" width="1.4" height="1.4" class="b"/>
<rect x="215.5" y="357.76" width="1.4" height="1.4" class="b"/>
<rect x="215.5" y="362.74" width="1.4" height="1.4" class="b"/>
<rect x="225.34" y="357.76" width="1.4" height="1.4" class="b"/>
<rect x="230.26" y="362.19" width="1.4" height="1.4" class="b"/>
<rect x="195.82" y="368.84" width="1.4" height="1.4" class="b"/>
<rect x="225.34" y="371.88" width="1.4" height="1.4" class="b"/>
<rect x="225.34" y="374.65" width="1.4" height="1.4" class="b"/>
<rect x="230.26" y="379.92" width="1.4" height="1.4" class="b"/>
<rect x="190.9" y="380.19" width="1.4" height="1.4" class="b"/>
<rect x="190.9" y="384.07" width="1.4" height="1.4" class="b"/>
<rect x="205.66" y="382.13" width="1.4" height="1.4" class="b"/>
<rect x="210.58" y="385.73" width="1.4" height="1.4" class="b"/>
<rect x="215.5" y="382.13" width="1.4" height="1.4" class="b"/>
<rect x="220.42" y="389.06" width="1.4" height="1.4" class="b"/>
<rect x="225.34" y="392.1" width="1.4" height="1.4" class="b"/>
<rect x="235.18" y="392.1" width="1.4" height="1.4" class="b"/>
<rect x="245.02" y="392.93" width="1.4" height="1.4" class="b"/>
<rect x="245.02" y="395.15" width="1.4" height="1.4" class="b"/>
<rect x="200.74" y="425.34" width="1.4" height="1.4" class="b"/>
<rect x="215.5" y="424.79" width="1.4" height="1.4" class="b"/>
<rect x="235.18" y="424.24" width="1.4" height="1.4" class="b"/>
<path d="M68.6,395.02 L73.31,395.1 L78.03,395.15 L82.74,395.18 L87.46,395.17 L92.17,395.15 L96.89,395.09 L101.61,395.01 L106.32,394.9 L111.03,394.76 L115.75,394.6 L120.46,394.41 L125.18,394.19 L129.89,393.94 L134.61,393.67 L139.32,393.38 L144.04,393.05 L148.75,392.7 L153.47,392.32 L158.19,391.91 L162.9,391.48 L167.62,391.02 L172.33,390.53 L177.05,390.02 L181.76,389.48 L181.76,400.01 L177.05,399.93 L172.33,399.88 L167.62,399.85 L162.9,399.85 L158.19,399.88 L153.47,399.94 L148.75,400.02 L144.04,400.13 L139.32,400.27 L134.61,400.43 L129.89,400.62 L125.18,400.84 L120.46,401.08 L115.75,401.35 L111.03,401.65 L106.32,401.98 L101.61,402.33 L96.89,402.71 L92.17,403.11 L87.46,403.55 L82.74,404.01 L78.03,404.49 L73.31,405.01 L68.6,405.55 Z" class="band"/>
<path d="M186.68,399.31 L189.14,399.64 L191.6,399.95 L194.06,400.24 L196.52,400.5 L198.98,400.74 L201.44,400.96 L203.9,401.15 L206.36,401.33 L208.82,401.48 L211.28,401.61 L213.74,401.72 L216.2,401.81 L218.66,401.87 L221.12,401.91 L223.58,401.93 L226.04,401.93 L228.5,401.91 L230.96,401.86 L233.42,401.79 L235.88,401.7 L238.34,401.59 L240.8,401.45 L243.26,401.29 L245.72,401.11 L245.72,409.98 L243.26,409.59 L240.8,409.23 L238.34,408.88 L235.88,408.56 L233.42,408.26 L230.96,407.99 L228.5,407.73 L226.04,407.5 L223.58,407.29 L221.12,407.1 L218.66,406.94 L216.2,406.79 L213.74,406.67 L211.28,406.57 L208.82,406.49 L206.36,406.44 L203.9,406.41 L201.44,406.39 L198.98,406.41 L196.52,406.44 L194.06,406.49 L191.6,406.57 L189.14,406.67 L186.68,406.79 Z" class="band"/>
<line x1="68.6" y1="400.28" x2="181.76" y2="394.74" class="rl"/>
<line x1="186.68" y1="403.05" x2="245.72" y2="405.55" class="rl"/>
<line x1="65.75" y1="260.3" x2="65.75" y2="292" class="ax"/>
<line x1="65.75" y1="294.1" x2="65.75" y2="434.35" class="ax"/>
<line x1="61.45" y1="434.1" x2="249.2" y2="434.1" class="ax"/>
<text x="57.35" y="436.5" class="yl">0</text>
<line x1="61.45" y1="406.1" x2="65.75" y2="406.1" class="tk"/>
<text x="57.35" y="408.8" class="yl">100</text>
<line x1="61.45" y1="378.4" x2="65.75" y2="378.4" class="tk"/>
<text x="57.35" y="381.1" class="yl">200</text>
<line x1="61.45" y1="350.7" x2="65.75" y2="350.7" class="tk"/>
<text x="57.35" y="353.4" class="yl">300</text>
<line x1="61.45" y1="323" x2="65.75" y2="323" class="tk"/>
<text x="57.35" y="325.7" class="yl">400</text>
<line x1="61.45" y1="295.3" x2="65.75" y2="295.3" class="tk"/>
<text x="57.35" y="298" class="yl">500</text>
<line x1="61.45" y1="288.3" x2="65.75" y2="288.3" class="tk"/>
<text x="57.35" y="291" class="yl">600</text>
<line x1="61.45" y1="276.45" x2="65.75" y2="276.45" class="tk"/>
<text x="57.35" y="279.15" class="yl">900</text>
<line x1="61.45" y1="264.6" x2="65.75" y2="264.6" class="tk"/>
<text x="57.35" y="267.3" class="yl">1200</text>
<line x1="61.45" y1="282.38" x2="65.75" y2="282.38" class="tk"/>
<line x1="61.45" y1="270.53" x2="65.75" y2="270.53" class="tk"/>
<line x1="68.6" y1="433.8" x2="68.6" y2="438.3" class="tk"/>
<text x="68.6" y="449.2" class="xl">−24</text>
<line x1="98.12" y1="433.8" x2="98.12" y2="438.3" class="tk"/>
<text x="98.12" y="449.2" class="xl">−18</text>
<line x1="127.64" y1="433.8" x2="127.64" y2="438.3" class="tk"/>
<text x="127.64" y="449.2" class="xl">−12</text>
<line x1="157.16" y1="433.8" x2="157.16" y2="438.3" class="tk"/>
<text x="157.16" y="449.2" class="xl">−6</text>
<line x1="186.68" y1="433.8" x2="186.68" y2="438.3" class="tk"/>
<text x="186.68" y="449.2" class="xl">0</text>
<line x1="216.2" y1="433.8" x2="216.2" y2="438.3" class="tk"/>
<text x="216.2" y="449.2" class="xl">6</text>
<line x1="245.72" y1="433.8" x2="245.72" y2="438.3" class="tk"/>
<text x="245.72" y="449.2" class="xl">12</text>
<text x="8.3" y="252.3" class="let">C</text>
<text transform="translate(32,349.2) rotate(-90) scale(0.65,1)" class="yt">ALP</text>
<rect x="341.42" y="420.97" width="1.4" height="1.4" class="r"/>
<rect x="337.22" y="420.88" width="1.4" height="1.4" class="r"/>
<rect x="376.71" y="405.62" width="1.4" height="1.4" class="r"/>
<rect x="340.69" y="422.95" width="1.4" height="1.4" class="r"/>
<rect x="338.14" y="423.99" width="1.4" height="1.4" class="r"/>
<rect x="377.21" y="405.33" width="1.4" height="1.4" class="r"/>
<rect x="370.63" y="422.4" width="1.4" height="1.4" class="r"/>
<rect x="361.65" y="413.34" width="1.4" height="1.4" class="r"/>
<rect x="374.75" y="417.48" width="1.4" height="1.4" class="r"/>
<rect x="363.97" y="424.6" width="1.4" height="1.4" class="r"/>
<rect x="353.71" y="412.01" width="1.4" height="1.4" class="r"/>
<rect x="374" y="422.56" width="1.4" height="1.4" class="r"/>
<rect x="376.24" y="412.88" width="1.4" height="1.4" class="r"/>
<rect x="373.1" y="420.67" width="1.4" height="1.4" class="r"/>
<rect x="360.2" y="424.87" width="1.4" height="1.4" class="r"/>
<rect x="344.99" y="410.62" width="1.4" height="1.4" class="r"/>
<rect x="331.6" y="422.89" width="1.4" height="1.4" class="r"/>
<rect x="356.87" y="421.85" width="1.4" height="1.4" class="r"/>
<rect x="380.82" y="420.69" width="1.4" height="1.4" class="r"/>
<rect x="339.69" y="422.96" width="1.4" height="1.4" class="r"/>
<rect x="347.62" y="422.22" width="1.4" height="1.4" class="r"/>
<rect x="358.11" y="410.22" width="1.4" height="1.4" class="r"/>
<rect x="332.39" y="414.83" width="1.4" height="1.4" class="r"/>
<rect x="361.06" y="422.05" width="1.4" height="1.4" class="r"/>
<rect x="338.39" y="426.84" width="1.4" height="1.4" class="r"/>
<rect x="365.29" y="404.31" width="1.4" height="1.4" class="r"/>
<rect x="367.24" y="410.8" width="1.4" height="1.4" class="r"/>
<rect x="344.16" y="405.55" width="1.4" height="1.4" class="r"/>
<rect x="350.44" y="406.62" width="1.4" height="1.4" class="r"/>
<rect x="371.54" y="424.37" width="1.4" height="1.4" class="r"/>
<rect x="352.19" y="421.21" width="1.4" height="1.4" class="r"/>
<rect x="378.98" y="427.4" width="1.4" height="1.4" class="r"/>
<rect x="331.52" y="414.52" width="1.4" height="1.4" class="r"/>
<rect x="347.97" y="425.94" width="1.4" height="1.4" class="r"/>
<rect x="380.02" y="424.1" width="1.4" height="1.4" class="r"/>
<rect x="332.27" y="424.75" width="1.4" height="1.4" class="r"/>
<rect x="364.23" y="426.88" width="1.4" height="1.4" class="r"/>
<rect x="354.6" y="410.96" width="1.4" height="1.4" class="r"/>
<rect x="335.53" y="414.69" width="1.4" height="1.4" class="r"/>
<rect x="350.39" y="429" width="1.4" height="1.4" class="r"/>
<rect x="341.72" y="426.94" width="1.4" height="1.4" class="r"/>
<rect x="351" y="412.77" width="1.4" height="1.4" class="r"/>
<rect x="372.22" y="427.03" width="1.4" height="1.4" class="r"/>
<rect x="342.37" y="424.1" width="1.4" height="1.4" class="r"/>
<rect x="341.18" y="409.94" width="1.4" height="1.4" class="r"/>
<rect x="331.85" y="407.01" width="1.4" height="1.4" class="r"/>
<rect x="380.47" y="412.57" width="1.4" height="1.4" class="r"/>
<rect x="363.05" y="405.76" width="1.4" height="1.4" class="r"/>
<rect x="354.78" y="424.05" width="1.4" height="1.4" class="r"/>
<rect x="374.43" y="404.52" width="1.4" height="1.4" class="r"/>
<rect x="346.62" y="414.26" width="1.4" height="1.4" class="r"/>
<rect x="362.46" y="407.26" width="1.4" height="1.4" class="r"/>
<rect x="363.09" y="423.09" width="1.4" height="1.4" class="r"/>
<rect x="376.96" y="410.41" width="1.4" height="1.4" class="r"/>
<rect x="379.46" y="406.29" width="1.4" height="1.4" class="r"/>
<rect x="331.51" y="410.04" width="1.4" height="1.4" class="r"/>
<rect x="379.33" y="426.55" width="1.4" height="1.4" class="r"/>
<rect x="337.86" y="418.09" width="1.4" height="1.4" class="r"/>
<rect x="367.84" y="409.41" width="1.4" height="1.4" class="r"/>
<rect x="329.37" y="410.83" width="1.4" height="1.4" class="r"/>
<rect x="374.56" y="414.09" width="1.4" height="1.4" class="r"/>
<rect x="369.73" y="407.11" width="1.4" height="1.4" class="r"/>
<rect x="374.68" y="416.39" width="1.4" height="1.4" class="r"/>
<rect x="346.31" y="405.56" width="1.4" height="1.4" class="r"/>
<rect x="353.61" y="427.12" width="1.4" height="1.4" class="r"/>
<rect x="330.97" y="419.43" width="1.4" height="1.4" class="r"/>
<rect x="373.96" y="425.25" width="1.4" height="1.4" class="r"/>
<rect x="347.97" y="407.3" width="1.4" height="1.4" class="r"/>
<rect x="329.75" y="405.19" width="1.4" height="1.4" class="r"/>
<rect x="333.61" y="421.22" width="1.4" height="1.4" class="r"/>
<rect x="369.96" y="423.67" width="1.4" height="1.4" class="r"/>
<rect x="354.39" y="410.26" width="1.4" height="1.4" class="r"/>
<rect x="335.12" y="412.83" width="1.4" height="1.4" class="r"/>
<rect x="355.73" y="413.29" width="1.4" height="1.4" class="r"/>
<rect x="369.4" y="412.9" width="1.4" height="1.4" class="r"/>
<rect x="339.34" y="413.64" width="1.4" height="1.4" class="r"/>
<rect x="351.07" y="409.76" width="1.4" height="1.4" class="r"/>
<rect x="374.45" y="425.07" width="1.4" height="1.4" class="r"/>
<rect x="354.78" y="418.54" width="1.4" height="1.4" class="r"/>
<rect x="376" y="427.46" width="1.4" height="1.4" class="r"/>
<rect x="345.34" y="419.46" width="1.4" height="1.4" class="r"/>
<rect x="366.24" y="426.3" width="1.4" height="1.4" class="r"/>
<rect x="341.9" y="408.45" width="1.4" height="1.4" class="r"/>
<rect x="368.88" y="428.59" width="1.4" height="1.4" class="r"/>
<rect x="364.23" y="422.35" width="1.4" height="1.4" class="r"/>
<rect x="376.45" y="412.4" width="1.4" height="1.4" class="r"/>
<rect x="345.02" y="405.47" width="1.4" height="1.4" class="r"/>
<rect x="360.93" y="425.22" width="1.4" height="1.4" class="r"/>
<rect x="369.11" y="416.54" width="1.4" height="1.4" class="r"/>
<rect x="336.1" y="425.16" width="1.4" height="1.4" class="r"/>
<rect x="371.08" y="412.56" width="1.4" height="1.4" class="r"/>
<rect x="348.45" y="421.73" width="1.4" height="1.4" class="r"/>
<rect x="361.33" y="420.86" width="1.4" height="1.4" class="r"/>
<rect x="377.66" y="416.67" width="1.4" height="1.4" class="r"/>
<rect x="346.11" y="427.17" width="1.4" height="1.4" class="r"/>
<rect x="330.24" y="405.17" width="1.4" height="1.4" class="r"/>
<rect x="370.67" y="404.32" width="1.4" height="1.4" class="r"/>
<rect x="337.4" y="419.32" width="1.4" height="1.4" class="r"/>
<rect x="358.9" y="405.66" width="1.4" height="1.4" class="r"/>
<rect x="379.33" y="416.72" width="1.4" height="1.4" class="r"/>
<rect x="364.16" y="417.28" width="1.4" height="1.4" class="r"/>
<rect x="372.23" y="412.12" width="1.4" height="1.4" class="r"/>
<rect x="350.22" y="412.64" width="1.4" height="1.4" class="r"/>
<rect x="365.62" y="423.72" width="1.4" height="1.4" class="r"/>
<rect x="346.11" y="410.98" width="1.4" height="1.4" class="r"/>
<rect x="375.73" y="420.89" width="1.4" height="1.4" class="r"/>
<rect x="371.51" y="420.71" width="1.4" height="1.4" class="r"/>
<rect x="329.88" y="418.57" width="1.4" height="1.4" class="r"/>
<rect x="365.09" y="421.5" width="1.4" height="1.4" class="r"/>
<rect x="378.43" y="424.96" width="1.4" height="1.4" class="r"/>
<rect x="332.71" y="427.59" width="1.4" height="1.4" class="r"/>
<rect x="376.82" y="422.36" width="1.4" height="1.4" class="r"/>
<rect x="333.93" y="423.86" width="1.4" height="1.4" class="r"/>
<rect x="377.25" y="405.53" width="1.4" height="1.4" class="r"/>
<rect x="336.9" y="422.58" width="1.4" height="1.4" class="r"/>
<rect x="378.27" y="414.41" width="1.4" height="1.4" class="r"/>
<rect x="364.43" y="411.6" width="1.4" height="1.4" class="r"/>
<rect x="342.78" y="424.94" width="1.4" height="1.4" class="r"/>
<rect x="334.21" y="422.29" width="1.4" height="1.4" class="r"/>
<rect x="335.5" y="411.05" width="1.4" height="1.4" class="r"/>
<rect x="344.16" y="406.06" width="1.4" height="1.4" class="r"/>
<rect x="367.05" y="411.71" width="1.4" height="1.4" class="r"/>
<rect x="374.67" y="418.24" width="1.4" height="1.4" class="r"/>
<rect x="365.11" y="418.37" width="1.4" height="1.4" class="r"/>
<rect x="355.21" y="413.51" width="1.4" height="1.4" class="r"/>
<rect x="354.26" y="424.76" width="1.4" height="1.4" class="r"/>
<rect x="374.48" y="421.05" width="1.4" height="1.4" class="r"/>
<rect x="364.51" y="408.65" width="1.4" height="1.4" class="r"/>
<rect x="349.22" y="427.09" width="1.4" height="1.4" class="r"/>
<rect x="374.58" y="411.59" width="1.4" height="1.4" class="r"/>
<rect x="337.09" y="413.44" width="1.4" height="1.4" class="r"/>
<rect x="371.82" y="418.35" width="1.4" height="1.4" class="r"/>
<rect x="353.87" y="424.48" width="1.4" height="1.4" class="r"/>
<rect x="371.93" y="428.37" width="1.4" height="1.4" class="r"/>
<rect x="376.88" y="408.29" width="1.4" height="1.4" class="r"/>
<rect x="373.07" y="406.85" width="1.4" height="1.4" class="r"/>
<rect x="334.75" y="412.39" width="1.4" height="1.4" class="r"/>
<rect x="344.99" y="412.63" width="1.4" height="1.4" class="r"/>
<rect x="360.26" y="417.05" width="1.4" height="1.4" class="r"/>
<rect x="342.43" y="406.34" width="1.4" height="1.4" class="r"/>
<rect x="389.77" y="414.62" width="1.4" height="1.4" class="b"/>
<rect x="390.54" y="410.68" width="1.4" height="1.4" class="b"/>
<rect x="404.02" y="414.13" width="1.4" height="1.4" class="b"/>
<rect x="399.29" y="416.07" width="1.4" height="1.4" class="b"/>
<rect x="406.31" y="422.65" width="1.4" height="1.4" class="b"/>
<rect x="399.65" y="415.79" width="1.4" height="1.4" class="b"/>
<rect x="396.84" y="420.89" width="1.4" height="1.4" class="b"/>
<rect x="384.02" y="410.43" width="1.4" height="1.4" class="b"/>
<rect x="399.24" y="409.39" width="1.4" height="1.4" class="b"/>
<rect x="402.4" y="423.85" width="1.4" height="1.4" class="b"/>
<rect x="402.82" y="414.66" width="1.4" height="1.4" class="b"/>
<rect x="382.73" y="423.35" width="1.4" height="1.4" class="b"/>
<rect x="393.92" y="418.54" width="1.4" height="1.4" class="b"/>
<rect x="403.95" y="411.8" width="1.4" height="1.4" class="b"/>
<rect x="389.54" y="414.92" width="1.4" height="1.4" class="b"/>
<rect x="383.12" y="409.45" width="1.4" height="1.4" class="b"/>
<rect x="400.64" y="419.44" width="1.4" height="1.4" class="b"/>
<rect x="399.09" y="413.44" width="1.4" height="1.4" class="b"/>
<rect x="392.93" y="423.59" width="1.4" height="1.4" class="b"/>
<rect x="403.87" y="419.78" width="1.4" height="1.4" class="b"/>
<rect x="400.68" y="414.58" width="1.4" height="1.4" class="b"/>
<rect x="402.77" y="414.69" width="1.4" height="1.4" class="b"/>
<rect x="388.52" y="423.42" width="1.4" height="1.4" class="b"/>
<rect x="388.7" y="410.34" width="1.4" height="1.4" class="b"/>
<rect x="385.51" y="422.58" width="1.4" height="1.4" class="b"/>
<rect x="406.29" y="422.5" width="1.4" height="1.4" class="b"/>
<rect x="387.44" y="413.97" width="1.4" height="1.4" class="b"/>
<rect x="403.96" y="422.17" width="1.4" height="1.4" class="b"/>
<rect x="390.57" y="409.22" width="1.4" height="1.4" class="b"/>
<rect x="386.34" y="411.39" width="1.4" height="1.4" class="b"/>
<rect x="385.06" y="419.48" width="1.4" height="1.4" class="b"/>
<rect x="396.09" y="410.45" width="1.4" height="1.4" class="b"/>
<rect x="384.13" y="421.21" width="1.4" height="1.4" class="b"/>
<rect x="399.77" y="412.53" width="1.4" height="1.4" class="b"/>
<rect x="386.69" y="423.34" width="1.4" height="1.4" class="b"/>
<rect x="390.18" y="409.33" width="1.4" height="1.4" class="b"/>
<rect x="397.05" y="409.22" width="1.4" height="1.4" class="b"/>
<rect x="386.47" y="409.73" width="1.4" height="1.4" class="b"/>
<rect x="405.44" y="409.39" width="1.4" height="1.4" class="b"/>
<rect x="383.69" y="413.45" width="1.4" height="1.4" class="b"/>
<rect x="398.54" y="422.32" width="1.4" height="1.4" class="b"/>
<rect x="387.14" y="416.78" width="1.4" height="1.4" class="b"/>
<rect x="395.58" y="418.51" width="1.4" height="1.4" class="b"/>
<rect x="400.38" y="412.65" width="1.4" height="1.4" class="b"/>
<rect x="383.21" y="420.62" width="1.4" height="1.4" class="b"/>
<rect x="388.09" y="420.98" width="1.4" height="1.4" class="b"/>
<rect x="397.49" y="418.48" width="1.4" height="1.4" class="b"/>
<rect x="399.52" y="421.04" width="1.4" height="1.4" class="b"/>
<rect x="390.76" y="420.72" width="1.4" height="1.4" class="b"/>
<rect x="382.94" y="411.66" width="1.4" height="1.4" class="b"/>
<rect x="400.08" y="416.51" width="1.4" height="1.4" class="b"/>
<rect x="383.29" y="413.23" width="1.4" height="1.4" class="b"/>
<rect x="391.85" y="418.31" width="1.4" height="1.4" class="b"/>
<rect x="393.57" y="417.26" width="1.4" height="1.4" class="b"/>
<rect x="385.6" y="412.27" width="1.4" height="1.4" class="b"/>
<rect x="400.1" y="422.16" width="1.4" height="1.4" class="b"/>
<rect x="389.48" y="410.63" width="1.4" height="1.4" class="b"/>
<rect x="394.01" y="416.07" width="1.4" height="1.4" class="b"/>
<rect x="386.69" y="414.99" width="1.4" height="1.4" class="b"/>
<rect x="396.87" y="423.52" width="1.4" height="1.4" class="b"/>
<rect x="392.92" y="421.82" width="1.4" height="1.4" class="b"/>
<rect x="383.33" y="419.64" width="1.4" height="1.4" class="b"/>
<rect x="392.88" y="414.48" width="1.4" height="1.4" class="b"/>
<rect x="386.43" y="413.87" width="1.4" height="1.4" class="b"/>
<rect x="395.53" y="410.02" width="1.4" height="1.4" class="b"/>
<rect x="388.57" y="415.91" width="1.4" height="1.4" class="b"/>
<rect x="395.53" y="411.11" width="1.4" height="1.4" class="b"/>
<rect x="387.08" y="422.09" width="1.4" height="1.4" class="b"/>
<rect x="403.78" y="409.26" width="1.4" height="1.4" class="b"/>
<rect x="385.77" y="415.04" width="1.4" height="1.4" class="b"/>
<rect x="383.54" y="410.94" width="1.4" height="1.4" class="b"/>
<rect x="384.25" y="412.26" width="1.4" height="1.4" class="b"/>
<rect x="397" y="419.97" width="1.4" height="1.4" class="b"/>
<rect x="383.68" y="411.06" width="1.4" height="1.4" class="b"/>
<rect x="387.38" y="419.68" width="1.4" height="1.4" class="b"/>
<rect x="399.1" y="410.73" width="1.4" height="1.4" class="b"/>
<rect x="389.29" y="423.82" width="1.4" height="1.4" class="b"/>
<rect x="395.17" y="411.37" width="1.4" height="1.4" class="b"/>
<rect x="384.04" y="422.68" width="1.4" height="1.4" class="b"/>
<rect x="392.62" y="419.67" width="1.4" height="1.4" class="b"/>
<rect x="385.09" y="410.46" width="1.4" height="1.4" class="b"/>
<rect x="382.96" y="408.87" width="1.4" height="1.4" class="b"/>
<rect x="385.6" y="422.88" width="1.4" height="1.4" class="b"/>
<rect x="383.25" y="416.47" width="1.4" height="1.4" class="b"/>
<rect x="382.59" y="412.76" width="1.4" height="1.4" class="b"/>
<rect x="384.38" y="414.56" width="1.4" height="1.4" class="b"/>
<rect x="384.58" y="416.28" width="1.4" height="1.4" class="b"/>
<rect x="382.74" y="411.32" width="1.4" height="1.4" class="b"/>
<rect x="383.36" y="418.71" width="1.4" height="1.4" class="b"/>
<rect x="384.24" y="413.16" width="1.4" height="1.4" class="b"/>
<rect x="382.52" y="420.54" width="1.4" height="1.4" class="b"/>
<rect x="384.84" y="416.46" width="1.4" height="1.4" class="b"/>
<rect x="383.3" y="411.37" width="1.4" height="1.4" class="b"/>
<rect x="384.03" y="419.16" width="1.4" height="1.4" class="b"/>
<rect x="467.02" y="417.14" width="1.4" height="1.4" class="b"/>
<rect x="469.64" y="415.96" width="1.4" height="1.4" class="b"/>
<rect x="461.64" y="411.43" width="1.4" height="1.4" class="b"/>
<rect x="472.83" y="411.46" width="1.4" height="1.4" class="b"/>
<rect x="449.97" y="419.28" width="1.4" height="1.4" class="b"/>
<rect x="436.65" y="419.14" width="1.4" height="1.4" class="b"/>
<rect x="426.09" y="419.43" width="1.4" height="1.4" class="b"/>
<rect x="441.78" y="419.15" width="1.4" height="1.4" class="b"/>
<rect x="490.5" y="418.99" width="1.4" height="1.4" class="b"/>
<rect x="487.65" y="421.78" width="1.4" height="1.4" class="b"/>
<rect x="503.44" y="422.87" width="1.4" height="1.4" class="b"/>
<rect x="490.87" y="415.07" width="1.4" height="1.4" class="b"/>
<rect x="460.23" y="419.99" width="1.4" height="1.4" class="b"/>
<rect x="500.72" y="420.03" width="1.4" height="1.4" class="b"/>
<rect x="448.97" y="419.44" width="1.4" height="1.4" class="b"/>
<rect x="414.28" y="421.78" width="1.4" height="1.4" class="b"/>
<rect x="410.97" y="411" width="1.4" height="1.4" class="b"/>
<rect x="448.25" y="416.24" width="1.4" height="1.4" class="b"/>
<rect x="501.47" y="418.74" width="1.4" height="1.4" class="b"/>
<rect x="472.66" y="418.57" width="1.4" height="1.4" class="b"/>
<rect x="480.26" y="417.05" width="1.4" height="1.4" class="b"/>
<rect x="497.73" y="414.16" width="1.4" height="1.4" class="b"/>
<rect x="444.14" y="418.28" width="1.4" height="1.4" class="b"/>
<rect x="426.26" y="419.5" width="1.4" height="1.4" class="b"/>
<rect x="417.94" y="414.07" width="1.4" height="1.4" class="b"/>
<rect x="480.12" y="419.12" width="1.4" height="1.4" class="b"/>
<rect x="471.42" y="418.18" width="1.4" height="1.4" class="b"/>
<rect x="495.45" y="411.88" width="1.4" height="1.4" class="b"/>
<rect x="492.25" y="412.96" width="1.4" height="1.4" class="b"/>
<rect x="475.48" y="414.32" width="1.4" height="1.4" class="b"/>
<rect x="491.99" y="415.47" width="1.4" height="1.4" class="b"/>
<rect x="496.5" y="418.91" width="1.4" height="1.4" class="b"/>
<rect x="409.01" y="415.37" width="1.4" height="1.4" class="b"/>
<rect x="471.74" y="420.72" width="1.4" height="1.4" class="b"/>
<rect x="452.63" y="418.68" width="1.4" height="1.4" class="b"/>
<rect x="447.05" y="412.79" width="1.4" height="1.4" class="b"/>
<rect x="417.71" y="422.79" width="1.4" height="1.4" class="b"/>
<rect x="474.33" y="417.3" width="1.4" height="1.4" class="b"/>
<rect x="478.53" y="421.24" width="1.4" height="1.4" class="b"/>
<rect x="440.94" y="414.32" width="1.4" height="1.4" class="b"/>
<rect x="461.05" y="411.21" width="1.4" height="1.4" class="b"/>
<rect x="481.63" y="411.28" width="1.4" height="1.4" class="b"/>
<rect x="496.94" y="418.76" width="1.4" height="1.4" class="b"/>
<rect x="455.55" y="413.49" width="1.4" height="1.4" class="b"/>
<rect x="494.09" y="414.9" width="1.4" height="1.4" class="b"/>
<rect x="430.55" y="420.69" width="1.4" height="1.4" class="b"/>
<rect x="469.2" y="422.72" width="1.4" height="1.4" class="b"/>
<rect x="499.56" y="419.27" width="1.4" height="1.4" class="b"/>
<rect x="409.94" y="413.67" width="1.4" height="1.4" class="b"/>
<rect x="420.75" y="412.86" width="1.4" height="1.4" class="b"/>
<rect x="462.05" y="422.26" width="1.4" height="1.4" class="b"/>
<rect x="411.76" y="414.27" width="1.4" height="1.4" class="b"/>
<rect x="468.34" y="413.35" width="1.4" height="1.4" class="b"/>
<rect x="411.73" y="420.85" width="1.4" height="1.4" class="b"/>
<rect x="406.05" y="413.38" width="1.4" height="1.4" class="b"/>
<rect x="427.15" y="417.14" width="1.4" height="1.4" class="b"/>
<rect x="439.87" y="416" width="1.4" height="1.4" class="b"/>
<rect x="475.19" y="418.87" width="1.4" height="1.4" class="b"/>
<rect x="468.02" y="419.92" width="1.4" height="1.4" class="b"/>
<rect x="414.97" y="418.88" width="1.4" height="1.4" class="b"/>
<rect x="475.46" y="418.32" width="1.4" height="1.4" class="b"/>
<rect x="425.88" y="417.06" width="1.4" height="1.4" class="b"/>
<rect x="443.64" y="412.72" width="1.4" height="1.4" class="b"/>
<rect x="468.45" y="412.78" width="1.4" height="1.4" class="b"/>
<rect x="476.93" y="414.48" width="1.4" height="1.4" class="b"/>
<rect x="340.48" y="289.53" width="1.4" height="1.4" class="r"/>
<rect x="353.53" y="279.5" width="1.4" height="1.4" class="r"/>
<rect x="331.41" y="378.12" width="1.4" height="1.4" class="r"/>
<rect x="358.4" y="380.89" width="1.4" height="1.4" class="r"/>
<rect x="360.61" y="380.89" width="1.4" height="1.4" class="r"/>
<rect x="380.52" y="370.27" width="1.4" height="1.4" class="r"/>
<rect x="354.42" y="386.62" width="1.4" height="1.4" class="r"/>
<rect x="351.98" y="388.01" width="1.4" height="1.4" class="r"/>
<rect x="375.21" y="384.31" width="1.4" height="1.4" class="r"/>
<rect x="329.2" y="394.29" width="1.4" height="1.4" class="r"/>
<rect x="351.76" y="393" width="1.4" height="1.4" class="r"/>
<rect x="356.41" y="393.83" width="1.4" height="1.4" class="r"/>
<rect x="360.61" y="394.94" width="1.4" height="1.4" class="r"/>
<rect x="369.68" y="395.31" width="1.4" height="1.4" class="r"/>
<rect x="376.09" y="395.82" width="1.4" height="1.4" class="r"/>
<rect x="349.77" y="396.42" width="1.4" height="1.4" class="r"/>
<rect x="347.34" y="399.51" width="1.4" height="1.4" class="r"/>
<rect x="343.14" y="400.76" width="1.4" height="1.4" class="r"/>
<rect x="356.41" y="403.07" width="1.4" height="1.4" class="r"/>
<rect x="375.21" y="400.76" width="1.4" height="1.4" class="r"/>
<rect x="334.07" y="405.1" width="1.4" height="1.4" class="r"/>
<rect x="399.98" y="397.53" width="1.4" height="1.4" class="b"/>
<rect x="382.51" y="402.15" width="1.4" height="1.4" class="b"/>
<rect x="386.93" y="403.99" width="1.4" height="1.4" class="b"/>
<rect x="402.86" y="405.38" width="1.4" height="1.4" class="b"/>
<rect x="402.86" y="407.69" width="1.4" height="1.4" class="b"/>
<rect x="406.84" y="408.15" width="1.4" height="1.4" class="b"/>
<rect x="413.48" y="411.85" width="1.4" height="1.4" class="b"/>
<rect x="428.96" y="414.16" width="1.4" height="1.4" class="b"/>
<rect x="432.94" y="414.16" width="1.4" height="1.4" class="b"/>
<rect x="440.24" y="411.62" width="1.4" height="1.4" class="b"/>
<rect x="447.1" y="411.62" width="1.4" height="1.4" class="b"/>
<rect x="445.11" y="419.38" width="1.4" height="1.4" class="b"/>
<rect x="435.6" y="426.4" width="1.4" height="1.4" class="b"/>
<rect x="464.35" y="402.38" width="1.4" height="1.4" class="b"/>
<rect x="491.12" y="405.98" width="1.4" height="1.4" class="b"/>
<rect x="495.54" y="409.58" width="1.4" height="1.4" class="b"/>
<rect x="475.19" y="411.39" width="1.4" height="1.4" class="b"/>
<rect x="478.29" y="413.23" width="1.4" height="1.4" class="b"/>
<rect x="480.28" y="413.93" width="1.4" height="1.4" class="b"/>
<rect x="486.69" y="411.85" width="1.4" height="1.4" class="b"/>
<rect x="486.69" y="413.7" width="1.4" height="1.4" class="b"/>
<rect x="498.64" y="411.85" width="1.4" height="1.4" class="b"/>
<rect x="501.51" y="413.23" width="1.4" height="1.4" class="b"/>
<rect x="453.51" y="413.23" width="1.4" height="1.4" class="b"/>
<rect x="453.51" y="414.16" width="1.4" height="1.4" class="b"/>
<path d="M329.9,404.46 L332.05,404.83 L334.19,405.17 L336.34,405.47 L338.49,405.75 L340.64,405.99 L342.78,406.2 L344.93,406.37 L347.08,406.52 L349.23,406.63 L351.37,406.71 L353.52,406.76 L355.67,406.77 L357.82,406.76 L359.96,406.71 L362.11,406.63 L364.26,406.52 L366.41,406.37 L368.55,406.2 L370.7,405.99 L372.85,405.75 L375,405.47 L377.14,405.17 L379.29,404.83 L381.44,404.46 L381.44,420.17 L379.29,419.8 L377.14,419.47 L375,419.16 L372.85,418.89 L370.7,418.65 L368.55,418.44 L366.41,418.26 L364.26,418.12 L362.11,418.01 L359.96,417.93 L357.82,417.88 L355.67,417.86 L353.52,417.88 L351.37,417.93 L349.23,418.01 L347.08,418.12 L344.93,418.26 L342.78,418.44 L340.64,418.65 L338.49,418.89 L336.34,419.16 L334.19,419.47 L332.05,419.8 L329.9,420.17 Z" class="band"/>
<path d="M382.99,416.47 L388.06,416.52 L393.13,416.56 L398.2,416.59 L403.26,416.62 L408.33,416.64 L413.4,416.65 L418.47,416.65 L423.54,416.65 L428.61,416.65 L433.68,416.64 L438.75,416.62 L443.82,416.59 L448.89,416.56 L453.96,416.52 L459.03,416.47 L464.09,416.42 L469.16,416.37 L474.23,416.3 L479.3,416.23 L484.37,416.15 L489.44,416.07 L494.51,415.98 L499.58,415.88 L504.65,415.78 L504.65,418.09 L499.58,418.05 L494.51,418.01 L489.44,417.98 L484.37,417.95 L479.3,417.93 L474.23,417.92 L469.16,417.91 L464.09,417.91 L459.03,417.92 L453.96,417.93 L448.89,417.95 L443.82,417.98 L438.75,418.01 L433.68,418.05 L428.61,418.09 L423.54,418.14 L418.47,418.2 L413.4,418.27 L408.33,418.34 L403.26,418.41 L398.2,418.5 L393.13,418.59 L388.06,418.68 L382.99,418.78 Z" class="band"/>
<line x1="329.9" y1="412.32" x2="381.44" y2="412.32" class="rl"/>
<line x1="382.99" y1="417.63" x2="504.65" y2="416.94" class="rl"/>
<line x1="327.05" y1="260.2" x2="327.05" y2="291.3" class="ax"/>
<line x1="327.05" y1="294" x2="327.05" y2="434.35" class="ax"/>
<line x1="322.75" y1="434.1" x2="510.5" y2="434.1" class="ax"/>
<text x="318.65" y="436.5" class="yl">0</text>
<line x1="322.75" y1="387.6" x2="327.05" y2="387.6" class="tk"/>
<text x="318.65" y="390.3" class="yl">100</text>
<line x1="322.75" y1="341.4" x2="327.05" y2="341.4" class="tk"/>
<text x="318.65" y="344.1" class="yl">200</text>
<line x1="322.75" y1="295.2" x2="327.05" y2="295.2" class="tk"/>
<text x="318.65" y="297.9" class="yl">300</text>
<line x1="322.75" y1="282.3" x2="327.05" y2="282.3" class="tk"/>
<text x="318.65" y="285" class="yl">600</text>
<line x1="322.75" y1="273.15" x2="327.05" y2="273.15" class="tk"/>
<text x="318.65" y="275.85" class="yl">900</text>
<line x1="322.75" y1="264" x2="327.05" y2="264" class="tk"/>
<text x="318.65" y="266.7" class="yl">1200</text>
<line x1="329.9" y1="433.8" x2="329.9" y2="438.3" class="tk"/>
<text x="329.9" y="449.2" class="xl">−24</text>
<line x1="356.44" y1="433.8" x2="356.44" y2="438.3" class="tk"/>
<text x="356.44" y="449.2" class="xl">−12</text>
<line x1="382.99" y1="433.8" x2="382.99" y2="438.3" class="tk"/>
<text x="382.99" y="449.2" class="xl">0</text>
<line x1="409.53" y1="433.8" x2="409.53" y2="438.3" class="tk"/>
<text x="409.53" y="449.2" class="xl">12</text>
<line x1="436.08" y1="433.8" x2="436.08" y2="438.3" class="tk"/>
<text x="436.08" y="449.2" class="xl">24</text>
<line x1="462.62" y1="433.8" x2="462.62" y2="438.3" class="tk"/>
<text x="462.62" y="449.2" class="xl">36</text>
<line x1="489.16" y1="433.8" x2="489.16" y2="438.3" class="tk"/>
<text x="489.16" y="449.2" class="xl">48</text>
<text x="269.6" y="252.3" class="let">D</text>
<text transform="translate(293.3,349.2) rotate(-90) scale(0.65,1)" class="yt">AST</text>
<rect x="100.42" y="637.08" width="1.4" height="1.4" class="r"/>
<rect x="117.1" y="634.03" width="1.4" height="1.4" class="r"/>
<rect x="69.41" y="633.52" width="1.4" height="1.4" class="r"/>
<rect x="101.78" y="631.01" width="1.4" height="1.4" class="r"/>
<rect x="92.39" y="643.12" width="1.4" height="1.4" class="r"/>
<rect x="97.86" y="650.98" width="1.4" height="1.4" class="r"/>
<rect x="82.49" y="624.38" width="1.4" height="1.4" class="r"/>
<rect x="76.23" y="652.85" width="1.4" height="1.4" class="r"/>
<rect x="100.13" y="656.14" width="1.4" height="1.4" class="r"/>
<rect x="113.39" y="651.01" width="1.4" height="1.4" class="r"/>
<rect x="119.19" y="629.22" width="1.4" height="1.4" class="r"/>
<rect x="118.09" y="639.9" width="1.4" height="1.4" class="r"/>
<rect x="78.59" y="657.33" width="1.4" height="1.4" class="r"/>
<rect x="118.36" y="629.12" width="1.4" height="1.4" class="r"/>
<rect x="86.76" y="652.68" width="1.4" height="1.4" class="r"/>
<rect x="71.3" y="641.69" width="1.4" height="1.4" class="r"/>
<rect x="68.08" y="648.07" width="1.4" height="1.4" class="r"/>
<rect x="84.08" y="644.63" width="1.4" height="1.4" class="r"/>
<rect x="84.39" y="639.26" width="1.4" height="1.4" class="r"/>
<rect x="70.88" y="659.8" width="1.4" height="1.4" class="r"/>
<rect x="107.04" y="631.98" width="1.4" height="1.4" class="r"/>
<rect x="109.02" y="642.29" width="1.4" height="1.4" class="r"/>
<rect x="68.37" y="651.84" width="1.4" height="1.4" class="r"/>
<rect x="117.76" y="638.03" width="1.4" height="1.4" class="r"/>
<rect x="116.43" y="658.61" width="1.4" height="1.4" class="r"/>
<rect x="86.42" y="637.55" width="1.4" height="1.4" class="r"/>
<rect x="73.54" y="637.03" width="1.4" height="1.4" class="r"/>
<rect x="112.78" y="633.46" width="1.4" height="1.4" class="r"/>
<rect x="72.66" y="641.51" width="1.4" height="1.4" class="r"/>
<rect x="115.83" y="633.98" width="1.4" height="1.4" class="r"/>
<rect x="96.36" y="648.57" width="1.4" height="1.4" class="r"/>
<rect x="77.16" y="652.61" width="1.4" height="1.4" class="r"/>
<rect x="103.88" y="659.28" width="1.4" height="1.4" class="r"/>
<rect x="70.43" y="657.91" width="1.4" height="1.4" class="r"/>
<rect x="89.09" y="641.91" width="1.4" height="1.4" class="r"/>
<rect x="111.04" y="646.05" width="1.4" height="1.4" class="r"/>
<rect x="70.81" y="631.83" width="1.4" height="1.4" class="r"/>
<rect x="93.67" y="653.05" width="1.4" height="1.4" class="r"/>
<rect x="106.1" y="657.55" width="1.4" height="1.4" class="r"/>
<rect x="109.04" y="645.74" width="1.4" height="1.4" class="r"/>
<rect x="75.69" y="629.16" width="1.4" height="1.4" class="r"/>
<rect x="91.56" y="656.73" width="1.4" height="1.4" class="r"/>
<rect x="118.85" y="644.46" width="1.4" height="1.4" class="r"/>
<rect x="105.98" y="649.19" width="1.4" height="1.4" class="r"/>
<rect x="88.98" y="647.13" width="1.4" height="1.4" class="r"/>
<rect x="119.5" y="657.56" width="1.4" height="1.4" class="r"/>
<rect x="93.97" y="654.04" width="1.4" height="1.4" class="r"/>
<rect x="82.12" y="635.35" width="1.4" height="1.4" class="r"/>
<rect x="86.76" y="637.57" width="1.4" height="1.4" class="r"/>
<rect x="104.16" y="637.93" width="1.4" height="1.4" class="r"/>
<rect x="86.87" y="649.44" width="1.4" height="1.4" class="r"/>
<rect x="93.25" y="639.59" width="1.4" height="1.4" class="r"/>
<rect x="83.24" y="657.48" width="1.4" height="1.4" class="r"/>
<rect x="98.21" y="643.04" width="1.4" height="1.4" class="r"/>
<rect x="80.99" y="645.06" width="1.4" height="1.4" class="r"/>
<rect x="110.53" y="637.02" width="1.4" height="1.4" class="r"/>
<rect x="86.06" y="638.46" width="1.4" height="1.4" class="r"/>
<rect x="111.13" y="635.93" width="1.4" height="1.4" class="r"/>
<rect x="113.31" y="632.73" width="1.4" height="1.4" class="r"/>
<rect x="117.83" y="643.47" width="1.4" height="1.4" class="r"/>
<rect x="76.57" y="633.66" width="1.4" height="1.4" class="r"/>
<rect x="92.81" y="638.89" width="1.4" height="1.4" class="r"/>
<rect x="106.03" y="637.44" width="1.4" height="1.4" class="r"/>
<rect x="98.22" y="646.07" width="1.4" height="1.4" class="r"/>
<rect x="100.46" y="640.88" width="1.4" height="1.4" class="r"/>
<rect x="105.51" y="652.34" width="1.4" height="1.4" class="r"/>
<rect x="90.93" y="650.92" width="1.4" height="1.4" class="r"/>
<rect x="103.71" y="655.18" width="1.4" height="1.4" class="r"/>
<rect x="92.52" y="654.88" width="1.4" height="1.4" class="r"/>
<rect x="74.87" y="651.82" width="1.4" height="1.4" class="r"/>
<rect x="77.99" y="645" width="1.4" height="1.4" class="r"/>
<rect x="87.75" y="642.01" width="1.4" height="1.4" class="r"/>
<rect x="80.32" y="632.15" width="1.4" height="1.4" class="r"/>
<rect x="89.06" y="646.33" width="1.4" height="1.4" class="r"/>
<rect x="73.91" y="647.2" width="1.4" height="1.4" class="r"/>
<rect x="69.78" y="653.91" width="1.4" height="1.4" class="r"/>
<rect x="96.36" y="642.23" width="1.4" height="1.4" class="r"/>
<rect x="117.93" y="646.12" width="1.4" height="1.4" class="r"/>
<rect x="110.34" y="647.31" width="1.4" height="1.4" class="r"/>
<rect x="75.32" y="642.64" width="1.4" height="1.4" class="r"/>
<rect x="117.87" y="657.63" width="1.4" height="1.4" class="r"/>
<rect x="86.23" y="632.15" width="1.4" height="1.4" class="r"/>
<rect x="73.53" y="641.41" width="1.4" height="1.4" class="r"/>
<rect x="75.25" y="634.77" width="1.4" height="1.4" class="r"/>
<rect x="87.52" y="650.75" width="1.4" height="1.4" class="r"/>
<rect x="83.12" y="658.48" width="1.4" height="1.4" class="r"/>
<rect x="118.07" y="626.1" width="1.4" height="1.4" class="r"/>
<rect x="81.46" y="658.05" width="1.4" height="1.4" class="r"/>
<rect x="89.59" y="632.54" width="1.4" height="1.4" class="r"/>
<rect x="93.57" y="644.73" width="1.4" height="1.4" class="r"/>
<rect x="74.26" y="645.53" width="1.4" height="1.4" class="r"/>
<rect x="83.2" y="636.32" width="1.4" height="1.4" class="r"/>
<rect x="68.59" y="649.61" width="1.4" height="1.4" class="r"/>
<rect x="116.72" y="650.28" width="1.4" height="1.4" class="r"/>
<rect x="81.87" y="632.43" width="1.4" height="1.4" class="r"/>
<rect x="83.21" y="644.78" width="1.4" height="1.4" class="r"/>
<rect x="101.56" y="638.32" width="1.4" height="1.4" class="r"/>
<rect x="74.07" y="648.96" width="1.4" height="1.4" class="r"/>
<rect x="95.75" y="649.05" width="1.4" height="1.4" class="r"/>
<rect x="95.56" y="647.51" width="1.4" height="1.4" class="r"/>
<rect x="106.79" y="655.31" width="1.4" height="1.4" class="r"/>
<rect x="81.08" y="634.16" width="1.4" height="1.4" class="r"/>
<rect x="114.25" y="655.83" width="1.4" height="1.4" class="r"/>
<rect x="108.53" y="642.35" width="1.4" height="1.4" class="r"/>
<rect x="104.87" y="644.61" width="1.4" height="1.4" class="r"/>
<rect x="115.49" y="646.77" width="1.4" height="1.4" class="r"/>
<rect x="112.37" y="649.06" width="1.4" height="1.4" class="r"/>
<rect x="111.23" y="636.09" width="1.4" height="1.4" class="r"/>
<rect x="104.16" y="649.3" width="1.4" height="1.4" class="r"/>
<rect x="108.66" y="630.71" width="1.4" height="1.4" class="r"/>
<rect x="92.87" y="644.23" width="1.4" height="1.4" class="r"/>
<rect x="85.17" y="642.11" width="1.4" height="1.4" class="r"/>
<rect x="110.28" y="650.66" width="1.4" height="1.4" class="r"/>
<rect x="110.69" y="640.24" width="1.4" height="1.4" class="r"/>
<rect x="69.23" y="632.67" width="1.4" height="1.4" class="r"/>
<rect x="120.02" y="655.01" width="1.4" height="1.4" class="r"/>
<rect x="111.86" y="640.67" width="1.4" height="1.4" class="r"/>
<rect x="117.61" y="652.95" width="1.4" height="1.4" class="r"/>
<rect x="83.17" y="630.64" width="1.4" height="1.4" class="r"/>
<rect x="99.78" y="652.31" width="1.4" height="1.4" class="r"/>
<rect x="100.39" y="653.58" width="1.4" height="1.4" class="r"/>
<rect x="87.7" y="654.8" width="1.4" height="1.4" class="r"/>
<rect x="97.93" y="635.08" width="1.4" height="1.4" class="r"/>
<rect x="74.91" y="648.63" width="1.4" height="1.4" class="r"/>
<rect x="99.23" y="633.64" width="1.4" height="1.4" class="r"/>
<rect x="87.43" y="639.43" width="1.4" height="1.4" class="r"/>
<rect x="75.79" y="644.03" width="1.4" height="1.4" class="r"/>
<rect x="115.43" y="641.27" width="1.4" height="1.4" class="r"/>
<rect x="81.64" y="650.08" width="1.4" height="1.4" class="r"/>
<rect x="107.08" y="652.97" width="1.4" height="1.4" class="r"/>
<rect x="80.14" y="638.48" width="1.4" height="1.4" class="r"/>
<rect x="77.26" y="640.45" width="1.4" height="1.4" class="r"/>
<rect x="72.35" y="653.99" width="1.4" height="1.4" class="r"/>
<rect x="74.41" y="650.45" width="1.4" height="1.4" class="r"/>
<rect x="113.68" y="648.42" width="1.4" height="1.4" class="r"/>
<rect x="109.48" y="638.77" width="1.4" height="1.4" class="r"/>
<rect x="70.7" y="633.31" width="1.4" height="1.4" class="r"/>
<rect x="103.46" y="653.4" width="1.4" height="1.4" class="r"/>
<rect x="118.68" y="636.47" width="1.4" height="1.4" class="r"/>
<rect x="75.2" y="647.67" width="1.4" height="1.4" class="r"/>
<rect x="80.17" y="641.44" width="1.4" height="1.4" class="r"/>
<rect x="86.1" y="652.91" width="1.4" height="1.4" class="r"/>
<rect x="111.29" y="636.86" width="1.4" height="1.4" class="r"/>
<rect x="90.52" y="626.9" width="1.4" height="1.4" class="r"/>
<rect x="98.84" y="638.4" width="1.4" height="1.4" class="r"/>
<rect x="88.55" y="655.39" width="1.4" height="1.4" class="r"/>
<rect x="78.47" y="634.82" width="1.4" height="1.4" class="r"/>
<rect x="93.01" y="656.17" width="1.4" height="1.4" class="r"/>
<rect x="92.45" y="625.86" width="1.4" height="1.4" class="r"/>
<rect x="90.28" y="653.79" width="1.4" height="1.4" class="r"/>
<rect x="75.97" y="647.18" width="1.4" height="1.4" class="r"/>
<rect x="88.03" y="630.61" width="1.4" height="1.4" class="r"/>
<rect x="81.16" y="652.3" width="1.4" height="1.4" class="r"/>
<rect x="82.89" y="644.6" width="1.4" height="1.4" class="r"/>
<rect x="69.58" y="658.52" width="1.4" height="1.4" class="r"/>
<rect x="116.86" y="640" width="1.4" height="1.4" class="r"/>
<rect x="92.53" y="659.44" width="1.4" height="1.4" class="r"/>
<rect x="102.8" y="639.98" width="1.4" height="1.4" class="r"/>
<rect x="105.97" y="651.35" width="1.4" height="1.4" class="r"/>
<rect x="69.2" y="654.31" width="1.4" height="1.4" class="r"/>
<rect x="88.84" y="658.53" width="1.4" height="1.4" class="r"/>
<rect x="84.18" y="649.38" width="1.4" height="1.4" class="r"/>
<rect x="106.13" y="652.26" width="1.4" height="1.4" class="r"/>
<rect x="80.46" y="633.59" width="1.4" height="1.4" class="r"/>
<rect x="101.62" y="632.75" width="1.4" height="1.4" class="r"/>
<rect x="68.23" y="637.46" width="1.4" height="1.4" class="r"/>
<rect x="89.31" y="643.01" width="1.4" height="1.4" class="r"/>
<rect x="119.56" y="647.78" width="1.4" height="1.4" class="r"/>
<rect x="124.1" y="645.2" width="1.4" height="1.4" class="b"/>
<rect x="137.28" y="657.4" width="1.4" height="1.4" class="b"/>
<rect x="129.07" y="650.3" width="1.4" height="1.4" class="b"/>
<rect x="122.98" y="650.19" width="1.4" height="1.4" class="b"/>
<rect x="131.14" y="653.95" width="1.4" height="1.4" class="b"/>
<rect x="153.23" y="649.17" width="1.4" height="1.4" class="b"/>
<rect x="134.34" y="653.48" width="1.4" height="1.4" class="b"/>
<rect x="131.4" y="648.83" width="1.4" height="1.4" class="b"/>
<rect x="151.56" y="645.63" width="1.4" height="1.4" class="b"/>
<rect x="128.1" y="648.85" width="1.4" height="1.4" class="b"/>
<rect x="137.13" y="650.51" width="1.4" height="1.4" class="b"/>
<rect x="141.73" y="645.06" width="1.4" height="1.4" class="b"/>
<rect x="131.19" y="645.94" width="1.4" height="1.4" class="b"/>
<rect x="128.42" y="651.17" width="1.4" height="1.4" class="b"/>
<rect x="123.9" y="646.01" width="1.4" height="1.4" class="b"/>
<rect x="131.37" y="653.5" width="1.4" height="1.4" class="b"/>
<rect x="129.11" y="649.98" width="1.4" height="1.4" class="b"/>
<rect x="140.13" y="653.71" width="1.4" height="1.4" class="b"/>
<rect x="144.23" y="652.3" width="1.4" height="1.4" class="b"/>
<rect x="130.48" y="653.33" width="1.4" height="1.4" class="b"/>
<rect x="134.94" y="646.69" width="1.4" height="1.4" class="b"/>
<rect x="139.44" y="639.34" width="1.4" height="1.4" class="b"/>
<rect x="146.2" y="649.84" width="1.4" height="1.4" class="b"/>
<rect x="148.09" y="644.63" width="1.4" height="1.4" class="b"/>
<rect x="145.14" y="651.62" width="1.4" height="1.4" class="b"/>
<rect x="147.93" y="653.01" width="1.4" height="1.4" class="b"/>
<rect x="123.18" y="651.67" width="1.4" height="1.4" class="b"/>
<rect x="143.41" y="653.69" width="1.4" height="1.4" class="b"/>
<rect x="146.33" y="654.06" width="1.4" height="1.4" class="b"/>
<rect x="122.67" y="650.71" width="1.4" height="1.4" class="b"/>
<rect x="149.52" y="655.59" width="1.4" height="1.4" class="b"/>
<rect x="128.66" y="650.65" width="1.4" height="1.4" class="b"/>
<rect x="131.95" y="648.4" width="1.4" height="1.4" class="b"/>
<rect x="148.43" y="653.37" width="1.4" height="1.4" class="b"/>
<rect x="138.58" y="647.13" width="1.4" height="1.4" class="b"/>
<rect x="135.79" y="655" width="1.4" height="1.4" class="b"/>
<rect x="124.91" y="645.04" width="1.4" height="1.4" class="b"/>
<rect x="136.28" y="649.85" width="1.4" height="1.4" class="b"/>
<rect x="146.45" y="655.85" width="1.4" height="1.4" class="b"/>
<rect x="153.16" y="653.28" width="1.4" height="1.4" class="b"/>
<rect x="148.01" y="653.8" width="1.4" height="1.4" class="b"/>
<rect x="153.44" y="648.47" width="1.4" height="1.4" class="b"/>
<rect x="136.98" y="641.27" width="1.4" height="1.4" class="b"/>
<rect x="128.14" y="652.29" width="1.4" height="1.4" class="b"/>
<rect x="139.65" y="646.7" width="1.4" height="1.4" class="b"/>
<rect x="129" y="651.81" width="1.4" height="1.4" class="b"/>
<rect x="153.58" y="637.89" width="1.4" height="1.4" class="b"/>
<rect x="141.5" y="652.88" width="1.4" height="1.4" class="b"/>
<rect x="148.58" y="653.95" width="1.4" height="1.4" class="b"/>
<rect x="126.61" y="647.04" width="1.4" height="1.4" class="b"/>
<rect x="150.86" y="646.23" width="1.4" height="1.4" class="b"/>
<rect x="131.74" y="645.56" width="1.4" height="1.4" class="b"/>
<rect x="141.66" y="641.39" width="1.4" height="1.4" class="b"/>
<rect x="121.32" y="648.37" width="1.4" height="1.4" class="b"/>
<rect x="127.12" y="651.11" width="1.4" height="1.4" class="b"/>
<rect x="121.89" y="650.44" width="1.4" height="1.4" class="b"/>
<rect x="136.79" y="650.28" width="1.4" height="1.4" class="b"/>
<rect x="153.58" y="637.34" width="1.4" height="1.4" class="b"/>
<rect x="143.98" y="648.88" width="1.4" height="1.4" class="b"/>
<rect x="147.49" y="648.3" width="1.4" height="1.4" class="b"/>
<rect x="143.53" y="651.45" width="1.4" height="1.4" class="b"/>
<rect x="123.57" y="650.72" width="1.4" height="1.4" class="b"/>
<rect x="140.25" y="647.07" width="1.4" height="1.4" class="b"/>
<rect x="131.17" y="656.68" width="1.4" height="1.4" class="b"/>
<rect x="144.75" y="646.68" width="1.4" height="1.4" class="b"/>
<rect x="143.22" y="654.67" width="1.4" height="1.4" class="b"/>
<rect x="143.81" y="638.71" width="1.4" height="1.4" class="b"/>
<rect x="141.26" y="649.08" width="1.4" height="1.4" class="b"/>
<rect x="150.72" y="644.43" width="1.4" height="1.4" class="b"/>
<rect x="139.04" y="654.31" width="1.4" height="1.4" class="b"/>
<rect x="133.93" y="647.7" width="1.4" height="1.4" class="b"/>
<rect x="150.83" y="639.64" width="1.4" height="1.4" class="b"/>
<rect x="133.82" y="647.34" width="1.4" height="1.4" class="b"/>
<rect x="139.35" y="650.53" width="1.4" height="1.4" class="b"/>
<rect x="150.41" y="651.23" width="1.4" height="1.4" class="b"/>
<rect x="129.87" y="645.22" width="1.4" height="1.4" class="b"/>
<rect x="126.54" y="646.55" width="1.4" height="1.4" class="b"/>
<rect x="128.44" y="648.58" width="1.4" height="1.4" class="b"/>
<rect x="148.54" y="638.79" width="1.4" height="1.4" class="b"/>
<rect x="134.82" y="648.96" width="1.4" height="1.4" class="b"/>
<rect x="124.99" y="650.7" width="1.4" height="1.4" class="b"/>
<rect x="123.67" y="651.91" width="1.4" height="1.4" class="b"/>
<rect x="121.12" y="647.06" width="1.4" height="1.4" class="b"/>
<rect x="123.66" y="651.87" width="1.4" height="1.4" class="b"/>
<rect x="123.62" y="645.41" width="1.4" height="1.4" class="b"/>
<rect x="124.21" y="648.07" width="1.4" height="1.4" class="b"/>
<rect x="124.68" y="650.22" width="1.4" height="1.4" class="b"/>
<rect x="124.75" y="642.35" width="1.4" height="1.4" class="b"/>
<rect x="122" y="643.46" width="1.4" height="1.4" class="b"/>
<rect x="123.1" y="651.83" width="1.4" height="1.4" class="b"/>
<rect x="121.68" y="652.37" width="1.4" height="1.4" class="b"/>
<rect x="123.71" y="644.53" width="1.4" height="1.4" class="b"/>
<rect x="124.25" y="643.94" width="1.4" height="1.4" class="b"/>
<rect x="124.14" y="641.96" width="1.4" height="1.4" class="b"/>
<rect x="123.75" y="653" width="1.4" height="1.4" class="b"/>
<rect x="121.44" y="651.67" width="1.4" height="1.4" class="b"/>
<rect x="122.64" y="645.53" width="1.4" height="1.4" class="b"/>
<rect x="124.27" y="649.12" width="1.4" height="1.4" class="b"/>
<rect x="202.25" y="654.45" width="1.4" height="1.4" class="b"/>
<rect x="207" y="646.08" width="1.4" height="1.4" class="b"/>
<rect x="198.01" y="642.21" width="1.4" height="1.4" class="b"/>
<rect x="160.56" y="645.52" width="1.4" height="1.4" class="b"/>
<rect x="180.35" y="649.1" width="1.4" height="1.4" class="b"/>
<rect x="185.5" y="642.61" width="1.4" height="1.4" class="b"/>
<rect x="187.98" y="648.81" width="1.4" height="1.4" class="b"/>
<rect x="215.83" y="647.67" width="1.4" height="1.4" class="b"/>
<rect x="180.36" y="643.65" width="1.4" height="1.4" class="b"/>
<rect x="200.11" y="649.96" width="1.4" height="1.4" class="b"/>
<rect x="175.21" y="655.1" width="1.4" height="1.4" class="b"/>
<rect x="178.15" y="649.12" width="1.4" height="1.4" class="b"/>
<rect x="241.29" y="650.47" width="1.4" height="1.4" class="b"/>
<rect x="236.8" y="650.92" width="1.4" height="1.4" class="b"/>
<rect x="225.91" y="644.86" width="1.4" height="1.4" class="b"/>
<rect x="186.11" y="652.48" width="1.4" height="1.4" class="b"/>
<rect x="194.71" y="648.54" width="1.4" height="1.4" class="b"/>
<rect x="158.87" y="641.78" width="1.4" height="1.4" class="b"/>
<rect x="193.33" y="654.92" width="1.4" height="1.4" class="b"/>
<rect x="178.87" y="646.03" width="1.4" height="1.4" class="b"/>
<rect x="199.1" y="650.38" width="1.4" height="1.4" class="b"/>
<rect x="223.04" y="647.41" width="1.4" height="1.4" class="b"/>
<rect x="234.01" y="646.78" width="1.4" height="1.4" class="b"/>
<rect x="157.36" y="644.81" width="1.4" height="1.4" class="b"/>
<rect x="190.73" y="643.98" width="1.4" height="1.4" class="b"/>
<rect x="235.16" y="641.41" width="1.4" height="1.4" class="b"/>
<rect x="221.08" y="653.99" width="1.4" height="1.4" class="b"/>
<rect x="223.26" y="641.81" width="1.4" height="1.4" class="b"/>
<rect x="242.13" y="649.95" width="1.4" height="1.4" class="b"/>
<rect x="178.14" y="651.95" width="1.4" height="1.4" class="b"/>
<rect x="213.14" y="653.68" width="1.4" height="1.4" class="b"/>
<rect x="194.66" y="650.55" width="1.4" height="1.4" class="b"/>
<rect x="233.57" y="653.28" width="1.4" height="1.4" class="b"/>
<rect x="155.8" y="641.98" width="1.4" height="1.4" class="b"/>
<rect x="207.16" y="652.69" width="1.4" height="1.4" class="b"/>
<rect x="235.59" y="655.72" width="1.4" height="1.4" class="b"/>
<rect x="170.52" y="652.24" width="1.4" height="1.4" class="b"/>
<rect x="220.87" y="644.72" width="1.4" height="1.4" class="b"/>
<rect x="167.62" y="641.77" width="1.4" height="1.4" class="b"/>
<rect x="216.28" y="654.54" width="1.4" height="1.4" class="b"/>
<rect x="211.11" y="650.73" width="1.4" height="1.4" class="b"/>
<rect x="196.43" y="641.9" width="1.4" height="1.4" class="b"/>
<rect x="175.48" y="652.29" width="1.4" height="1.4" class="b"/>
<rect x="202.42" y="654.21" width="1.4" height="1.4" class="b"/>
<rect x="196.74" y="656.06" width="1.4" height="1.4" class="b"/>
<rect x="222.4" y="648.73" width="1.4" height="1.4" class="b"/>
<rect x="208.19" y="655.36" width="1.4" height="1.4" class="b"/>
<rect x="198.46" y="650.48" width="1.4" height="1.4" class="b"/>
<rect x="184.76" y="651.78" width="1.4" height="1.4" class="b"/>
<rect x="193.99" y="642.51" width="1.4" height="1.4" class="b"/>
<rect x="186.95" y="645.64" width="1.4" height="1.4" class="b"/>
<rect x="237.1" y="641.58" width="1.4" height="1.4" class="b"/>
<rect x="180.87" y="642.41" width="1.4" height="1.4" class="b"/>
<rect x="161.01" y="645.3" width="1.4" height="1.4" class="b"/>
<rect x="200.95" y="642.52" width="1.4" height="1.4" class="b"/>
<rect x="180.64" y="643.92" width="1.4" height="1.4" class="b"/>
<rect x="166.38" y="648.88" width="1.4" height="1.4" class="b"/>
<rect x="204.24" y="649.47" width="1.4" height="1.4" class="b"/>
<rect x="159.46" y="651.13" width="1.4" height="1.4" class="b"/>
<rect x="166.89" y="652.29" width="1.4" height="1.4" class="b"/>
<rect x="78.96" y="496.1" width="1.4" height="1.4" class="r"/>
<rect x="118.55" y="521.6" width="1.4" height="1.4" class="r"/>
<rect x="70.11" y="540.22" width="1.4" height="1.4" class="r"/>
<rect x="87.81" y="581.11" width="1.4" height="1.4" class="r"/>
<rect x="94.44" y="581.11" width="1.4" height="1.4" class="r"/>
<rect x="105.73" y="589.19" width="1.4" height="1.4" class="r"/>
<rect x="85.6" y="598.62" width="1.4" height="1.4" class="r"/>
<rect x="107.72" y="600" width="1.4" height="1.4" class="r"/>
<rect x="72.32" y="605.36" width="1.4" height="1.4" class="r"/>
<rect x="99.09" y="604.44" width="1.4" height="1.4" class="r"/>
<rect x="101.08" y="605.36" width="1.4" height="1.4" class="r"/>
<rect x="76.75" y="609.06" width="1.4" height="1.4" class="r"/>
<rect x="80.73" y="609.06" width="1.4" height="1.4" class="r"/>
<rect x="83.38" y="608.6" width="1.4" height="1.4" class="r"/>
<rect x="87.81" y="609.06" width="1.4" height="1.4" class="r"/>
<rect x="96.66" y="608.14" width="1.4" height="1.4" class="r"/>
<rect x="67.9" y="613.22" width="1.4" height="1.4" class="r"/>
<rect x="112.14" y="612.99" width="1.4" height="1.4" class="r"/>
<rect x="96.66" y="614.14" width="1.4" height="1.4" class="r"/>
<rect x="101.3" y="615.07" width="1.4" height="1.4" class="r"/>
<rect x="103.29" y="615.07" width="1.4" height="1.4" class="r"/>
<rect x="81.17" y="616.68" width="1.4" height="1.4" class="r"/>
<rect x="85.6" y="618.3" width="1.4" height="1.4" class="r"/>
<rect x="87.81" y="618.3" width="1.4" height="1.4" class="r"/>
<rect x="90.02" y="618.3" width="1.4" height="1.4" class="r"/>
<rect x="98.87" y="620.15" width="1.4" height="1.4" class="r"/>
<rect x="112.14" y="619.5" width="1.4" height="1.4" class="r"/>
<rect x="70.11" y="623.84" width="1.4" height="1.4" class="r"/>
<rect x="72.32" y="621.07" width="1.4" height="1.4" class="r"/>
<rect x="72.32" y="625.69" width="1.4" height="1.4" class="r"/>
<rect x="90.02" y="623.84" width="1.4" height="1.4" class="r"/>
<rect x="101.74" y="622.64" width="1.4" height="1.4" class="r"/>
<rect x="114.35" y="623.84" width="1.4" height="1.4" class="r"/>
<rect x="121.21" y="619.5" width="1.4" height="1.4" class="b"/>
<rect x="121.21" y="627.82" width="1.4" height="1.4" class="b"/>
<rect x="125.41" y="631.51" width="1.4" height="1.4" class="b"/>
<rect x="129.84" y="633.22" width="1.4" height="1.4" class="b"/>
<rect x="138.68" y="611.09" width="1.4" height="1.4" class="b"/>
<rect x="120.99" y="619.22" width="1.4" height="1.4" class="b"/>
<rect x="140.9" y="620.61" width="1.4" height="1.4" class="b"/>
<rect x="140.9" y="628.46" width="1.4" height="1.4" class="b"/>
<rect x="145.32" y="626.62" width="1.4" height="1.4" class="b"/>
<rect x="120.99" y="627.54" width="1.4" height="1.4" class="b"/>
<rect x="125.41" y="631.14" width="1.4" height="1.4" class="b"/>
<rect x="129.84" y="633.08" width="1.4" height="1.4" class="b"/>
<rect x="123.2" y="633.08" width="1.4" height="1.4" class="b"/>
<rect x="123.2" y="636.32" width="1.4" height="1.4" class="b"/>
<rect x="132.05" y="635.86" width="1.4" height="1.4" class="b"/>
<rect x="138.68" y="636.78" width="1.4" height="1.4" class="b"/>
<rect x="140.9" y="636.78" width="1.4" height="1.4" class="b"/>
<rect x="145.32" y="635.86" width="1.4" height="1.4" class="b"/>
<rect x="149.74" y="636.78" width="1.4" height="1.4" class="b"/>
<rect x="151.96" y="638.17" width="1.4" height="1.4" class="b"/>
<rect x="167" y="639.97" width="1.4" height="1.4" class="b"/>
<rect x="171.86" y="633.27" width="1.4" height="1.4" class="b"/>
<rect x="180.71" y="640.01" width="1.4" height="1.4" class="b"/>
<rect x="185.14" y="631.24" width="1.4" height="1.4" class="b"/>
<rect x="184.91" y="631.33" width="1.4" height="1.4" class="b"/>
<rect x="204.82" y="636.32" width="1.4" height="1.4" class="b"/>
<rect x="216.1" y="635.39" width="1.4" height="1.4" class="b"/>
<rect x="229.38" y="638.17" width="1.4" height="1.4" class="b"/>
<rect x="191.77" y="638.17" width="1.4" height="1.4" class="b"/>
<rect x="197.52" y="639.55" width="1.4" height="1.4" class="b"/>
<rect x="202.17" y="640.57" width="1.4" height="1.4" class="b"/>
<rect x="180.71" y="641.4" width="1.4" height="1.4" class="b"/>
<rect x="185.14" y="645.1" width="1.4" height="1.4" class="b"/>
<rect x="193.98" y="644.63" width="1.4" height="1.4" class="b"/>
<rect x="200.62" y="644.63" width="1.4" height="1.4" class="b"/>
<rect x="209.47" y="644.17" width="1.4" height="1.4" class="b"/>
<rect x="213.89" y="643.25" width="1.4" height="1.4" class="b"/>
<rect x="218.32" y="645.1" width="1.4" height="1.4" class="b"/>
<rect x="224.95" y="643.94" width="1.4" height="1.4" class="b"/>
<rect x="236.01" y="644.17" width="1.4" height="1.4" class="b"/>
<rect x="240.44" y="645.56" width="1.4" height="1.4" class="b"/>
<path d="M68.6,617.61 L70.75,619.05 L72.89,620.38 L75.04,621.62 L77.19,622.76 L79.34,623.8 L81.48,624.75 L83.63,625.59 L85.78,626.34 L87.93,626.99 L90.07,627.54 L92.22,628 L94.37,628.36 L96.52,628.61 L98.66,628.78 L100.81,628.84 L102.96,628.8 L105.11,628.67 L107.25,628.44 L109.4,628.11 L111.55,627.69 L113.7,627.16 L115.84,626.54 L117.99,625.82 L120.14,625.01 L120.14,645.8 L117.99,644.94 L115.84,644.14 L113.7,643.41 L111.55,642.73 L109.4,642.11 L107.25,641.55 L105.11,641.05 L102.96,640.61 L100.81,640.23 L98.66,639.91 L96.52,639.65 L94.37,639.44 L92.22,639.3 L90.07,639.22 L87.93,639.19 L85.78,639.23 L83.63,639.32 L81.48,639.47 L79.34,639.68 L77.19,639.96 L75.04,640.29 L72.89,640.68 L70.75,641.13 L68.6,641.64 Z" class="band"/>
<path d="M121.69,645.43 L126.76,645.64 L131.83,645.84 L136.9,646.03 L141.96,646.22 L147.03,646.4 L152.1,646.57 L157.17,646.73 L162.24,646.89 L167.31,647.04 L172.38,647.18 L177.45,647.31 L182.52,647.44 L187.59,647.55 L192.66,647.66 L197.73,647.77 L202.79,647.86 L207.86,647.95 L212.93,648.03 L218,648.1 L223.07,648.16 L228.14,648.22 L233.21,648.26 L238.28,648.3 L243.35,648.34 L243.35,651.11 L238.28,650.9 L233.21,650.7 L228.14,650.5 L223.07,650.32 L218,650.14 L212.93,649.97 L207.86,649.8 L202.79,649.65 L197.73,649.5 L192.66,649.36 L187.59,649.22 L182.52,649.1 L177.45,648.98 L172.38,648.87 L167.31,648.77 L162.24,648.68 L157.17,648.59 L152.1,648.51 L147.03,648.44 L141.96,648.38 L136.9,648.32 L131.83,648.27 L126.76,648.23 L121.69,648.2 Z" class="band"/>
<line x1="68.6" y1="629.63" x2="120.14" y2="638.17" class="rl"/>
<line x1="121.69" y1="646.81" x2="243.35" y2="649.72" class="rl"/>
<line x1="65.75" y1="491.6" x2="65.75" y2="522.7" class="ax"/>
<line x1="65.75" y1="525.4" x2="65.75" y2="665.75" class="ax"/>
<line x1="61.45" y1="665.5" x2="249.2" y2="665.5" class="ax"/>
<text x="57.35" y="667.9" class="yl">0</text>
<line x1="61.45" y1="619" x2="65.75" y2="619" class="tk"/>
<text x="57.35" y="621.7" class="yl">100</text>
<line x1="61.45" y1="572.8" x2="65.75" y2="572.8" class="tk"/>
<text x="57.35" y="575.5" class="yl">200</text>
<line x1="61.45" y1="526.6" x2="65.75" y2="526.6" class="tk"/>
<text x="57.35" y="529.3" class="yl">300</text>
<line x1="61.45" y1="513.7" x2="65.75" y2="513.7" class="tk"/>
<text x="57.35" y="516.4" class="yl">600</text>
<line x1="61.45" y1="504.55" x2="65.75" y2="504.55" class="tk"/>
<text x="57.35" y="507.25" class="yl">900</text>
<line x1="61.45" y1="495.4" x2="65.75" y2="495.4" class="tk"/>
<text x="57.35" y="498.1" class="yl">1200</text>
<line x1="68.6" y1="665.2" x2="68.6" y2="669.7" class="tk"/>
<text x="68.6" y="680.6" class="xl">−24</text>
<line x1="95.14" y1="665.2" x2="95.14" y2="669.7" class="tk"/>
<text x="95.14" y="680.6" class="xl">−12</text>
<line x1="121.69" y1="665.2" x2="121.69" y2="669.7" class="tk"/>
<text x="121.69" y="680.6" class="xl">0</text>
<line x1="148.23" y1="665.2" x2="148.23" y2="669.7" class="tk"/>
<text x="148.23" y="680.6" class="xl">12</text>
<line x1="174.78" y1="665.2" x2="174.78" y2="669.7" class="tk"/>
<text x="174.78" y="680.6" class="xl">24</text>
<line x1="201.32" y1="665.2" x2="201.32" y2="669.7" class="tk"/>
<text x="201.32" y="680.6" class="xl">36</text>
<line x1="227.86" y1="665.2" x2="227.86" y2="669.7" class="tk"/>
<text x="227.86" y="680.6" class="xl">48</text>
<text x="8.3" y="483" class="let">E</text>
<text transform="translate(32,580.6) rotate(-90) scale(0.65,1)" class="yt">ALT</text>
<text transform="translate(148.2,696.1) scale(0.64,1)" class="mt">Months</text>
<rect x="370.26" y="619.54" width="1.4" height="1.4" class="r"/>
<rect x="342.74" y="634.06" width="1.4" height="1.4" class="r"/>
<rect x="353.54" y="621.92" width="1.4" height="1.4" class="r"/>
<rect x="369.06" y="632.32" width="1.4" height="1.4" class="r"/>
<rect x="366.98" y="635.61" width="1.4" height="1.4" class="r"/>
<rect x="364.5" y="635.42" width="1.4" height="1.4" class="r"/>
<rect x="370.87" y="632.3" width="1.4" height="1.4" class="r"/>
<rect x="364.69" y="622.72" width="1.4" height="1.4" class="r"/>
<rect x="334.02" y="612.75" width="1.4" height="1.4" class="r"/>
<rect x="352.24" y="639.86" width="1.4" height="1.4" class="r"/>
<rect x="362.06" y="630.46" width="1.4" height="1.4" class="r"/>
<rect x="359.66" y="634.15" width="1.4" height="1.4" class="r"/>
<rect x="347.85" y="610.52" width="1.4" height="1.4" class="r"/>
<rect x="355.84" y="615.02" width="1.4" height="1.4" class="r"/>
<rect x="370.89" y="629.25" width="1.4" height="1.4" class="r"/>
<rect x="347.91" y="623.38" width="1.4" height="1.4" class="r"/>
<rect x="359.7" y="631.35" width="1.4" height="1.4" class="r"/>
<rect x="356.39" y="634.06" width="1.4" height="1.4" class="r"/>
<rect x="345.36" y="636.29" width="1.4" height="1.4" class="r"/>
<rect x="336.35" y="631.53" width="1.4" height="1.4" class="r"/>
<rect x="365.34" y="632.62" width="1.4" height="1.4" class="r"/>
<rect x="330.08" y="631.04" width="1.4" height="1.4" class="r"/>
<rect x="361.31" y="637.62" width="1.4" height="1.4" class="r"/>
<rect x="349.34" y="629.85" width="1.4" height="1.4" class="r"/>
<rect x="331.99" y="633.01" width="1.4" height="1.4" class="r"/>
<rect x="349.79" y="624.64" width="1.4" height="1.4" class="r"/>
<rect x="379.89" y="615.61" width="1.4" height="1.4" class="r"/>
<rect x="375.24" y="631.95" width="1.4" height="1.4" class="r"/>
<rect x="370.41" y="619.84" width="1.4" height="1.4" class="r"/>
<rect x="365.73" y="641.25" width="1.4" height="1.4" class="r"/>
<rect x="367.84" y="636.24" width="1.4" height="1.4" class="r"/>
<rect x="369.78" y="642.05" width="1.4" height="1.4" class="r"/>
<rect x="335.59" y="622.18" width="1.4" height="1.4" class="r"/>
<rect x="342.47" y="610.14" width="1.4" height="1.4" class="r"/>
<rect x="342.39" y="631.36" width="1.4" height="1.4" class="r"/>
<rect x="360.89" y="636.4" width="1.4" height="1.4" class="r"/>
<rect x="353.97" y="637.62" width="1.4" height="1.4" class="r"/>
<rect x="345.02" y="622.98" width="1.4" height="1.4" class="r"/>
<rect x="363.32" y="610.23" width="1.4" height="1.4" class="r"/>
<rect x="348.66" y="623.05" width="1.4" height="1.4" class="r"/>
<rect x="349.82" y="612.99" width="1.4" height="1.4" class="r"/>
<rect x="377.68" y="642.25" width="1.4" height="1.4" class="r"/>
<rect x="352.46" y="641.95" width="1.4" height="1.4" class="r"/>
<rect x="369.24" y="633.36" width="1.4" height="1.4" class="r"/>
<rect x="347.94" y="611.71" width="1.4" height="1.4" class="r"/>
<rect x="332.42" y="630.51" width="1.4" height="1.4" class="r"/>
<rect x="360.95" y="632.57" width="1.4" height="1.4" class="r"/>
<rect x="371.31" y="619.88" width="1.4" height="1.4" class="r"/>
<rect x="334.38" y="640.52" width="1.4" height="1.4" class="r"/>
<rect x="361.58" y="626.78" width="1.4" height="1.4" class="r"/>
<rect x="361.71" y="641.01" width="1.4" height="1.4" class="r"/>
<rect x="362.62" y="610.73" width="1.4" height="1.4" class="r"/>
<rect x="361.77" y="627.15" width="1.4" height="1.4" class="r"/>
<rect x="372.3" y="634.61" width="1.4" height="1.4" class="r"/>
<rect x="376.37" y="610.87" width="1.4" height="1.4" class="r"/>
<rect x="352.6" y="613.03" width="1.4" height="1.4" class="r"/>
<rect x="336.29" y="610.54" width="1.4" height="1.4" class="r"/>
<rect x="352.02" y="620.35" width="1.4" height="1.4" class="r"/>
<rect x="343.51" y="628.5" width="1.4" height="1.4" class="r"/>
<rect x="370.62" y="623.77" width="1.4" height="1.4" class="r"/>
<rect x="377.84" y="631.62" width="1.4" height="1.4" class="r"/>
<rect x="343.68" y="620.7" width="1.4" height="1.4" class="r"/>
<rect x="376.93" y="641.26" width="1.4" height="1.4" class="r"/>
<rect x="371.46" y="618.47" width="1.4" height="1.4" class="r"/>
<rect x="330.89" y="637.7" width="1.4" height="1.4" class="r"/>
<rect x="331.89" y="613.59" width="1.4" height="1.4" class="r"/>
<rect x="378.36" y="622.55" width="1.4" height="1.4" class="r"/>
<rect x="333.22" y="627.43" width="1.4" height="1.4" class="r"/>
<rect x="357.52" y="619.34" width="1.4" height="1.4" class="r"/>
<rect x="333.09" y="635.83" width="1.4" height="1.4" class="r"/>
<rect x="330.78" y="626.66" width="1.4" height="1.4" class="r"/>
<rect x="343.78" y="635.23" width="1.4" height="1.4" class="r"/>
<rect x="349.3" y="639.56" width="1.4" height="1.4" class="r"/>
<rect x="358.4" y="620.94" width="1.4" height="1.4" class="r"/>
<rect x="337.65" y="639.33" width="1.4" height="1.4" class="r"/>
<rect x="358.83" y="617.76" width="1.4" height="1.4" class="r"/>
<rect x="338.94" y="637.57" width="1.4" height="1.4" class="r"/>
<rect x="352.02" y="629.88" width="1.4" height="1.4" class="r"/>
<rect x="357.72" y="614.63" width="1.4" height="1.4" class="r"/>
<rect x="362.59" y="621.94" width="1.4" height="1.4" class="r"/>
<rect x="363.7" y="626.36" width="1.4" height="1.4" class="r"/>
<rect x="361.57" y="641.56" width="1.4" height="1.4" class="r"/>
<rect x="331.26" y="627.41" width="1.4" height="1.4" class="r"/>
<rect x="366" y="637.74" width="1.4" height="1.4" class="r"/>
<rect x="330.87" y="613.14" width="1.4" height="1.4" class="r"/>
<rect x="340.88" y="610.25" width="1.4" height="1.4" class="r"/>
<rect x="344.39" y="614.46" width="1.4" height="1.4" class="r"/>
<rect x="373.93" y="634.07" width="1.4" height="1.4" class="r"/>
<rect x="335.41" y="630.06" width="1.4" height="1.4" class="r"/>
<rect x="331.79" y="613.91" width="1.4" height="1.4" class="r"/>
<rect x="364.19" y="616.02" width="1.4" height="1.4" class="r"/>
<rect x="344.06" y="639.8" width="1.4" height="1.4" class="r"/>
<rect x="373.68" y="613.11" width="1.4" height="1.4" class="r"/>
<rect x="340.27" y="624.43" width="1.4" height="1.4" class="r"/>
<rect x="370.12" y="608.7" width="1.4" height="1.4" class="r"/>
<rect x="365.86" y="613.34" width="1.4" height="1.4" class="r"/>
<rect x="334.05" y="629.15" width="1.4" height="1.4" class="r"/>
<rect x="348.2" y="630.49" width="1.4" height="1.4" class="r"/>
<rect x="330.65" y="609.71" width="1.4" height="1.4" class="r"/>
<rect x="351.75" y="628.75" width="1.4" height="1.4" class="r"/>
<rect x="336.42" y="641.47" width="1.4" height="1.4" class="r"/>
<rect x="329.33" y="627.99" width="1.4" height="1.4" class="r"/>
<rect x="359.78" y="640.67" width="1.4" height="1.4" class="r"/>
<rect x="350.9" y="630.13" width="1.4" height="1.4" class="r"/>
<rect x="349.07" y="617.87" width="1.4" height="1.4" class="r"/>
<rect x="361.65" y="624.11" width="1.4" height="1.4" class="r"/>
<rect x="336.28" y="625.76" width="1.4" height="1.4" class="r"/>
<rect x="352.41" y="617.61" width="1.4" height="1.4" class="r"/>
<rect x="378.27" y="618.94" width="1.4" height="1.4" class="r"/>
<rect x="335.41" y="619.78" width="1.4" height="1.4" class="r"/>
<rect x="373.81" y="615.1" width="1.4" height="1.4" class="r"/>
<rect x="371.21" y="611.96" width="1.4" height="1.4" class="r"/>
<rect x="375.75" y="630.86" width="1.4" height="1.4" class="r"/>
<rect x="374.22" y="622.67" width="1.4" height="1.4" class="r"/>
<rect x="342.23" y="637.7" width="1.4" height="1.4" class="r"/>
<rect x="373.46" y="642.26" width="1.4" height="1.4" class="r"/>
<rect x="344.98" y="634.56" width="1.4" height="1.4" class="r"/>
<rect x="368.96" y="627.95" width="1.4" height="1.4" class="r"/>
<rect x="348.89" y="630.97" width="1.4" height="1.4" class="r"/>
<rect x="372.52" y="609.57" width="1.4" height="1.4" class="r"/>
<rect x="356.13" y="619.48" width="1.4" height="1.4" class="r"/>
<rect x="348.05" y="611.96" width="1.4" height="1.4" class="r"/>
<rect x="359.83" y="616.05" width="1.4" height="1.4" class="r"/>
<rect x="370.49" y="640.68" width="1.4" height="1.4" class="r"/>
<rect x="334.86" y="614.56" width="1.4" height="1.4" class="r"/>
<rect x="337.23" y="627.44" width="1.4" height="1.4" class="r"/>
<rect x="364.79" y="628.01" width="1.4" height="1.4" class="r"/>
<rect x="379.93" y="627.2" width="1.4" height="1.4" class="r"/>
<rect x="347.37" y="633.24" width="1.4" height="1.4" class="r"/>
<rect x="376.65" y="640.03" width="1.4" height="1.4" class="r"/>
<rect x="361.75" y="614.15" width="1.4" height="1.4" class="r"/>
<rect x="352.89" y="634.66" width="1.4" height="1.4" class="r"/>
<rect x="352.78" y="617.7" width="1.4" height="1.4" class="r"/>
<rect x="367.19" y="616.55" width="1.4" height="1.4" class="r"/>
<rect x="376.39" y="642.3" width="1.4" height="1.4" class="r"/>
<rect x="399.85" y="626.72" width="1.4" height="1.4" class="b"/>
<rect x="391.36" y="638.01" width="1.4" height="1.4" class="b"/>
<rect x="396.65" y="632.52" width="1.4" height="1.4" class="b"/>
<rect x="384.32" y="619.72" width="1.4" height="1.4" class="b"/>
<rect x="398.87" y="631.84" width="1.4" height="1.4" class="b"/>
<rect x="391.63" y="642.02" width="1.4" height="1.4" class="b"/>
<rect x="392.87" y="624.7" width="1.4" height="1.4" class="b"/>
<rect x="391.16" y="626.71" width="1.4" height="1.4" class="b"/>
<rect x="401.59" y="617.74" width="1.4" height="1.4" class="b"/>
<rect x="383.69" y="631.25" width="1.4" height="1.4" class="b"/>
<rect x="398.1" y="643.47" width="1.4" height="1.4" class="b"/>
<rect x="391.01" y="633.81" width="1.4" height="1.4" class="b"/>
<rect x="389.17" y="628.44" width="1.4" height="1.4" class="b"/>
<rect x="391.31" y="644.67" width="1.4" height="1.4" class="b"/>
<rect x="383.2" y="614.39" width="1.4" height="1.4" class="b"/>
<rect x="394.67" y="628.52" width="1.4" height="1.4" class="b"/>
<rect x="392.15" y="639.65" width="1.4" height="1.4" class="b"/>
<rect x="382.99" y="639.03" width="1.4" height="1.4" class="b"/>
<rect x="388.34" y="641.41" width="1.4" height="1.4" class="b"/>
<rect x="396.77" y="610.32" width="1.4" height="1.4" class="b"/>
<rect x="386.62" y="615.63" width="1.4" height="1.4" class="b"/>
<rect x="384.08" y="620.01" width="1.4" height="1.4" class="b"/>
<rect x="385.97" y="627.8" width="1.4" height="1.4" class="b"/>
<rect x="386.68" y="633.73" width="1.4" height="1.4" class="b"/>
<rect x="389.44" y="625" width="1.4" height="1.4" class="b"/>
<rect x="390.85" y="615.18" width="1.4" height="1.4" class="b"/>
<rect x="394.41" y="632.3" width="1.4" height="1.4" class="b"/>
<rect x="401.64" y="632.21" width="1.4" height="1.4" class="b"/>
<rect x="398.95" y="638.15" width="1.4" height="1.4" class="b"/>
<rect x="401.6" y="635.63" width="1.4" height="1.4" class="b"/>
<rect x="389.67" y="646.11" width="1.4" height="1.4" class="b"/>
<rect x="400.13" y="637.96" width="1.4" height="1.4" class="b"/>
<rect x="395.22" y="631.91" width="1.4" height="1.4" class="b"/>
<rect x="392.4" y="640.57" width="1.4" height="1.4" class="b"/>
<rect x="391.02" y="639.55" width="1.4" height="1.4" class="b"/>
<rect x="387.53" y="638.15" width="1.4" height="1.4" class="b"/>
<rect x="388.44" y="633.01" width="1.4" height="1.4" class="b"/>
<rect x="399.26" y="612.93" width="1.4" height="1.4" class="b"/>
<rect x="387.92" y="630.91" width="1.4" height="1.4" class="b"/>
<rect x="400.08" y="642.09" width="1.4" height="1.4" class="b"/>
<rect x="383.3" y="628.62" width="1.4" height="1.4" class="b"/>
<rect x="385.34" y="614.77" width="1.4" height="1.4" class="b"/>
<rect x="399.49" y="624.63" width="1.4" height="1.4" class="b"/>
<rect x="398.09" y="640.46" width="1.4" height="1.4" class="b"/>
<rect x="390.22" y="641.23" width="1.4" height="1.4" class="b"/>
<rect x="387.78" y="640.2" width="1.4" height="1.4" class="b"/>
<rect x="384.26" y="638.91" width="1.4" height="1.4" class="b"/>
<rect x="388.8" y="631.42" width="1.4" height="1.4" class="b"/>
<rect x="394.47" y="637.25" width="1.4" height="1.4" class="b"/>
<rect x="394.52" y="639.54" width="1.4" height="1.4" class="b"/>
<rect x="384.54" y="624.04" width="1.4" height="1.4" class="b"/>
<rect x="386.72" y="633.47" width="1.4" height="1.4" class="b"/>
<rect x="395.18" y="615.6" width="1.4" height="1.4" class="b"/>
<rect x="386.12" y="612.99" width="1.4" height="1.4" class="b"/>
<rect x="390.39" y="633.26" width="1.4" height="1.4" class="b"/>
<rect x="384.67" y="609.93" width="1.4" height="1.4" class="b"/>
<rect x="389.53" y="638.35" width="1.4" height="1.4" class="b"/>
<rect x="400.4" y="636.66" width="1.4" height="1.4" class="b"/>
<rect x="396.48" y="628.11" width="1.4" height="1.4" class="b"/>
<rect x="390.48" y="620.98" width="1.4" height="1.4" class="b"/>
<rect x="394.02" y="640.69" width="1.4" height="1.4" class="b"/>
<rect x="399.99" y="633.28" width="1.4" height="1.4" class="b"/>
<rect x="395.77" y="637.18" width="1.4" height="1.4" class="b"/>
<rect x="391.32" y="650.54" width="1.4" height="1.4" class="b"/>
<rect x="399.91" y="617.73" width="1.4" height="1.4" class="b"/>
<rect x="394.99" y="611.27" width="1.4" height="1.4" class="b"/>
<rect x="401.73" y="636.81" width="1.4" height="1.4" class="b"/>
<rect x="389.5" y="617.74" width="1.4" height="1.4" class="b"/>
<rect x="403.13" y="641.85" width="1.4" height="1.4" class="b"/>
<rect x="406.8" y="619.05" width="1.4" height="1.4" class="b"/>
<rect x="409.32" y="619.11" width="1.4" height="1.4" class="b"/>
<rect x="415.07" y="623.88" width="1.4" height="1.4" class="b"/>
<rect x="412.57" y="628.43" width="1.4" height="1.4" class="b"/>
<rect x="410.41" y="640.88" width="1.4" height="1.4" class="b"/>
<rect x="413.45" y="643.46" width="1.4" height="1.4" class="b"/>
<rect x="412.86" y="642.99" width="1.4" height="1.4" class="b"/>
<rect x="402.6" y="619.75" width="1.4" height="1.4" class="b"/>
<rect x="408.61" y="621.02" width="1.4" height="1.4" class="b"/>
<rect x="404.93" y="626.01" width="1.4" height="1.4" class="b"/>
<rect x="402.85" y="627.92" width="1.4" height="1.4" class="b"/>
<rect x="407.74" y="637.73" width="1.4" height="1.4" class="b"/>
<rect x="407.11" y="618.7" width="1.4" height="1.4" class="b"/>
<rect x="440.19" y="635.13" width="1.4" height="1.4" class="b"/>
<rect x="465.15" y="642.31" width="1.4" height="1.4" class="b"/>
<rect x="501.87" y="640.14" width="1.4" height="1.4" class="b"/>
<rect x="475.09" y="633.99" width="1.4" height="1.4" class="b"/>
<rect x="496.35" y="635.53" width="1.4" height="1.4" class="b"/>
<rect x="422.69" y="623.4" width="1.4" height="1.4" class="b"/>
<rect x="432.55" y="629.33" width="1.4" height="1.4" class="b"/>
<rect x="465.8" y="641.36" width="1.4" height="1.4" class="b"/>
<rect x="474.65" y="638.76" width="1.4" height="1.4" class="b"/>
<rect x="483.66" y="643.07" width="1.4" height="1.4" class="b"/>
<rect x="463.46" y="639.02" width="1.4" height="1.4" class="b"/>
<rect x="418.05" y="635.43" width="1.4" height="1.4" class="b"/>
<rect x="434.49" y="637.76" width="1.4" height="1.4" class="b"/>
<rect x="468.05" y="628.28" width="1.4" height="1.4" class="b"/>
<rect x="459.55" y="636.54" width="1.4" height="1.4" class="b"/>
<rect x="491.87" y="627.5" width="1.4" height="1.4" class="b"/>
<rect x="474.9" y="639.3" width="1.4" height="1.4" class="b"/>
<rect x="440.49" y="638.42" width="1.4" height="1.4" class="b"/>
<rect x="418.36" y="637.94" width="1.4" height="1.4" class="b"/>
<rect x="436.07" y="635.22" width="1.4" height="1.4" class="b"/>
<rect x="473.17" y="638.97" width="1.4" height="1.4" class="b"/>
<rect x="451.41" y="639.39" width="1.4" height="1.4" class="b"/>
<rect x="440.78" y="633.99" width="1.4" height="1.4" class="b"/>
<rect x="468.2" y="628.2" width="1.4" height="1.4" class="b"/>
<rect x="459.83" y="632.7" width="1.4" height="1.4" class="b"/>
<rect x="421.25" y="636.11" width="1.4" height="1.4" class="b"/>
<rect x="416.55" y="636.92" width="1.4" height="1.4" class="b"/>
<rect x="501.09" y="636.3" width="1.4" height="1.4" class="b"/>
<rect x="449.86" y="641.37" width="1.4" height="1.4" class="b"/>
<rect x="441.13" y="622.95" width="1.4" height="1.4" class="b"/>
<rect x="439.37" y="629.7" width="1.4" height="1.4" class="b"/>
<rect x="471.4" y="639.44" width="1.4" height="1.4" class="b"/>
<rect x="468.39" y="628.49" width="1.4" height="1.4" class="b"/>
<rect x="496.14" y="641.9" width="1.4" height="1.4" class="b"/>
<rect x="433.93" y="633.23" width="1.4" height="1.4" class="b"/>
<rect x="417.86" y="636.95" width="1.4" height="1.4" class="b"/>
<rect x="433.3" y="623.65" width="1.4" height="1.4" class="b"/>
<rect x="449.33" y="635.88" width="1.4" height="1.4" class="b"/>
<rect x="420.69" y="621.59" width="1.4" height="1.4" class="b"/>
<rect x="469.05" y="642.31" width="1.4" height="1.4" class="b"/>
<rect x="430.38" y="637.81" width="1.4" height="1.4" class="b"/>
<rect x="440.74" y="629.56" width="1.4" height="1.4" class="b"/>
<rect x="426.63" y="625.66" width="1.4" height="1.4" class="b"/>
<rect x="425.6" y="629.19" width="1.4" height="1.4" class="b"/>
<rect x="448.48" y="638.25" width="1.4" height="1.4" class="b"/>
<rect x="436.58" y="625.47" width="1.4" height="1.4" class="b"/>
<rect x="444.4" y="627.97" width="1.4" height="1.4" class="b"/>
<rect x="465.05" y="641.94" width="1.4" height="1.4" class="b"/>
<rect x="492.53" y="639.14" width="1.4" height="1.4" class="b"/>
<rect x="452.97" y="641.9" width="1.4" height="1.4" class="b"/>
<rect x="460.73" y="638.67" width="1.4" height="1.4" class="b"/>
<rect x="476.19" y="644.36" width="1.4" height="1.4" class="b"/>
<rect x="494.73" y="641.35" width="1.4" height="1.4" class="b"/>
<rect x="480.1" y="634.62" width="1.4" height="1.4" class="b"/>
<rect x="471.95" y="633.6" width="1.4" height="1.4" class="b"/>
<rect x="416.11" y="622.55" width="1.4" height="1.4" class="b"/>
<rect x="477.94" y="629.11" width="1.4" height="1.4" class="b"/>
<rect x="433.24" y="640.77" width="1.4" height="1.4" class="b"/>
<rect x="333.85" y="579.95" width="1.4" height="1.4" class="r"/>
<rect x="340.48" y="580.88" width="1.4" height="1.4" class="r"/>
<rect x="362.6" y="577.18" width="1.4" height="1.4" class="r"/>
<rect x="360.39" y="579.49" width="1.4" height="1.4" class="r"/>
<rect x="362.6" y="580.88" width="1.4" height="1.4" class="r"/>
<rect x="360.39" y="582.4" width="1.4" height="1.4" class="r"/>
<rect x="376.09" y="584.34" width="1.4" height="1.4" class="r"/>
<rect x="365.03" y="588.96" width="1.4" height="1.4" class="r"/>
<rect x="367.25" y="591.74" width="1.4" height="1.4" class="r"/>
<rect x="356.41" y="589.38" width="1.4" height="1.4" class="r"/>
<rect x="358.4" y="592.71" width="1.4" height="1.4" class="r"/>
<rect x="360.39" y="595.02" width="1.4" height="1.4" class="r"/>
<rect x="358.4" y="597.05" width="1.4" height="1.4" class="r"/>
<rect x="362.6" y="597.28" width="1.4" height="1.4" class="r"/>
<rect x="365.03" y="596.36" width="1.4" height="1.4" class="r"/>
<rect x="342.69" y="594.41" width="1.4" height="1.4" class="r"/>
<rect x="344.91" y="595.2" width="1.4" height="1.4" class="r"/>
<rect x="342.69" y="597.05" width="1.4" height="1.4" class="r"/>
<rect x="349.11" y="597.83" width="1.4" height="1.4" class="r"/>
<rect x="333.85" y="599.36" width="1.4" height="1.4" class="r"/>
<rect x="358.4" y="599.36" width="1.4" height="1.4" class="r"/>
<rect x="355.97" y="600.98" width="1.4" height="1.4" class="r"/>
<rect x="373.66" y="599.82" width="1.4" height="1.4" class="r"/>
<rect x="378.31" y="601.3" width="1.4" height="1.4" class="r"/>
<rect x="329.2" y="604.76" width="1.4" height="1.4" class="r"/>
<rect x="347.12" y="603.38" width="1.4" height="1.4" class="r"/>
<rect x="351.1" y="603.38" width="1.4" height="1.4" class="r"/>
<rect x="353.75" y="603.38" width="1.4" height="1.4" class="r"/>
<rect x="342.69" y="606.75" width="1.4" height="1.4" class="r"/>
<rect x="344.91" y="605.55" width="1.4" height="1.4" class="r"/>
<rect x="333.85" y="606.75" width="1.4" height="1.4" class="r"/>
<rect x="347.12" y="607.86" width="1.4" height="1.4" class="r"/>
<rect x="353.75" y="607.21" width="1.4" height="1.4" class="r"/>
<rect x="355.97" y="606.75" width="1.4" height="1.4" class="r"/>
<rect x="358.4" y="606.98" width="1.4" height="1.4" class="r"/>
<rect x="369.24" y="606.75" width="1.4" height="1.4" class="r"/>
<rect x="382.51" y="607.21" width="1.4" height="1.4" class="b"/>
<rect x="331.41" y="608.32" width="1.4" height="1.4" class="r"/>
<rect x="335.84" y="609.98" width="1.4" height="1.4" class="r"/>
<rect x="340.48" y="609.29" width="1.4" height="1.4" class="r"/>
<rect x="353.53" y="520.41" width="1.4" height="1.4" class="r"/>
<rect x="329.86" y="538.84" width="1.4" height="1.4" class="r"/>
<rect x="331.85" y="539.76" width="1.4" height="1.4" class="r"/>
<rect x="342.47" y="542.21" width="1.4" height="1.4" class="r"/>
<rect x="364.37" y="543.59" width="1.4" height="1.4" class="r"/>
<rect x="357.96" y="557.32" width="1.4" height="1.4" class="r"/>
<rect x="357.96" y="561.01" width="1.4" height="1.4" class="r"/>
<rect x="361.94" y="560.09" width="1.4" height="1.4" class="r"/>
<rect x="348.67" y="561.01" width="1.4" height="1.4" class="r"/>
<rect x="350.88" y="564.71" width="1.4" height="1.4" class="r"/>
<rect x="350.88" y="567.02" width="1.4" height="1.4" class="r"/>
<rect x="333.62" y="579.95" width="1.4" height="1.4" class="r"/>
<rect x="342.47" y="580.88" width="1.4" height="1.4" class="r"/>
<rect x="363.49" y="577.18" width="1.4" height="1.4" class="r"/>
<rect x="362.38" y="579.95" width="1.4" height="1.4" class="r"/>
<rect x="364.15" y="581.34" width="1.4" height="1.4" class="r"/>
<rect x="362.38" y="582.73" width="1.4" height="1.4" class="r"/>
<rect x="373.44" y="584.11" width="1.4" height="1.4" class="r"/>
<rect x="400.21" y="561.94" width="1.4" height="1.4" class="b"/>
<rect x="402.2" y="575.8" width="1.4" height="1.4" class="b"/>
<rect x="389.15" y="589.19" width="1.4" height="1.4" class="b"/>
<rect x="386.71" y="595.66" width="1.4" height="1.4" class="b"/>
<rect x="404.41" y="595.89" width="1.4" height="1.4" class="b"/>
<rect x="417.68" y="606.75" width="1.4" height="1.4" class="b"/>
<rect x="382.29" y="606.75" width="1.4" height="1.4" class="b"/>
<rect x="477.63" y="606.29" width="1.4" height="1.4" class="b"/>
<rect x="446.44" y="613.68" width="1.4" height="1.4" class="b"/>
<rect x="467.67" y="618.76" width="1.4" height="1.4" class="b"/>
<rect x="480.72" y="619.69" width="1.4" height="1.4" class="b"/>
<rect x="450.86" y="622.92" width="1.4" height="1.4" class="b"/>
<rect x="453.07" y="623.38" width="1.4" height="1.4" class="b"/>
<rect x="457.5" y="622" width="1.4" height="1.4" class="b"/>
<rect x="459.71" y="622.92" width="1.4" height="1.4" class="b"/>
<rect x="463.03" y="622.46" width="1.4" height="1.4" class="b"/>
<rect x="466.34" y="625.23" width="1.4" height="1.4" class="b"/>
<rect x="475.19" y="624.77" width="1.4" height="1.4" class="b"/>
<rect x="479.62" y="625.69" width="1.4" height="1.4" class="b"/>
<rect x="490.68" y="625.69" width="1.4" height="1.4" class="b"/>
<rect x="445.33" y="625.69" width="1.4" height="1.4" class="b"/>
<rect x="486.25" y="626.15" width="1.4" height="1.4" class="b"/>
<rect x="448.65" y="635.86" width="1.4" height="1.4" class="b"/>
<rect x="455.28" y="636.78" width="1.4" height="1.4" class="b"/>
<rect x="459.71" y="637.7" width="1.4" height="1.4" class="b"/>
<rect x="470.77" y="638.17" width="1.4" height="1.4" class="b"/>
<rect x="481.83" y="638.63" width="1.4" height="1.4" class="b"/>
<rect x="492.89" y="639.09" width="1.4" height="1.4" class="b"/>
<rect x="497.31" y="637.7" width="1.4" height="1.4" class="b"/>
<rect x="499.52" y="639.09" width="1.4" height="1.4" class="b"/>
<path d="M329.9,608.84 L332.05,609.13 L334.19,609.4 L336.34,609.66 L338.49,609.9 L340.64,610.13 L342.78,610.34 L344.93,610.53 L347.08,610.71 L349.23,610.87 L351.37,611.02 L353.52,611.15 L355.67,611.26 L357.82,611.36 L359.96,611.44 L362.11,611.51 L364.26,611.56 L366.41,611.59 L368.55,611.61 L370.7,611.61 L372.85,611.6 L375,611.56 L377.14,611.52 L379.29,611.46 L381.44,611.38 L381.44,622.47 L379.29,622.21 L377.14,621.98 L375,621.76 L372.85,621.55 L370.7,621.37 L368.55,621.19 L366.41,621.04 L364.26,620.9 L362.11,620.78 L359.96,620.67 L357.82,620.58 L355.67,620.5 L353.52,620.44 L351.37,620.4 L349.23,620.37 L347.08,620.36 L344.93,620.37 L342.78,620.39 L340.64,620.42 L338.49,620.48 L336.34,620.54 L334.19,620.63 L332.05,620.73 L329.9,620.85 Z" class="band"/>
<path d="M382.99,625.47 L388.06,626.12 L393.13,626.75 L398.2,627.35 L403.26,627.94 L408.33,628.51 L413.4,629.05 L418.47,629.58 L423.54,630.08 L428.61,630.57 L433.68,631.03 L438.75,631.47 L443.82,631.89 L448.89,632.29 L453.96,632.67 L459.03,633.03 L464.09,633.36 L469.16,633.68 L474.23,633.97 L479.3,634.25 L484.37,634.5 L489.44,634.74 L494.51,634.95 L499.58,635.14 L504.65,635.31 L504.65,642.7 L499.58,641.92 L494.51,641.15 L489.44,640.41 L484.37,639.69 L479.3,638.99 L474.23,638.31 L469.16,637.65 L464.09,637.01 L459.03,636.39 L453.96,635.79 L448.89,635.22 L443.82,634.66 L438.75,634.13 L433.68,633.61 L428.61,633.12 L423.54,632.65 L418.47,632.2 L413.4,631.77 L408.33,631.36 L403.26,630.97 L398.2,630.6 L393.13,630.26 L388.06,629.93 L382.99,629.63 Z" class="band"/>
<line x1="329.9" y1="614.84" x2="381.44" y2="616.92" class="rl"/>
<line x1="382.99" y1="627.55" x2="504.65" y2="639" class="rl"/>
<line x1="327.05" y1="491.6" x2="327.05" y2="522.7" class="ax"/>
<line x1="327.05" y1="525.4" x2="327.05" y2="665.75" class="ax"/>
<line x1="322.75" y1="665.5" x2="510.5" y2="665.5" class="ax"/>
<text x="318.65" y="667.9" class="yl">0</text>
<line x1="322.75" y1="619" x2="327.05" y2="619" class="tk"/>
<text x="318.65" y="621.7" class="yl">100</text>
<line x1="322.75" y1="572.8" x2="327.05" y2="572.8" class="tk"/>
<text x="318.65" y="575.5" class="yl">200</text>
<line x1="322.75" y1="526.6" x2="327.05" y2="526.6" class="tk"/>
<text x="318.65" y="529.3" class="yl">300</text>
<line x1="322.75" y1="513.7" x2="327.05" y2="513.7" class="tk"/>
<text x="318.65" y="516.4" class="yl">600</text>
<line x1="322.75" y1="504.55" x2="327.05" y2="504.55" class="tk"/>
<text x="318.65" y="507.25" class="yl">900</text>
<line x1="322.75" y1="495.4" x2="327.05" y2="495.4" class="tk"/>
<text x="318.65" y="498.1" class="yl">1200</text>
<line x1="329.9" y1="665.2" x2="329.9" y2="669.7" class="tk"/>
<text x="329.9" y="680.6" class="xl">−24</text>
<line x1="356.44" y1="665.2" x2="356.44" y2="669.7" class="tk"/>
<text x="356.44" y="680.6" class="xl">−12</text>
<line x1="382.99" y1="665.2" x2="382.99" y2="669.7" class="tk"/>
<text x="382.99" y="680.6" class="xl">0</text>
<line x1="409.53" y1="665.2" x2="409.53" y2="669.7" class="tk"/>
<text x="409.53" y="680.6" class="xl">12</text>
<line x1="436.08" y1="665.2" x2="436.08" y2="669.7" class="tk"/>
<text x="436.08" y="680.6" class="xl">24</text>
<line x1="462.62" y1="665.2" x2="462.62" y2="669.7" class="tk"/>
<text x="462.62" y="680.6" class="xl">36</text>
<line x1="489.16" y1="665.2" x2="489.16" y2="669.7" class="tk"/>
<text x="489.16" y="680.6" class="xl">48</text>
<text x="269.6" y="483" class="let">F</text>
<text transform="translate(293.3,580.6) rotate(-90) scale(0.65,1)" class="yt">ALP</text>
<text transform="translate(409.5,696.1) scale(0.64,1)" class="mt">Months</text>
<rect x="0.5" y="0.5" width="519" height="707" fill="none" stroke="#2a2a2a" stroke-width="1.1"/>
</svg></body></html>
